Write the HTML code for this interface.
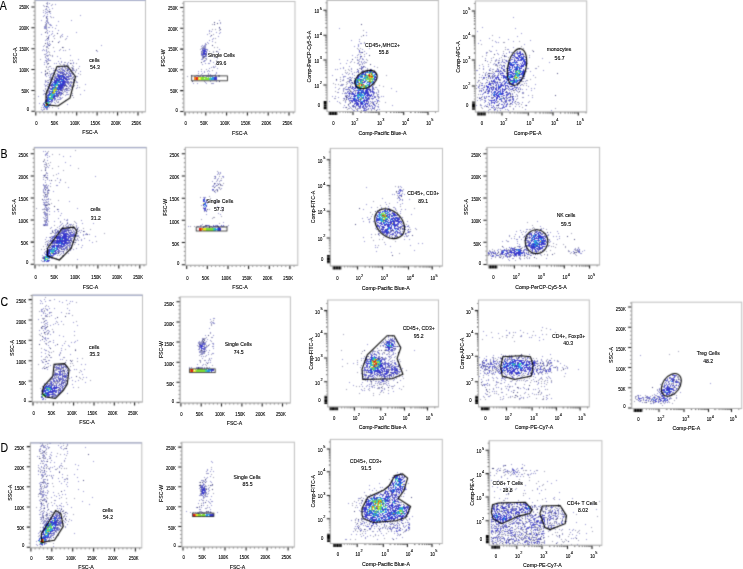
<!DOCTYPE html><html><head><meta charset="utf-8"><style>html,body{margin:0;padding:0;background:#fff;width:743px;height:569px;overflow:hidden}svg{display:block}text{font-family:"Liberation Sans",sans-serif;fill:#000;stroke:#000;stroke-width:0.12px}</style></head><body>
<svg width="743" height="569" viewBox="0 0 743 569">
<rect width="743" height="569" fill="#fff"/><defs><filter id="soft" filterUnits="userSpaceOnUse" x="0" y="0" width="743" height="569" color-interpolation-filters="sRGB"><feConvolveMatrix order="3" kernelMatrix="1 4 1 4 16 4 1 4 1" divisor="36" edgeMode="duplicate"/></filter></defs><g filter="url(#soft)">
<defs><filter id="bl" x="0" y="0" width="1" height="1"><feGaussianBlur stdDeviation="0.35"/></filter></defs><g><path d="M47 2h1M49 3h1M47 4h1M55 4h1M51 5h1M44 6h1M47 6h1M48 7h1M52 8h1M45 9h2M49 9h1M47 10h1M45 11h1M43 12h1M46 12h2M49 12h1M45 13h1M50 13h1M47 14h1M44 15h1M80 15h1M43 16h1M46 16h2M50 16h1M53 17h1M513 17h1M47 18h1M47 19h1M41 20h1M46 20h1M71 20h1M219 20h1M46 21h2M58 21h1M48 22h1M48 23h1M220 23h1M49 24h2M45 25h1M50 25h2M56 25h1M44 26h2M44 27h3M48 27h2M52 27h1M482 27h1M44 28h3M55 28h1M219 28h1M339 28h1M515 28h1M47 30h1M58 30h1M209 30h1M49 31h1M52 31h1M209 31h1M211 31h1M477 31h1M47 32h1M76 32h1M216 32h1M220 32h1M366 32h1M47 33h1M52 33h1M219 33h1M521 33h1M41 34h1M51 34h1M62 34h1M207 34h1M49 35h1M61 35h1M366 35h1M48 36h1M53 36h1M62 36h1M67 36h1M210 36h1M218 36h1M517 36h1M499 37h1M48 38h1M66 38h1M213 38h1M489 38h1M46 39h1M48 39h1M212 39h1M359 39h1M508 39h1M45 40h1M47 40h1M209 40h1M351 40h1M480 40h1M530 40h1M59 41h1M212 41h1M359 41h1M495 41h1M513 41h1M47 42h1M207 42h1M496 42h1M498 42h1M47 43h1M49 43h1M205 43h1M208 43h1M360 43h2M364 43h1M478 43h1M48 44h1M50 44h1M205 44h1M358 44h1M524 44h1M48 45h1M101 45h1M202 45h1M204 45h2M358 45h1M43 46h1M46 46h2M201 46h1M203 46h3M354 46h1M358 46h1M492 46h1M205 47h1M513 47h1M201 48h1M369 48h1M519 48h1M43 49h1M69 49h1M207 49h1M219 49h1M362 49h1M507 49h2M519 49h1M42 50h1M44 50h1M46 50h1M59 50h1M63 50h1M496 50h1M46 51h1M54 51h1M97 51h1M364 51h1M490 51h2M47 52h1M218 52h1M486 52h1M511 52h1M46 53h1M366 53h1M486 53h1M497 53h1M503 53h1M506 53h1M44 54h1M358 54h1M498 54h1M46 55h3M70 55h1M212 55h1M352 55h1M357 55h1M502 55h1M52 56h1M57 56h1M202 56h1M206 56h1M364 56h1M505 56h2M510 56h1M45 57h1M202 57h1M214 57h1M355 57h1M360 57h1M529 57h1M46 58h1M48 58h1M60 58h1M202 58h1M206 58h1M217 58h1M360 58h1M362 58h1M485 58h1M491 58h1M499 58h1M542 58h1M47 59h2M78 59h1M201 59h2M339 59h1M357 59h1M359 59h1M362 59h2M496 59h1M502 59h1M504 59h1M45 60h2M48 60h3M72 60h1M204 60h2M347 60h1M358 60h1M495 60h2M498 60h1M505 60h1M508 60h1M46 61h1M58 61h1M61 61h1M203 61h2M210 61h1M351 61h1M359 61h1M361 61h1M364 61h1M487 61h1M507 61h1M44 62h1M46 62h1M61 62h1M64 62h1M68 62h1M73 62h1M213 62h1M217 62h1M361 62h1M363 62h1M365 62h1M499 62h1M501 62h1M503 62h1M549 62h1M54 63h1M56 63h1M59 63h1M67 63h1M71 63h1M73 63h1M205 63h1M208 63h2M340 63h1M346 63h1M357 63h2M362 63h1M494 63h1M44 64h1M47 64h1M63 64h1M67 64h1M202 64h1M359 64h1M362 64h1M493 64h1M64 65h1M68 65h1M479 65h1M499 65h1M61 66h2M64 66h1M67 66h1M73 66h1M79 66h1M213 66h1M215 66h1M349 66h1M364 66h1M374 66h1M483 66h1M488 66h1M48 67h1M56 67h1M58 67h2M62 67h1M64 67h2M68 67h1M211 67h1M214 67h1M343 67h1M363 67h1M365 67h1M51 68h1M53 68h1M61 68h2M68 68h1M73 68h1M209 68h1M217 68h1M340 68h1M343 68h1M351 68h1M359 68h1M362 68h1M483 68h1M490 68h1M497 68h1M527 68h2M536 68h1M55 69h1M58 69h1M61 69h3M69 69h2M76 69h1M335 69h1M337 69h1M351 69h1M367 69h1M483 69h1M493 69h1M53 70h4M62 70h1M70 70h1M72 70h3M208 70h1M363 70h1M476 70h2M490 70h1M543 70h1M49 71h1M61 71h1M80 71h1M198 71h1M201 71h1M204 71h1M207 71h1M209 71h1M351 71h1M358 71h1M526 71h1M530 71h1M41 72h1M53 72h2M68 72h1M71 72h1M204 72h1M216 72h1M354 72h1M356 72h1M486 72h1M45 73h1M52 73h3M57 73h1M72 73h2M78 73h1M198 73h1M202 73h1M208 73h1M216 73h1M346 73h1M352 73h1M485 73h1M490 73h1M492 73h1M50 74h2M55 74h1M72 74h2M201 74h1M210 74h1M215 74h1M342 74h1M348 74h1M352 74h1M475 74h1M479 74h1M485 74h1M487 74h1M45 75h1M48 75h1M50 75h1M52 75h1M71 75h1M197 75h2M200 75h1M203 75h3M207 75h1M210 75h5M219 75h1M332 75h1M354 75h1M482 75h1M533 75h1M46 76h1M50 76h1M55 76h1M71 76h1M77 76h1M195 76h1M198 76h3M203 76h1M206 76h2M210 76h1M212 76h1M215 76h2M218 76h1M343 76h3M49 77h4M54 77h1M72 77h2M343 77h1M352 77h1M481 77h1M51 78h1M69 78h1M71 78h1M347 78h2M524 78h1M52 79h1M343 79h1M45 80h1M50 80h1M73 80h1M336 80h1M342 80h1M479 80h1M526 80h1M45 81h2M50 81h1M70 81h1M76 81h1M210 81h1M216 81h1M523 81h1M525 81h1M45 82h1M47 82h1M70 82h1M73 82h1M77 82h1M205 82h1M349 82h1M477 82h1M49 83h1M193 83h1M197 83h1M206 83h1M212 83h2M347 83h1M526 83h1M44 84h1M47 84h1M73 84h1M85 84h1M342 84h1M522 84h1M535 84h1M45 85h2M69 85h1M77 85h1M340 85h3M373 85h1M476 85h1M479 85h1M45 86h1M47 86h2M67 86h1M69 86h2M478 86h1M528 86h1M48 87h1M68 87h1M72 87h1M77 87h1M335 87h1M345 87h1M376 87h1M483 87h1M519 87h1M45 88h1M65 88h1M67 88h1M69 88h1M76 88h1M343 88h1M391 88h1M479 88h1M481 88h2M531 88h1M534 88h1M48 89h1M63 89h1M67 89h1M70 89h1M72 89h1M338 89h1M343 89h1M345 89h1M377 89h1M522 89h1M526 89h1M43 90h1M48 90h1M64 90h1M67 90h2M84 90h1M343 90h1M509 90h1M531 90h1M44 91h1M46 91h1M65 91h1M378 91h1M396 91h1M479 91h1M517 91h1M63 92h1M66 92h2M338 92h1M345 92h1M376 92h1M378 92h1M522 92h2M44 93h2M60 93h1M342 93h1M344 93h2M376 93h1M522 93h1M43 94h1M45 94h1M60 94h1M66 94h3M80 94h1M378 94h1M480 94h1M491 94h1M516 94h1M65 95h1M70 95h1M377 95h1M528 95h1M38 96h1M332 96h1M335 96h1M381 96h1M383 96h1M482 96h1M484 96h1M517 96h1M57 97h1M59 97h2M62 97h1M338 97h1M379 97h1M479 97h1M523 97h1M532 97h1M60 98h2M334 98h1M343 98h1M484 98h1M55 99h1M57 99h4M481 99h1M488 99h1M516 99h1M54 100h1M65 100h1M477 100h1M480 100h1M484 100h2M329 101h1M337 101h1M345 101h1M372 101h1M374 101h2M54 102h1M57 102h1M339 102h1M345 102h1M372 102h1M484 102h1M488 102h1M514 102h1M517 102h2M522 102h1M528 102h1M39 103h1M55 103h1M349 103h1M515 103h1M67 104h1M369 104h1M378 104h1M487 104h1M510 104h1M512 104h1M518 104h1M42 105h1M344 105h1M348 105h1M352 105h1M375 105h1M392 105h1M476 105h1M480 105h2M485 105h1M525 105h1M349 106h1M370 106h1M375 106h1M377 106h2M484 106h1M515 106h1M519 106h1M343 107h1M345 107h1M350 107h1M372 107h1M378 107h1M58 108h1M349 108h1M358 108h2M370 108h1M513 108h1M43 109h1M46 109h2M352 109h1M367 109h1M371 109h1M377 109h1M379 109h1M490 109h1M505 109h1M507 109h1M525 109h1M42 110h1M353 110h2M366 110h1M488 110h1M494 110h1M497 110h1M500 110h1M508 110h1M551 110h1M478 111h1M484 111h1M497 111h1M512 111h1M43 151h1M45 151h1M46 153h2M45 154h2M45 155h1M47 155h1M49 156h1M63 156h1M70 156h1M47 157h1M47 160h1M45 162h1M65 162h1M44 164h1M46 165h1M49 165h1M70 165h1M46 167h1M48 167h1M45 169h1M46 172h1M218 172h1M220 172h1M47 173h1M58 173h1M218 173h1M220 173h1M217 174h1M43 175h1M45 175h1M47 175h1M44 176h1M95 176h1M222 176h2M47 177h1M223 177h1M47 178h1M57 178h1M214 178h2M218 178h1M43 179h1M217 179h1M45 180h1M49 180h1M60 180h1M221 180h1M212 181h1M216 181h1M219 181h1M45 182h1M59 182h1M50 183h1M215 183h1M217 183h1M219 183h1M43 184h1M214 184h1M43 185h4M48 185h1M56 185h2M213 185h1M222 185h1M45 186h1M47 186h1M212 186h2M215 186h1M400 186h1M44 187h1M46 187h2M68 187h1M366 187h1M398 187h1M401 187h1M47 188h1M219 188h1M221 188h1M43 189h1M48 189h1M217 189h1M43 190h1M45 190h1M47 190h1M49 190h1M212 190h2M215 190h1M402 190h1M43 191h1M47 191h1M53 191h1M402 191h1M44 192h2M47 192h2M215 192h1M44 193h1M397 193h1M402 193h1M392 194h1M394 194h1M404 194h1M45 195h1M47 195h1M44 196h1M46 196h2M44 197h1M203 197h3M48 198h1M382 198h1M44 199h1M46 199h3M402 199h1M409 199h1M43 200h1M45 200h1M399 200h1M402 200h1M48 201h1M69 201h1M43 202h5M216 202h1M385 202h1M397 202h1M44 203h1M48 203h1M402 203h1M43 204h2M47 204h1M366 204h1M386 204h1M400 204h1M45 206h1M217 206h1M388 206h1M45 207h2M48 207h1M221 207h1M371 207h1M381 207h1M394 207h1M44 208h1M46 208h2M49 208h1M77 208h1M395 208h1M42 209h1M47 209h2M58 209h1M222 209h1M363 209h1M379 209h1M395 209h1M401 209h1M405 209h1M377 210h1M392 210h1M47 211h1M49 211h1M54 211h1M58 211h1M400 211h1M44 212h2M397 212h1M44 213h2M47 213h1M61 213h1M218 213h1M400 213h1M44 214h4M49 214h1M206 214h1M220 214h1M411 214h1M45 215h2M60 215h1M45 216h1M371 216h1M43 217h1M46 217h2M367 217h1M402 217h1M44 218h1M47 218h1M58 218h1M362 218h1M370 218h1M47 219h1M64 219h1M67 219h1M368 219h2M46 220h1M66 220h2M81 220h1M44 221h1M46 221h1M48 221h1M54 221h1M60 221h1M363 221h1M369 221h1M373 221h1M407 221h1M537 221h1M45 222h1M67 222h1M223 222h1M369 222h1M375 222h1M45 223h1M47 223h1M62 223h1M76 223h1M82 223h1M93 223h1M375 223h1M43 224h2M46 224h2M61 224h1M66 224h1M69 224h3M202 224h1M43 225h1M45 225h3M60 225h1M65 225h1M76 225h1M200 225h1M215 225h2M408 225h1M59 226h1M66 226h3M73 226h1M188 226h1M197 226h2M200 226h1M227 226h1M408 226h1M540 226h1M51 227h1M63 227h1M69 227h1M73 227h1M76 227h1M78 227h1M409 227h1M59 228h1M61 228h1M67 228h1M73 228h1M375 228h1M415 228h1M543 228h1M55 229h2M76 229h1M376 229h1M526 229h2M530 229h1M537 229h1M541 229h1M52 230h1M54 230h2M57 230h2M70 230h2M73 230h1M75 230h1M79 230h1M81 230h1M407 230h1M520 230h1M541 230h1M55 231h1M60 231h1M71 231h1M73 231h2M76 231h1M78 231h1M84 231h1M378 231h1M402 231h1M404 231h1M410 231h1M516 231h1M526 231h1M557 231h1M52 232h1M55 232h1M57 232h1M74 232h1M76 232h1M80 232h1M407 232h1M409 232h1M521 232h1M525 232h1M530 232h1M532 232h1M550 232h1M50 233h1M55 233h1M74 233h1M76 233h2M86 233h1M378 233h2M403 233h1M542 233h1M558 233h1M55 234h1M83 234h1M85 234h2M89 234h1M371 234h1M403 234h1M515 234h1M526 234h1M548 234h1M75 235h4M83 235h1M379 235h1M392 235h1M408 235h1M509 235h1M525 235h2M547 235h2M51 236h1M74 236h2M77 236h1M95 236h1M404 236h1M406 236h2M519 236h1M553 236h1M556 236h1M559 236h1M46 237h1M49 237h1M79 237h1M363 237h1M383 237h1M519 237h1M523 237h1M72 238h1M84 238h1M389 238h1M511 238h1M514 238h1M559 238h1M45 239h1M50 239h1M71 239h1M74 239h2M77 239h1M81 239h1M404 239h1M409 239h1M516 239h2M521 239h1M557 239h1M48 240h1M73 240h1M78 240h1M81 240h1M89 240h1M506 240h1M524 240h1M549 240h1M49 241h1M364 241h1M502 241h1M508 241h1M517 241h1M548 241h1M550 241h1M45 242h1M72 242h1M92 242h1M47 243h1M49 243h1M69 243h2M418 243h1M422 243h1M517 243h1M69 244h2M72 244h1M78 244h1M385 244h1M519 244h1M525 244h1M67 245h1M69 245h3M82 245h1M375 245h1M410 245h1M71 246h1M390 246h1M518 246h1M520 246h1M546 246h1M548 246h1M69 247h2M81 247h1M375 247h1M377 247h1M503 247h1M511 247h1M46 248h1M66 248h1M71 248h1M76 248h1M575 248h1M578 248h1M70 249h1M73 249h1M498 249h1M544 249h1M574 249h1M46 250h1M66 250h1M70 250h1M414 250h1M497 250h1M577 250h1M584 250h1M45 251h1M59 251h4M67 251h1M376 251h1M494 251h1M498 251h1M542 251h1M569 251h1M582 251h1M44 252h1M59 252h1M63 252h1M66 252h1M391 252h1M490 252h2M571 252h1M44 253h1M57 253h1M61 253h1M63 253h1M68 253h1M536 253h1M574 253h1M580 253h2M60 254h1M491 254h1M533 254h1M540 254h1M42 255h1M57 255h1M490 255h1M510 255h1M63 256h1M491 256h1M493 256h1M495 256h1M506 256h1M527 256h1M499 257h1M503 257h1M519 257h1M51 258h2M54 258h1M56 258h1M491 258h1M502 258h1M512 258h2M527 258h1M529 258h1M546 258h1M77 259h1M520 259h1M41 260h1M509 260h1M42 261h1M44 299h1M54 299h1M40 300h1M49 300h1M66 300h1M41 301h1M45 301h1M59 301h1M70 301h1M72 301h1M62 302h1M40 303h1M42 303h1M69 303h1M45 306h1M48 306h1M43 308h1M49 308h1M54 308h1M67 308h1M41 309h2M46 309h2M41 310h1M47 310h1M69 310h1M41 311h2M43 312h1M49 312h2M61 312h1M43 313h1M45 313h1M49 313h1M69 313h1M47 314h1M41 315h1M45 315h1M51 315h1M46 316h1M43 318h1M55 318h1M213 318h2M38 319h1M210 319h1M45 320h2M56 321h1M61 321h1M41 322h1M43 322h1M47 322h1M73 322h1M210 322h1M212 322h2M45 323h2M55 323h1M211 323h1M213 323h2M47 324h1M53 324h1M58 324h1M45 325h1M50 325h1M77 325h1M43 326h2M45 327h1M542 327h1M41 328h1M44 328h2M209 328h1M45 329h1M550 329h1M39 330h1M43 330h1M48 330h1M506 330h1M520 330h1M46 331h1M49 331h1M74 331h1M483 331h1M45 332h1M48 332h1M53 332h1M210 332h1M509 332h1M515 332h1M41 333h1M498 333h1M509 333h1M527 333h1M47 334h1M50 334h1M542 334h1M59 335h1M205 335h1M213 335h1M388 335h1M392 335h1M486 335h1M506 335h1M521 335h1M535 335h1M63 336h1M388 336h1M521 336h1M43 337h1M45 337h1M212 337h1M388 337h1M492 337h1M529 337h1M531 337h1M539 337h1M44 338h2M47 338h2M202 338h1M205 338h1M390 338h1M394 338h1M45 339h1M202 339h1M207 339h1M388 339h1M543 339h1M40 340h1M46 340h1M53 340h1M77 340h1M210 340h1M385 340h1M539 340h1M44 341h1M50 341h1M75 341h1M199 341h1M202 341h1M206 341h1M383 341h1M396 341h1M48 342h1M53 342h1M71 342h1M74 342h1M198 342h4M205 342h1M382 342h1M64 343h1M198 343h1M201 343h1M205 343h1M212 343h2M381 343h1M46 344h1M205 344h1M209 344h1M213 344h1M367 344h1M48 345h1M55 345h1M62 345h1M68 345h1M197 345h1M199 345h1M380 345h1M382 345h1M69 346h1M207 346h1M212 346h2M383 346h1M399 346h2M49 347h1M206 347h1M61 348h1M213 348h1M377 348h1M44 349h1M198 349h2M205 349h1M395 349h1M45 350h2M61 350h1M204 350h1M206 350h1M209 350h1M373 350h1M378 350h1M393 350h2M414 350h1M199 351h2M202 351h1M205 351h1M373 351h2M377 351h1M391 351h2M41 352h1M49 352h1M60 352h1M199 352h2M202 352h1M208 352h1M372 352h1M377 352h1M389 352h1M393 352h1M45 353h1M201 353h4M212 353h2M370 353h1M372 353h1M378 353h1M382 353h1M393 353h1M395 353h1M711 353h1M59 354h1M70 354h1M200 354h1M202 354h1M208 354h1M370 354h1M376 354h1M379 354h1M382 354h1M386 354h2M389 354h1M392 354h2M501 354h1M529 354h1M550 354h1M59 355h1M206 355h1M391 355h1M493 355h1M503 355h1M505 355h1M509 355h1M511 355h1M520 355h1M640 355h1M41 356h1M46 356h1M201 356h1M203 356h1M366 356h2M388 356h3M486 356h1M519 356h1M542 356h1M50 357h1M64 357h1M365 357h1M385 357h1M389 357h1M391 357h1M394 357h1M479 357h1M492 357h1M498 357h1M502 357h1M516 357h1M527 357h2M77 358h1M202 358h1M209 358h1M211 358h1M361 358h1M363 358h1M385 358h2M484 358h1M493 358h1M529 358h1M531 358h1M45 359h1M60 359h1M62 359h1M342 359h1M385 359h1M389 359h1M399 359h1M490 359h1M541 359h1M41 360h1M49 360h1M205 360h1M208 360h1M210 360h1M388 360h1M392 360h1M394 360h1M490 360h1M537 360h1M541 360h1M554 360h1M42 361h1M45 361h1M200 361h1M364 361h1M385 361h1M390 361h2M397 361h2M542 361h1M546 361h1M557 361h2M707 361h1M43 362h1M206 362h1M208 362h1M210 362h1M357 362h1M388 362h1M392 362h1M394 362h2M497 362h1M47 363h2M353 363h1M363 363h2M389 363h1M560 363h1M45 364h1M54 364h1M58 364h2M63 364h3M81 364h1M85 364h1M197 364h1M203 364h1M396 364h1M50 365h1M55 365h1M58 365h1M63 365h1M65 365h2M202 365h1M393 365h1M399 365h1M479 365h1M552 365h1M564 365h1M54 366h1M63 366h1M540 366h1M546 366h1M47 367h1M56 367h1M59 367h1M66 367h1M191 367h1M196 367h2M199 367h2M202 367h1M204 367h1M209 367h1M360 367h1M399 367h1M480 367h1M553 367h2M562 367h1M567 367h1M42 368h1M45 368h1M66 368h1M189 368h1M196 368h2M199 368h2M204 368h1M208 368h1M362 368h1M402 368h1M557 368h1M565 368h1M567 368h1M47 369h1M58 369h1M61 369h1M65 369h1M67 369h1M74 369h1M76 369h1M84 369h1M203 369h1M399 369h2M547 369h1M578 369h1M55 370h2M70 370h1M363 370h1M480 370h1M485 370h1M557 370h1M54 371h1M62 371h1M66 371h1M81 371h1M362 371h1M399 371h2M483 371h1M491 371h1M550 371h1M55 372h1M64 372h1M364 372h1M484 372h1M487 372h1M493 372h1M540 372h1M361 373h2M402 373h1M480 373h1M484 373h2M488 373h1M491 373h3M547 373h1M565 373h1M68 374h1M82 374h1M363 374h1M397 374h1M494 374h1M507 374h1M538 374h1M542 374h1M672 374h2M483 375h1M488 375h1M506 375h1M510 375h1M514 375h1M362 376h1M374 376h1M387 376h1M393 376h1M395 376h2M399 376h1M402 376h1M479 376h1M529 376h2M533 376h1M548 376h1M55 377h1M60 377h1M67 377h1M71 377h1M83 377h1M86 377h1M362 377h1M375 377h1M387 377h1M492 377h1M496 377h1M506 377h1M513 377h1M520 377h1M535 377h1M541 377h1M546 377h1M549 377h1M51 378h1M54 378h1M66 378h1M69 378h1M363 378h1M368 378h1M371 378h1M376 378h1M391 378h1M396 378h1M493 378h1M497 378h1M501 378h3M514 378h1M516 378h1M540 378h1M550 378h1M667 378h1M50 379h1M374 379h1M378 379h1M386 379h2M394 379h1M481 379h1M488 379h1M504 379h1M524 379h1M533 379h1M539 379h1M665 379h1M50 380h1M72 380h1M78 380h1M367 380h1M373 380h1M387 380h1M393 380h1M400 380h1M486 380h1M488 380h1M501 380h1M505 380h1M517 380h1M519 380h1M527 380h1M547 380h1M680 380h1M49 381h2M61 381h1M65 381h1M75 381h1M367 381h1M370 381h1M375 381h2M378 381h2M385 381h1M388 381h1M482 381h1M496 381h1M511 381h1M525 381h1M534 381h1M50 382h1M58 382h1M62 382h1M67 382h1M85 382h1M349 382h1M362 382h1M378 382h1M381 382h1M386 382h1M496 382h2M504 382h1M538 382h1M551 382h1M44 383h1M47 383h1M57 383h1M66 383h1M375 383h1M377 383h1M384 383h2M388 383h1M501 383h1M515 383h1M538 383h1M544 383h1M664 383h1M710 383h1M44 384h1M63 384h1M65 384h2M72 384h1M361 384h1M369 384h1M371 384h1M379 384h1M386 384h1M483 384h3M489 384h1M496 384h1M508 384h1M537 384h1M660 384h1M664 384h1M62 385h1M65 385h2M353 385h1M367 385h1M374 385h1M387 385h1M389 385h1M394 385h1M487 385h1M42 386h1M362 386h1M366 386h1M369 386h1M371 386h2M391 386h1M507 386h1M509 386h1M512 386h1M544 386h1M64 387h1M73 387h1M372 387h1M374 387h1M378 387h1M496 387h1M498 387h1M509 387h1M523 387h1M369 388h1M379 388h1M384 388h1M392 388h1M399 388h1M501 388h1M506 388h1M518 388h1M520 388h1M524 388h1M528 388h1M538 388h1M659 388h1M62 389h1M361 389h1M368 389h1M384 389h1M493 389h1M508 389h1M526 389h1M533 389h1M535 389h1M545 389h1M41 390h1M61 390h2M362 390h1M364 390h1M381 390h2M486 390h1M508 390h1M514 390h1M657 390h1M41 391h1M62 391h1M381 391h1M393 391h1M492 391h1M494 391h1M511 391h1M658 391h1M60 392h1M502 392h1M525 392h1M541 392h1M680 392h1M59 393h1M67 393h1M388 393h1M485 393h1M496 393h1M532 393h1M657 393h1M57 394h1M486 394h1M536 394h1M654 394h1M674 394h1M547 395h1M640 395h1M655 395h2M54 396h2M483 396h1M488 396h2M503 396h1M510 396h1M543 396h1M636 396h1M650 396h1M54 397h1M521 397h1M523 397h1M527 397h1M546 397h1M643 397h1M676 397h1M503 398h1M519 398h2M547 398h1M551 398h1M670 398h1M43 399h1M45 399h1M500 399h1M546 399h1M640 401h1M642 402h1M663 402h1M651 403h1M653 403h1M664 403h1M40 443h1M42 443h1M49 443h2M60 443h1M63 443h1M67 444h1M41 445h2M45 445h1M58 445h1M41 446h1M44 446h1M47 446h1M61 446h1M43 447h3M48 447h1M60 447h1M85 447h1M40 448h1M46 448h1M48 448h1M61 448h1M65 448h1M39 449h2M63 449h1M39 450h1M42 450h1M45 450h1M40 451h1M67 451h1M42 452h2M51 452h1M45 453h1M67 453h1M43 454h1M50 454h1M64 454h1M42 455h2M51 455h1M37 456h1M44 456h1M49 456h1M56 456h1M42 457h1M45 457h1M50 457h1M45 458h1M49 458h1M65 458h1M47 459h1M41 460h1M43 460h1M51 460h1M64 460h1M42 461h1M44 461h1M46 461h1M93 461h1M211 461h1M50 462h1M54 462h1M212 462h1M40 463h1M43 463h1M61 463h1M45 464h2M75 464h1M511 464h1M522 464h1M38 465h1M44 465h1M46 465h1M60 465h1M78 465h1M503 465h2M524 465h1M41 466h1M44 466h1M54 466h1M59 466h1M62 466h1M41 467h1M50 467h1M52 467h1M59 467h1M39 468h1M43 468h2M49 468h1M498 468h1M512 468h1M517 468h1M522 468h1M40 469h1M49 469h1M55 469h1M77 469h1M207 469h1M211 469h1M497 469h1M505 469h1M516 469h1M42 470h1M207 470h1M496 470h1M518 470h1M530 470h1M537 470h1M38 471h1M40 471h1M44 471h1M46 471h1M50 471h1M59 471h1M206 471h1M210 471h1M213 471h1M508 471h2M511 471h1M534 471h1M42 472h3M397 472h1M504 472h1M514 472h1M517 472h1M519 472h1M207 473h2M496 473h1M508 473h1M512 473h1M531 473h1M533 473h1M535 473h1M38 474h1M41 474h2M44 474h2M62 474h1M74 474h1M513 474h1M518 474h1M521 474h2M527 474h1M530 474h1M41 475h3M47 475h1M49 475h1M51 475h1M53 475h1M490 475h1M510 475h1M528 475h1M210 476h1M501 476h1M516 476h2M520 476h1M42 477h1M52 477h1M62 477h1M77 477h1M204 477h1M207 477h1M501 477h1M41 478h1M52 478h1M58 478h1M67 478h1M206 478h1M507 478h1M44 479h2M47 479h1M64 479h2M43 480h1M201 480h2M205 480h1M491 480h1M498 480h1M556 480h1M43 481h1M59 481h1M64 481h1M78 481h1M203 481h2M206 481h1M210 481h1M547 481h1M40 482h2M44 482h2M67 482h1M211 482h1M39 483h1M43 483h1M45 483h1M48 483h1M61 483h1M203 483h1M379 483h1M408 483h1M516 483h1M551 483h1M40 484h2M46 484h1M66 484h1M204 484h1M504 484h1M40 485h1M47 485h1M201 485h1M203 485h1M211 485h1M369 485h1M525 485h1M42 486h1M46 486h2M67 486h1M200 486h1M206 486h1M492 486h1M539 486h1M45 487h2M380 487h1M382 487h1M387 487h1M497 487h1M506 487h1M40 488h2M43 488h1M199 488h1M206 488h1M208 488h1M374 488h1M537 488h1M39 489h1M78 489h1M208 489h1M369 489h1M384 489h1M406 489h1M500 489h1M515 489h1M537 489h1M40 490h1M43 490h1M47 490h1M64 490h1M209 490h1M372 490h1M376 490h1M524 490h1M541 490h1M40 491h1M42 491h2M83 491h1M208 491h1M380 491h1M494 491h1M510 491h1M40 492h1M42 492h2M45 492h1M47 492h1M53 492h1M206 492h1M364 492h1M379 492h1M559 492h1M40 493h1M47 493h1M208 493h1M380 493h1M404 493h1M539 493h1M40 494h5M62 494h1M65 494h1M200 494h1M207 494h1M370 494h1M398 494h1M506 494h1M42 495h2M45 495h2M54 495h1M59 495h1M199 495h2M42 496h2M56 496h1M205 496h3M211 496h1M403 496h1M42 497h1M51 497h1M92 497h1M203 497h1M554 497h1M59 498h1M203 498h1M358 498h2M363 498h1M499 498h1M505 498h1M507 498h1M529 498h1M545 498h1M553 498h1M572 498h1M40 499h1M43 499h3M201 499h1M210 499h1M559 499h1M39 500h1M44 500h1M46 500h1M55 500h1M199 500h1M202 500h1M206 500h1M518 500h1M45 501h1M82 501h1M208 501h1M211 501h2M362 501h1M546 501h1M41 502h1M203 502h1M209 502h1M356 502h1M361 502h1M399 502h2M523 502h1M525 502h1M532 502h1M40 503h1M54 503h1M61 503h1M198 503h1M203 503h1M210 503h1M348 503h1M359 503h1M514 503h1M41 504h2M47 504h1M67 504h1M89 504h1M401 504h1M514 504h1M592 504h1M41 505h1M44 505h1M47 505h1M52 505h1M59 505h2M203 505h1M211 505h1M360 505h1M407 505h1M493 505h1M535 505h1M540 505h1M556 505h1M57 506h1M61 506h1M63 506h1M513 506h1M534 506h1M538 506h2M541 506h1M551 506h1M553 506h1M40 507h1M44 507h1M47 507h1M71 507h1M196 507h1M199 507h1M201 507h1M207 507h1M209 507h1M357 507h1M536 507h1M540 507h1M543 507h1M546 507h1M550 507h1M41 508h1M43 508h1M57 508h1M59 508h1M61 508h1M205 508h1M537 508h1M542 508h1M545 508h1M557 508h1M40 509h1M199 509h2M210 509h1M532 509h1M540 509h1M542 509h1M554 509h1M558 509h1M596 509h1M39 510h1M47 510h1M55 510h1M60 510h1M63 510h1M359 510h1M555 510h1M558 510h1M561 510h2M42 511h1M44 511h1M50 511h2M55 511h1M58 511h1M60 511h1M186 511h1M200 511h1M210 511h1M360 511h1M533 511h1M555 511h1M558 511h1M40 512h1M43 512h1M46 512h1M56 512h1M59 512h2M66 512h1M190 512h1M193 512h1M197 512h1M199 512h1M208 512h2M217 512h1M537 512h1M558 512h1M562 512h1M573 512h1M42 513h2M55 513h2M58 513h2M63 513h1M67 513h1M196 513h2M201 513h1M203 513h1M206 513h1M530 513h1M547 513h2M553 513h1M558 513h1M560 513h1M562 513h1M39 514h1M42 514h1M47 514h1M52 514h1M531 514h1M549 514h1M558 514h1M561 514h1M42 515h1M46 515h2M49 515h2M52 515h1M64 515h1M362 515h1M524 515h1M554 515h1M557 515h1M42 516h2M64 516h1M66 516h1M412 516h1M551 516h1M40 517h2M47 517h1M537 517h1M553 517h1M557 517h1M41 518h1M43 518h1M46 518h1M48 518h1M61 518h2M409 518h1M516 518h1M525 518h1M533 518h1M548 518h1M556 518h1M560 518h1M562 518h1M41 519h1M43 519h1M46 519h1M69 519h1M355 519h1M409 519h1M553 519h1M42 520h1M44 520h1M66 520h1M71 520h1M351 520h1M358 520h1M366 520h1M407 520h1M491 520h1M521 520h1M41 521h1M43 521h2M46 521h1M62 521h1M64 521h1M358 521h1M363 521h1M369 521h1M395 521h1M522 521h1M540 521h1M547 521h1M554 521h1M561 521h2M564 521h3M43 522h2M62 522h1M65 522h1M366 522h1M397 522h1M405 522h1M407 522h2M491 522h1M513 522h2M576 522h1M42 523h2M63 523h1M361 523h1M369 523h1M389 523h1M397 523h1M403 523h1M409 523h1M506 523h1M508 523h1M514 523h1M522 523h1M552 523h1M558 523h1M561 523h1M44 524h1M62 524h1M67 524h1M356 524h1M360 524h2M367 524h1M391 524h1M396 524h1M399 524h1M509 524h1M512 524h1M524 524h1M547 524h1M557 524h1M562 524h1M585 524h1M62 525h1M365 525h1M377 525h1M384 525h1M399 525h1M403 525h1M406 525h1M494 525h1M498 525h1M515 525h1M554 525h1M43 526h1M60 526h1M65 526h1M355 526h1M359 526h1M366 526h1M374 526h1M376 526h1M379 526h1M403 526h1M405 526h1M408 526h1M494 526h1M500 526h1M520 526h1M543 526h1M58 527h1M65 527h1M383 527h1M388 527h1M390 527h1M404 527h1M493 527h1M512 527h1M58 528h1M354 528h1M356 528h1M374 528h1M382 528h1M385 528h1M387 528h1M395 528h1M409 528h1M491 528h2M512 528h1M520 528h1M549 528h1M58 529h1M361 529h1M369 529h1M402 529h1M507 529h1M514 529h1M522 529h2M559 529h1M562 529h1M569 529h1M573 529h1M57 530h2M361 530h1M379 530h1M398 530h1M491 530h1M549 530h1M572 530h1M56 531h1M353 531h1M365 531h1M372 531h1M377 531h1M380 531h1M391 531h1M394 531h1M404 531h1M506 531h1M514 531h1M516 531h1M519 531h1M523 531h1M39 532h1M41 532h1M56 532h1M493 532h1M502 532h1M515 532h1M519 532h1M535 532h1M570 532h1M38 533h1M74 533h1M365 533h1M381 533h1M394 533h1M397 533h1M495 533h1M507 533h1M509 533h1M544 533h1M579 533h1M586 533h1M53 534h2M58 534h1M351 534h1M356 534h1M375 534h1M398 534h1M492 534h1M499 534h1M503 534h1M505 534h1M517 534h1M541 534h1M562 534h1M572 534h1M39 535h1M51 535h1M53 535h1M363 535h1M370 535h1M383 535h1M397 535h1M399 535h1M510 535h1M518 535h1M532 535h1M576 535h1M40 536h1M51 536h1M361 536h1M367 536h1M557 536h1M365 537h1M402 537h1M493 537h1M559 537h1M575 537h1M51 538h1M365 538h1M392 538h1M396 538h1M507 538h1M513 538h1M539 538h1M571 538h1M573 538h1M345 539h2M377 539h1M491 539h1M522 539h1M535 539h1M541 539h1M586 539h1M46 540h1M49 540h1M495 540h1M519 540h1M36 541h1M46 541h1M491 541h1M498 541h1M512 541h1M544 541h1M494 542h1M500 542h1M544 542h1M557 542h1M45 543h2M499 543h1M513 543h1M517 543h1M522 543h1M539 543h1M544 543h1M36 544h1M493 544h1M517 544h1M523 544h1M532 544h1M577 544h1M37 545h1M42 545h1M53 546h1" stroke="rgb(145, 145, 205)" stroke-width="1" transform="translate(0,0.5)"/><path d="M46 23h1M203 48h2M202 49h1M204 49h3M202 50h1M205 50h1M359 50h1M201 51h1M203 51h1M206 51h1M359 51h1M517 51h1M520 51h1M206 52h1M361 52h1M509 52h1M516 52h1M519 52h1M201 53h1M206 53h1M514 53h1M201 54h2M205 54h1M514 54h1M517 54h1M202 55h1M205 55h1M512 55h1M514 55h1M203 56h1M205 56h1M360 56h1M524 56h1M512 57h2M523 57h1M525 57h1M511 59h2M514 59h1M524 59h2M506 60h1M510 60h1M515 60h1M518 60h3M502 61h1M506 61h1M525 61h1M504 62h1M508 62h1M517 62h1M498 63h1M520 63h1M525 63h1M496 64h1M518 64h1M521 64h1M525 64h1M501 65h1M504 65h1M519 65h1M361 66h1M502 66h1M504 66h1M508 66h1M362 67h1M501 67h1M515 67h1M521 67h1M361 68h1M501 68h2M506 68h1M512 68h1M525 68h1M67 69h2M371 69h1M497 69h1M504 69h1M525 69h1M57 70h1M63 70h2M358 70h1M489 70h1M498 70h1M500 70h1M58 71h1M64 71h1M69 71h1M357 71h1M362 71h1M496 71h2M500 71h2M507 71h1M58 72h5M66 72h1M502 72h1M524 72h1M64 73h1M66 73h2M69 73h2M360 73h1M375 73h1M494 73h1M498 73h1M501 73h1M503 73h1M506 73h1M57 74h2M64 74h1M68 74h1M70 74h1M358 74h1M493 74h1M500 74h1M509 74h1M524 74h1M57 75h1M59 75h1M63 75h1M65 75h1M70 75h1M357 75h2M488 75h1M492 75h1M494 75h1M498 75h1M501 75h2M504 75h1M523 75h1M57 76h1M67 76h4M488 76h1M494 76h1M504 76h3M522 76h1M524 76h1M55 77h1M65 77h1M67 77h2M350 77h1M356 77h1M376 77h1M483 77h2M486 77h1M490 77h1M492 77h1M495 77h2M501 77h1M521 77h1M55 78h1M60 78h1M354 78h1M376 78h1M483 78h1M490 78h1M492 78h1M495 78h1M503 78h1M505 78h1M523 78h1M54 79h1M68 79h2M350 79h1M494 79h1M496 79h1M64 80h1M66 80h1M350 80h1M354 80h1M374 80h1M487 80h1M491 80h1M494 80h1M499 80h1M52 81h1M67 81h2M349 81h1M492 81h1M494 81h2M503 81h2M48 82h1M50 82h2M65 82h4M71 82h1M351 82h1M354 82h1M486 82h1M489 82h1M496 82h1M499 82h2M502 82h1M508 82h1M518 82h1M50 83h1M67 83h1M352 83h1M354 83h1M482 83h1M490 83h4M495 83h1M497 83h1M504 83h1M508 83h2M519 83h1M52 84h1M64 84h1M68 84h1M70 84h1M493 84h1M498 84h1M500 84h2M52 85h1M66 85h1M70 85h1M481 85h2M486 85h1M490 85h1M495 85h2M500 85h1M506 85h1M520 85h1M51 86h1M64 86h1M369 86h1M493 86h1M501 86h1M512 86h1M514 86h1M49 87h1M63 87h1M348 87h3M352 87h1M369 87h1M372 87h1M478 87h1M484 87h1M490 87h1M505 87h1M508 87h1M514 87h4M49 88h3M62 88h1M351 88h1M367 88h2M372 88h2M487 88h1M496 88h1M499 88h1M505 88h2M509 88h1M513 88h1M516 88h1M50 89h1M61 89h1M65 89h1M346 89h2M349 89h1M372 89h1M483 89h1M486 89h2M489 89h1M491 89h3M500 89h1M503 89h1M508 89h1M510 89h3M518 89h1M520 89h1M62 90h1M66 90h1M356 90h1M363 90h1M369 90h1M372 90h1M481 90h1M489 90h1M492 90h1M496 90h2M500 90h1M516 90h1M49 91h1M59 91h1M348 91h1M353 91h1M371 91h1M373 91h1M481 91h1M485 91h1M487 91h2M491 91h1M500 91h1M49 92h1M58 92h1M60 92h2M347 92h1M349 92h1M368 92h1M370 92h1M372 92h3M484 92h1M488 92h1M491 92h1M493 92h1M498 92h1M505 92h1M507 92h1M509 92h1M57 93h1M59 93h1M61 93h1M346 93h1M348 93h1M350 93h1M373 93h1M483 93h1M487 93h2M492 93h1M508 93h3M46 94h1M57 94h1M61 94h1M349 94h1M351 94h2M369 94h1M373 94h1M482 94h1M507 94h1M512 94h1M55 95h3M60 95h1M347 95h1M349 95h1M504 95h1M506 95h2M46 96h1M55 96h3M345 96h1M348 96h1M351 96h1M374 96h1M378 96h1M486 96h1M488 96h2M495 96h1M501 96h1M506 96h1M513 96h1M47 97h1M347 97h1M350 97h1M374 97h2M484 97h1M491 97h1M506 97h1M508 97h3M53 98h3M344 98h1M348 98h2M352 98h1M369 98h1M371 98h3M480 98h1M485 98h1M492 98h1M503 98h1M507 98h1M513 98h1M46 99h1M54 99h1M348 99h1M367 99h2M376 99h1M504 99h1M510 99h1M512 99h2M45 100h1M52 100h1M349 100h2M352 100h1M355 100h1M377 100h2M489 100h2M492 100h1M505 100h2M508 100h3M513 100h1M45 101h1M52 101h1M351 101h1M354 101h1M356 101h1M368 101h1M370 101h1M377 101h1M485 101h1M491 101h1M501 101h1M505 101h2M512 101h1M44 102h1M51 102h1M352 102h1M368 102h1M373 102h1M491 102h3M496 102h1M503 102h1M505 102h1M512 102h1M354 103h1M356 103h1M373 103h1M489 103h1M491 103h1M499 103h1M504 103h1M507 103h1M511 103h1M43 104h1M50 104h1M354 104h1M374 104h1M489 104h1M498 104h1M501 104h2M506 104h2M49 105h1M358 105h1M368 105h2M371 105h1M374 105h1M491 105h1M496 105h1M503 105h1M506 105h1M352 106h3M358 106h2M362 106h1M367 106h1M369 106h1M372 106h1M487 106h1M493 106h1M503 106h1M505 106h2M43 107h1M46 107h1M355 107h1M359 107h2M374 107h1M491 107h2M494 107h1M498 107h1M502 107h3M46 108h1M363 108h3M368 108h1M372 108h2M500 108h1M502 108h1M364 109h1M366 109h1M494 109h2M357 110h1M363 110h3M215 176h1M216 185h1M44 188h1M212 189h2M400 189h1M399 190h3M398 191h1M400 191h1M399 192h1M398 193h2M399 195h3M398 197h1M204 198h1M399 198h1M400 199h1M206 200h1M207 203h1M45 205h1M205 207h1M203 208h1M388 208h1M204 209h2M385 209h1M388 209h2M46 210h1M204 210h2M390 210h1M206 211h1M384 211h1M390 211h1M392 212h1M376 213h1M389 213h1M376 214h1M389 214h1M375 215h1M397 217h1M399 217h1M376 218h1M399 218h1M46 219h1M398 220h1M401 221h1M46 222h1M378 222h1M403 222h1M398 223h1M400 223h1M45 224h1M377 224h1M395 224h1M397 224h2M401 224h1M207 225h2M213 225h1M217 225h1M221 225h1M223 225h1M389 225h1M397 225h1M402 225h3M204 226h1M211 226h1M213 226h3M222 226h1M377 226h2M381 226h1M389 226h1M395 226h1M400 226h2M405 226h1M407 226h1M203 227h1M218 227h2M391 227h1M398 227h1M400 227h1M404 227h1M66 228h1M68 228h2M379 228h1M381 228h1M383 228h1M397 228h2M404 228h1M60 229h1M62 229h4M67 229h1M390 229h1M402 229h1M405 229h1M536 229h1M61 230h2M64 230h4M69 230h1M382 230h1M384 230h1M399 230h1M58 231h1M62 231h2M66 231h1M68 231h1M382 231h3M390 231h2M395 231h3M400 231h1M408 231h1M536 231h2M56 232h1M58 232h1M61 232h4M69 232h3M380 232h1M383 232h1M385 232h1M390 232h1M394 232h2M398 232h2M408 232h1M538 232h1M59 233h3M64 233h1M67 233h1M69 233h2M73 233h1M383 233h1M389 233h1M392 233h2M395 233h1M397 233h1M399 233h1M401 233h1M529 233h3M545 233h1M58 234h3M66 234h1M71 234h4M385 234h1M387 234h1M390 234h4M396 234h1M400 234h2M405 234h1M528 234h3M541 234h2M54 235h1M56 235h1M58 235h1M71 235h3M386 235h1M389 235h1M395 235h2M53 236h2M68 236h2M71 236h3M389 236h1M527 236h1M531 236h1M542 236h4M52 237h2M55 237h1M61 237h1M66 237h1M394 237h1M530 237h1M543 237h1M545 237h1M51 238h2M70 238h2M527 238h1M529 238h1M543 238h1M54 239h1M68 239h1M70 239h1M545 239h1M50 240h3M54 240h1M526 240h2M50 241h1M52 241h1M66 241h1M69 241h1M71 241h1M528 241h2M545 241h1M51 242h1M53 242h2M67 242h3M527 242h2M546 242h1M51 243h4M66 243h1M68 243h1M539 243h1M544 243h2M54 244h1M66 244h1M528 244h1M531 244h1M542 244h1M545 244h1M47 245h1M52 245h1M55 245h1M63 245h3M68 245h1M525 245h3M530 245h1M60 246h1M66 246h1M69 246h1M519 246h1M525 246h1M49 247h1M57 247h4M62 247h1M65 247h2M509 247h1M526 247h1M540 247h2M51 248h1M59 248h1M61 248h1M63 248h1M65 248h1M511 248h1M513 248h2M526 248h2M531 248h1M533 248h1M542 248h1M48 249h1M58 249h1M62 249h3M504 249h1M510 249h1M512 249h1M514 249h1M520 249h1M524 249h2M530 249h1M534 249h1M538 249h1M540 249h1M577 249h1M579 249h1M56 250h1M58 250h2M502 250h2M505 250h3M509 250h2M512 250h1M523 250h1M526 250h2M542 250h1M46 251h1M57 251h2M490 251h1M501 251h2M523 251h1M530 251h1M532 251h1M535 251h1M573 251h1M578 251h2M55 252h2M488 252h1M492 252h2M495 252h1M501 252h1M521 252h4M531 252h1M536 252h1M579 252h1M46 253h1M56 253h1M488 253h2M491 253h1M494 253h2M506 253h1M508 253h1M511 253h1M524 253h1M532 253h1M45 254h1M53 254h2M500 254h1M502 254h1M504 254h1M510 254h1M520 254h1M524 254h1M527 254h2M52 255h2M492 255h2M496 255h3M505 255h2M511 255h1M513 255h1M516 255h1M518 255h3M522 255h1M530 255h1M50 256h1M52 256h1M492 256h1M507 256h1M509 256h2M514 256h1M43 257h1M507 257h1M49 260h1M44 261h1M47 261h2M392 338h1M390 339h2M394 339h1M389 340h1M391 340h3M386 341h1M388 341h1M392 341h3M389 342h1M394 342h1M202 343h3M384 343h1M386 343h1M394 343h1M200 344h1M202 344h3M393 344h1M202 345h1M383 345h1M393 345h1M199 346h2M203 346h1M394 346h2M200 347h1M204 347h2M385 347h1M199 348h1M203 348h2M394 348h1M201 349h1M203 349h2M386 350h3M390 350h3M203 351h1M378 352h1M374 353h1M371 354h1M374 354h2M371 355h2M376 355h1M379 356h1M503 356h1M521 356h1M370 357h1M378 357h1M382 357h1M509 357h1M511 357h1M519 357h1M365 358h2M379 358h2M382 358h1M500 358h1M505 358h1M509 358h1M511 358h1M522 358h2M527 358h1M367 359h2M381 359h4M486 359h1M502 359h1M505 359h1M507 359h1M512 359h2M517 359h1M365 360h1M367 360h1M384 360h1M483 360h1M485 360h2M493 360h1M507 360h1M511 360h1M517 360h1M522 360h2M527 360h1M534 360h1M549 360h2M366 361h3M493 361h3M499 361h1M501 361h1M526 361h3M530 361h1M533 361h2M537 361h1M365 362h2M384 362h2M482 362h3M490 362h1M493 362h1M503 362h1M510 362h1M535 362h1M540 362h1M548 362h1M550 362h2M384 363h5M394 363h2M484 363h1M488 363h1M490 363h2M494 363h1M496 363h1M498 363h1M530 363h1M543 363h1M55 364h1M383 364h3M387 364h2M390 364h2M395 364h1M480 364h1M482 364h1M488 364h1M490 364h3M496 364h1M499 364h1M501 364h1M528 364h1M534 364h1M547 364h1M59 365h1M61 365h1M367 365h1M385 365h1M389 365h1M398 365h1M482 365h1M484 365h1M494 365h1M502 365h1M530 365h1M533 365h1M535 365h1M539 365h1M543 365h1M551 365h1M56 366h1M61 366h1M64 366h1M366 366h2M385 366h1M387 366h1M389 366h1M391 366h2M394 366h1M397 366h1M483 366h1M485 366h2M489 366h2M492 366h2M499 366h1M541 366h1M550 366h1M55 367h1M57 367h2M61 367h2M65 367h1M364 367h2M367 367h1M382 367h2M385 367h1M389 367h1M391 367h1M393 367h3M481 367h1M488 367h2M492 367h1M494 367h2M512 367h1M528 367h1M530 367h1M532 367h1M535 367h1M540 367h1M557 367h1M56 368h1M58 368h2M364 368h1M385 368h1M391 368h1M395 368h2M482 368h1M485 368h1M492 368h1M496 368h1M509 368h1M527 368h1M531 368h1M533 368h1M540 368h1M549 368h2M60 369h1M364 369h2M367 369h1M378 369h1M381 369h1M383 369h1M387 369h1M391 369h1M393 369h3M397 369h1M484 369h1M487 369h1M517 369h1M525 369h1M528 369h1M532 369h1M536 369h2M539 369h3M545 369h1M549 369h2M60 370h1M62 370h1M64 370h1M364 370h3M368 370h1M388 370h1M391 370h2M394 370h1M489 370h1M497 370h1M508 370h1M524 370h1M529 370h2M532 370h2M536 370h2M543 370h1M548 370h1M550 370h1M58 371h3M378 371h1M385 371h1M394 371h1M397 371h2M489 371h1M499 371h1M510 371h1M524 371h3M540 371h1M542 371h1M545 371h1M548 371h2M59 372h2M67 372h1M368 372h1M372 372h1M377 372h1M382 372h1M387 372h1M392 372h2M397 372h1M399 372h1M489 372h1M495 372h1M498 372h1M500 372h1M502 372h1M512 372h1M516 372h1M528 372h1M533 372h1M537 372h1M539 372h1M541 372h1M55 373h3M59 373h2M62 373h1M65 373h1M67 373h1M372 373h1M374 373h1M376 373h1M379 373h2M396 373h2M487 373h1M499 373h3M504 373h1M509 373h1M515 373h1M520 373h1M523 373h1M528 373h1M532 373h1M534 373h1M54 374h1M56 374h7M66 374h1M364 374h2M370 374h1M374 374h2M378 374h1M380 374h4M386 374h1M390 374h2M396 374h1M505 374h1M509 374h1M511 374h1M528 374h1M531 374h2M534 374h1M53 375h1M55 375h1M59 375h2M62 375h1M64 375h2M67 375h1M364 375h3M368 375h2M372 375h2M376 375h1M380 375h2M383 375h1M387 375h2M390 375h2M393 375h1M518 375h2M530 375h1M672 375h2M675 375h2M54 376h1M58 376h1M62 376h1M64 376h1M66 376h1M368 376h1M370 376h3M382 376h1M385 376h2M389 376h1M505 376h1M512 376h1M674 376h1M52 377h1M58 377h1M62 377h1M64 377h2M367 377h1M373 377h1M384 377h1M389 377h1M504 377h1M512 377h1M521 377h1M669 377h2M53 378h1M55 378h1M58 378h3M62 378h1M364 378h1M367 378h1M372 378h1M384 378h2M669 378h1M671 378h3M53 379h1M56 379h1M59 379h3M63 379h1M65 379h1M365 379h1M367 379h1M372 379h1M382 379h2M667 379h1M672 379h1M674 379h1M53 380h2M56 380h2M62 380h3M381 380h3M665 380h3M670 380h1M676 380h1M51 381h1M53 381h2M57 381h1M59 381h1M62 381h1M382 381h2M668 381h1M673 381h1M676 381h2M51 382h1M61 382h1M64 382h1M380 382h1M665 382h1M668 382h1M673 382h1M675 382h1M677 382h2M50 383h1M53 383h1M62 383h2M487 383h1M669 383h1M679 383h1M51 384h2M56 384h1M59 384h3M666 384h1M668 384h1M671 384h1M679 384h1M51 385h2M54 385h1M56 385h1M58 385h1M61 385h1M64 385h1M484 385h1M664 385h2M667 385h1M670 385h1M672 385h1M678 385h1M62 386h2M668 386h1M670 386h1M44 387h1M62 387h1M664 387h1M666 387h1M668 387h1M674 387h1M52 388h1M59 388h2M62 388h1M661 388h1M666 388h1M672 388h1M676 388h1M42 389h1M60 389h1M659 389h1M673 389h1M676 389h1M42 390h2M55 390h1M60 390h1M674 390h1M55 391h2M58 391h1M60 391h1M660 391h2M664 391h1M43 392h1M56 392h1M58 392h2M659 392h1M662 392h3M670 392h1M673 392h1M52 393h2M58 393h1M50 394h1M53 394h3M660 394h1M667 394h1M47 395h1M49 395h1M55 395h2M638 395h1M661 395h1M663 395h1M47 396h2M51 396h1M53 396h1M647 396h1M657 396h2M667 396h1M41 397h1M45 397h1M48 397h1M52 397h1M638 397h1M642 397h1M646 397h1M648 397h2M653 397h2M659 397h1M664 397h1M667 397h1M638 398h4M647 398h1M649 398h1M652 398h1M654 398h1M657 398h1M659 398h1M661 398h1M664 398h3M669 398h1M42 399h1M639 399h1M643 399h1M651 399h1M655 399h1M664 399h1M638 400h1M640 400h1M645 400h2M648 400h1M651 400h1M653 400h3M660 400h1M663 400h1M666 400h1M658 401h1M660 401h1M663 401h1M665 401h1M653 402h1M658 402h1M667 402h1M521 468h1M512 469h2M499 470h1M507 470h1M513 470h2M505 471h1M515 471h1M513 472h1M516 472h1M400 473h1M514 473h1M400 474h1M396 475h1M398 475h1M401 475h1M394 476h2M402 476h1M392 477h1M399 477h1M401 477h2M404 477h1M403 478h1M392 479h1M392 480h1M404 480h1M392 481h1M404 481h1M391 482h2M203 484h1M390 484h1M392 484h1M404 484h1M202 485h1M389 485h2M405 485h1M201 486h2M204 486h1M388 486h1M401 486h1M201 487h1M204 487h1M388 487h1M399 487h1M405 487h1M201 488h1M388 488h1M397 488h1M401 488h2M405 488h1M201 489h1M388 489h1M390 489h1M392 489h1M405 489h1M205 490h1M385 490h1M389 490h2M400 490h1M204 491h2M387 491h1M396 491h1M399 491h1M204 492h2M384 492h1M391 492h1M396 492h1M401 492h2M201 493h1M378 493h1M391 493h1M399 493h1M201 494h1M203 494h1M205 494h1M377 494h1M380 494h1M383 494h1M393 494h1M395 494h1M202 495h1M371 495h2M374 495h2M379 495h1M382 495h2M386 495h1M391 495h1M395 495h1M203 496h1M368 496h2M374 496h1M382 496h1M385 496h1M392 496h1M397 496h2M367 497h1M369 497h1M385 497h1M396 497h1M393 498h2M397 498h1M366 499h1M368 499h1M392 499h1M398 499h1M389 500h1M396 501h1M398 501h1M398 502h1M501 502h1M366 503h1M394 503h1M497 503h1M501 503h1M507 503h1M510 503h1M516 503h2M520 503h1M523 503h1M526 503h1M364 504h1M397 504h1M496 504h2M508 504h2M511 504h1M517 504h1M519 504h2M523 504h4M367 505h1M395 505h2M404 505h1M494 505h1M497 505h1M508 505h1M520 505h2M527 505h1M396 506h1M406 506h3M492 506h1M494 506h1M505 506h2M508 506h2M516 506h1M523 506h1M529 506h1M532 506h1M546 506h1M363 507h1M394 507h1M408 507h2M493 507h1M496 507h1M512 507h1M519 507h1M524 507h1M532 507h1M551 507h2M363 508h1M390 508h2M492 508h1M494 508h1M501 508h1M505 508h2M512 508h1M515 508h2M519 508h1M522 508h1M362 509h2M392 509h1M409 509h1M493 509h1M507 509h1M510 509h4M519 509h1M531 509h1M546 509h1M388 510h1M494 510h1M499 510h1M503 510h1M505 510h1M511 510h1M514 510h1M519 510h1M528 510h1M552 510h1M361 511h1M364 511h1M492 511h1M494 511h2M504 511h1M508 511h1M511 511h1M518 511h1M522 511h1M529 511h1M552 511h1M362 512h1M365 512h1M388 512h1M407 512h1M495 512h1M503 512h1M508 512h4M515 512h2M524 512h1M527 512h1M545 512h1M548 512h3M554 512h2M364 513h1M371 513h1M390 513h1M408 513h1M493 513h1M502 513h1M505 513h1M513 513h1M527 513h1M545 513h1M556 513h1M57 514h1M364 514h1M366 514h1M389 514h1M406 514h2M500 514h1M506 514h2M509 514h1M515 514h1M518 514h1M529 514h1M563 514h1M55 515h2M58 515h2M381 515h1M389 515h1M405 515h1M510 515h1M527 515h1M530 515h1M532 515h1M534 515h2M549 515h1M553 515h1M52 516h3M57 516h1M363 516h1M398 516h1M403 516h2M406 516h1M492 516h1M502 516h1M510 516h2M514 516h1M516 516h1M519 516h2M525 516h1M527 516h1M533 516h1M538 516h2M548 516h1M550 516h1M555 516h2M563 516h1M50 517h2M56 517h1M59 517h2M365 517h1M367 517h1M370 517h1M380 517h1M491 517h1M509 517h1M514 517h1M516 517h2M519 517h1M531 517h2M543 517h2M549 517h2M563 517h1M51 518h1M59 518h2M364 518h2M367 518h2M370 518h1M400 518h1M493 518h1M499 518h1M507 518h1M509 518h2M517 518h2M527 518h1M534 518h2M542 518h2M551 518h2M48 519h2M362 519h1M367 519h1M369 519h1M386 519h1M399 519h1M491 519h2M500 519h1M509 519h1M511 519h1M514 519h1M519 519h1M528 519h2M533 519h2M544 519h1M549 519h2M49 520h1M60 520h1M386 520h1M506 520h1M513 520h1M516 520h1M519 520h2M530 520h1M534 520h1M537 520h2M542 520h1M547 520h1M549 520h1M47 521h1M371 521h1M382 521h1M387 521h2M392 521h1M491 521h2M500 521h1M502 521h2M505 521h1M515 521h1M538 521h1M541 521h1M46 522h1M57 522h1M60 522h2M364 522h1M370 522h1M374 522h1M379 522h2M385 522h1M387 522h1M401 522h1M500 522h1M502 522h1M516 522h1M518 522h1M526 522h1M530 522h3M534 522h1M537 522h1M539 522h4M547 522h1M556 522h1M561 522h1M46 523h1M56 523h1M58 523h3M362 523h1M372 523h1M375 523h2M496 523h1M498 523h1M512 523h2M517 523h1M520 523h1M525 523h1M533 523h1M540 523h1M542 523h1M544 523h1M549 523h1M562 523h1M45 524h1M58 524h2M373 524h1M384 524h1M390 524h1M393 524h1M408 524h2M491 524h1M496 524h2M503 524h1M505 524h1M510 524h1M518 524h1M523 524h1M530 524h1M532 524h2M537 524h1M545 524h1M44 525h2M56 525h2M371 525h1M395 525h1M397 525h1M502 525h1M504 525h1M506 525h1M531 525h3M538 525h3M544 525h1M550 525h1M553 525h1M357 526h1M367 526h2M371 526h1M491 526h1M495 526h1M498 526h1M504 526h3M518 526h1M524 526h2M531 526h1M539 526h1M548 526h1M551 526h1M43 527h1M55 527h1M393 527h2M397 527h1M399 527h1M408 527h2M506 527h2M511 527h1M521 527h1M527 527h3M531 527h3M535 527h1M540 527h1M544 527h1M551 527h1M553 527h2M43 528h2M53 528h1M55 528h3M358 528h1M369 528h2M380 528h1M389 528h2M392 528h1M396 528h2M408 528h1M494 528h2M497 528h2M500 528h2M503 528h1M510 528h1M518 528h1M521 528h1M526 528h3M531 528h1M537 528h1M543 528h1M547 528h1M43 529h1M56 529h2M59 529h1M391 529h1M399 529h1M406 529h1M500 529h1M505 529h1M509 529h1M526 529h1M534 529h2M537 529h1M42 530h2M54 530h2M360 530h1M396 530h1M399 530h2M406 530h1M492 530h1M495 530h1M497 530h1M500 530h1M508 530h1M510 530h3M533 530h1M535 530h1M537 530h1M42 531h1M52 531h1M396 531h2M491 531h2M496 531h1M499 531h1M504 531h2M510 531h1M526 531h1M542 531h2M54 532h1M491 532h1M500 532h1M508 532h1M511 532h2M525 532h1M533 532h1M51 533h3M499 533h1M510 533h2M521 533h1M529 533h2M534 533h1M541 533h3M41 534h1M512 534h1M514 534h2M519 534h1M521 534h1M530 534h1M537 534h1M539 534h1M41 535h1M52 535h1M497 535h1M511 535h1M520 535h1M535 535h2M543 535h1M41 536h1M47 536h1M50 536h1M498 536h1M524 536h1M526 536h1M40 537h1M48 537h3M494 537h3M500 537h1M503 537h1M508 537h1M515 537h1M525 537h1M528 537h1M533 537h2M540 537h1M543 537h1M39 538h1M45 538h1M492 538h1M497 538h1M499 538h1M502 538h1M504 538h1M511 538h1M516 538h1M523 538h1M528 538h2M538 538h1M46 539h1M497 539h1M504 539h1M507 539h1M512 539h2M518 539h1M521 539h1M529 539h2M533 539h1M537 539h3M45 540h1M492 540h1M500 540h1M506 540h1M509 540h1M514 540h1M516 540h1M518 540h1M526 540h1M45 541h1M502 541h1M506 541h1M508 541h1M514 541h1M525 541h2M528 541h1M536 541h2M495 542h1M506 542h1M508 542h1M524 542h2M531 542h1M533 542h2M537 542h1M539 542h1M44 543h1M506 543h1M509 543h1M534 543h1M537 543h1M44 544h1M527 544h3" stroke="rgb(95, 95, 205)" stroke-width="1" transform="translate(0,0.5)"/><path d="M203 50h2M204 51h2M203 52h2M520 52h1M203 53h2M517 53h4M522 53h1M203 54h2M520 54h3M513 55h1M518 55h3M514 56h1M518 56h2M521 56h1M523 56h1M515 57h3M519 57h2M522 57h1M516 58h3M521 58h3M518 59h1M520 59h3M514 60h1M517 60h1M521 60h1M523 60h2M514 61h1M516 61h1M523 61h2M509 62h2M512 62h2M515 62h2M522 62h1M524 62h2M509 63h1M511 63h1M522 63h1M524 63h1M509 64h3M513 64h2M516 64h2M523 64h2M508 65h1M510 65h4M517 65h1M521 65h3M525 65h1M509 66h1M512 66h1M514 66h1M517 66h1M520 66h4M509 67h2M512 67h1M514 67h1M516 67h1M519 67h1M508 68h2M516 68h2M519 68h3M503 69h1M509 69h1M511 69h1M514 69h4M519 69h1M523 69h1M370 70h1M508 70h2M513 70h1M516 70h1M520 70h1M523 70h1M367 71h1M369 71h2M498 71h1M504 71h1M510 71h2M513 71h1M515 71h1M522 71h3M63 72h1M363 72h1M365 72h1M367 72h1M370 72h1M372 72h3M509 72h4M520 72h1M522 72h2M60 73h1M62 73h1M362 73h2M365 73h1M500 73h1M502 73h1M508 73h1M512 73h3M521 73h3M361 74h2M364 74h2M375 74h2M508 74h1M510 74h2M513 74h1M515 74h1M519 74h3M523 74h1M58 75h1M60 75h3M365 75h1M503 75h1M507 75h2M512 75h1M514 75h1M519 75h1M522 75h1M58 76h3M62 76h3M66 76h1M358 76h1M361 76h2M375 76h1M497 76h1M503 76h1M511 76h3M58 77h2M61 77h1M63 77h2M214 77h3M357 77h2M367 77h1M374 77h2M497 77h2M503 77h4M510 77h3M519 77h1M56 78h2M59 78h1M61 78h1M63 78h2M66 78h1M214 78h3M357 78h1M374 78h1M496 78h1M498 78h1M508 78h2M513 78h1M56 79h2M59 79h5M65 79h3M214 79h3M360 79h2M374 79h2M499 79h1M506 79h2M509 79h2M514 79h1M519 79h3M55 80h5M63 80h1M357 80h1M363 80h1M493 80h1M504 80h1M507 80h2M510 80h5M517 80h2M520 80h2M54 81h3M58 81h1M60 81h6M354 81h2M357 81h1M360 81h1M364 81h2M373 81h1M493 81h1M506 81h1M514 81h1M517 81h1M53 82h4M59 82h2M62 82h3M355 82h1M357 82h2M362 82h3M367 82h1M373 82h1M494 82h1M497 82h1M505 82h1M513 82h2M516 82h1M52 83h1M55 83h1M60 83h1M62 83h3M369 83h1M372 83h1M489 83h1M501 83h1M505 83h1M507 83h1M511 83h3M517 83h1M51 84h1M55 84h1M58 84h1M60 84h4M65 84h1M356 84h1M369 84h1M488 84h3M496 84h1M504 84h1M509 84h1M512 84h2M51 85h1M53 85h1M58 85h6M356 85h1M369 85h1M371 85h1M498 85h1M501 85h3M505 85h1M507 85h1M517 85h1M58 86h5M355 86h1M365 86h1M368 86h1M372 86h1M486 86h3M498 86h1M500 86h1M505 86h1M508 86h1M510 86h2M52 87h2M58 87h2M61 87h2M353 87h1M355 87h3M487 87h2M491 87h1M493 87h1M496 87h1M498 87h3M52 88h1M57 88h1M59 88h3M352 88h1M354 88h2M357 88h1M362 88h1M366 88h1M489 88h1M491 88h1M493 88h1M495 88h1M498 88h1M502 88h1M512 88h1M51 89h1M57 89h4M353 89h1M360 89h1M363 89h1M366 89h5M495 89h2M498 89h1M502 89h1M504 89h1M58 90h1M60 90h1M354 90h1M357 90h1M359 90h2M362 90h1M365 90h3M488 90h1M502 90h1M504 90h1M50 91h1M52 91h1M55 91h1M57 91h1M358 91h1M361 91h1M363 91h1M365 91h3M370 91h1M372 91h1M494 91h2M498 91h2M502 91h2M56 92h1M352 92h1M357 92h3M361 92h3M365 92h3M495 92h1M497 92h1M500 92h1M502 92h1M506 92h1M49 93h2M56 93h1M58 93h1M349 93h1M352 93h2M355 93h1M357 93h2M361 93h1M364 93h5M494 93h1M496 93h2M501 93h3M48 94h2M56 94h1M353 94h2M359 94h1M364 94h2M367 94h2M371 94h1M495 94h2M498 94h1M500 94h3M506 94h1M508 94h1M47 95h2M54 95h1M354 95h3M360 95h1M366 95h6M493 95h2M496 95h3M503 95h1M53 96h1M353 96h3M365 96h1M367 96h1M370 96h1M372 96h1M494 96h1M497 96h3M48 97h1M53 97h2M357 97h1M359 97h1M363 97h1M365 97h2M368 97h1M496 97h2M499 97h1M512 97h1M47 98h1M350 98h1M353 98h2M357 98h1M363 98h1M367 98h2M496 98h2M504 98h1M47 99h1M49 99h1M52 99h1M353 99h2M356 99h1M358 99h1M360 99h1M364 99h1M366 99h1M494 99h1M496 99h1M499 99h2M46 100h3M51 100h1M351 100h1M353 100h2M356 100h3M360 100h1M363 100h5M491 100h1M493 100h2M496 100h1M501 100h1M46 101h2M49 101h2M352 101h1M355 101h1M358 101h2M363 101h2M366 101h1M495 101h1M356 102h2M360 102h3M364 102h1M494 102h1M355 103h1M357 103h2M360 103h3M365 103h3M494 103h1M44 104h1M49 104h1M356 104h3M361 104h2M364 104h2M367 104h1M44 105h1M48 105h1M356 105h1M360 105h1M363 105h1M365 105h1M44 106h1M48 106h1M360 106h1M363 106h1M365 106h1M45 107h1M47 107h1M362 107h1M366 107h1M203 199h2M203 200h1M203 201h2M206 201h1M205 202h1M205 203h1M203 204h2M203 205h1M206 205h1M206 206h1M204 208h2M384 210h2M387 210h1M382 211h1M385 211h2M389 211h1M378 212h3M388 212h1M379 213h1M386 213h1M392 213h3M388 214h1M390 214h1M393 214h3M377 215h1M386 215h2M389 215h1M391 215h1M393 215h4M377 216h1M389 216h1M391 216h2M376 217h1M388 217h1M393 217h1M395 217h2M377 218h1M379 218h1M389 218h1M391 218h4M396 218h3M376 219h4M386 219h2M391 219h2M394 219h2M397 219h3M376 220h3M383 220h3M388 220h1M390 220h1M393 220h1M395 220h3M376 221h1M385 221h3M390 221h5M396 221h5M377 222h1M381 222h1M383 222h1M388 222h4M393 222h2M398 222h2M401 222h1M379 223h3M383 223h1M386 223h1M390 223h2M393 223h2M397 223h1M381 224h2M384 224h7M392 224h3M396 224h1M377 225h2M380 225h1M384 225h2M387 225h2M391 225h1M394 225h3M379 226h1M382 226h2M387 226h2M391 226h1M394 226h1M397 226h1M379 227h1M382 227h3M388 227h1M390 227h1M394 227h1M399 227h1M218 228h3M387 228h1M390 228h2M394 228h3M218 229h3M381 229h3M385 229h3M392 229h1M397 229h2M218 230h3M385 230h3M393 230h1M64 231h2M381 231h1M385 231h2M388 231h1M382 232h1M384 232h1M386 232h3M397 232h1M536 232h1M539 232h2M62 233h2M65 233h2M386 233h2M534 233h1M537 233h2M63 234h3M67 234h2M70 234h1M531 234h1M535 234h2M538 234h1M61 235h1M63 235h4M69 235h1M531 235h1M535 235h1M538 235h3M56 236h5M62 236h6M70 236h1M533 236h1M535 236h1M537 236h5M56 237h3M60 237h1M62 237h4M68 237h2M532 237h1M534 237h1M536 237h1M538 237h5M56 238h5M62 238h5M68 238h1M531 238h1M534 238h5M541 238h1M544 238h1M53 239h1M57 239h1M59 239h2M62 239h1M64 239h4M533 239h2M538 239h1M543 239h1M56 240h14M531 240h2M537 240h3M541 240h5M53 241h2M56 241h10M531 241h1M533 241h1M542 241h1M544 241h1M52 242h1M55 242h5M61 242h2M64 242h3M530 242h1M536 242h1M539 242h1M541 242h3M56 243h2M59 243h1M61 243h5M67 243h1M529 243h2M533 243h1M537 243h1M541 243h3M58 244h1M61 244h1M63 244h2M529 244h1M532 244h4M538 244h4M543 244h2M53 245h2M56 245h6M528 245h2M531 245h1M533 245h1M536 245h2M539 245h1M541 245h1M51 246h4M56 246h3M61 246h3M529 246h1M531 246h4M536 246h2M539 246h1M542 246h3M52 247h1M54 247h1M530 247h6M538 247h2M542 247h1M57 248h1M512 248h1M532 248h1M534 248h1M536 248h2M539 248h3M49 249h3M53 249h1M57 249h1M516 249h1M518 249h2M532 249h1M535 249h1M537 249h1M539 249h1M49 250h1M55 250h1M504 250h1M513 250h2M520 250h1M532 250h1M535 250h1M538 250h1M49 251h1M54 251h2M506 251h1M510 251h2M514 251h2M518 251h3M536 251h1M48 252h2M502 252h2M507 252h1M509 252h6M516 252h5M48 253h2M52 253h4M501 253h2M505 253h1M507 253h1M514 253h6M521 253h2M526 253h1M46 254h3M50 254h1M506 254h1M514 254h3M518 254h2M46 255h4M51 255h1M515 255h1M48 256h2M44 257h1M49 257h1M44 258h1M44 260h1M47 260h2M46 261h1M387 341h1M389 341h1M387 342h2M390 342h1M387 343h1M389 343h1M391 343h1M385 344h1M388 344h2M391 344h2M200 345h2M386 345h1M392 345h1M201 346h2M387 346h2M393 346h1M201 347h1M386 347h7M201 348h2M388 348h2M388 349h2M391 349h2M371 356h1M374 356h1M371 357h2M375 357h2M371 358h1M377 358h1M370 359h2M378 359h2M514 359h1M370 360h1M380 360h2M504 360h1M514 360h3M518 360h4M370 361h1M380 361h2M505 361h1M510 361h1M512 361h4M519 361h3M524 361h1M380 362h1M506 362h1M509 362h1M511 362h3M515 362h1M517 362h2M521 362h4M526 362h1M528 362h2M533 362h2M366 363h4M381 363h2M503 363h1M505 363h4M510 363h1M514 363h1M517 363h2M522 363h2M526 363h1M529 363h1M532 363h3M536 363h1M367 364h1M378 364h1M380 364h2M486 364h1M503 364h2M507 364h1M509 364h2M517 364h1M522 364h1M526 364h2M529 364h1M531 364h2M366 365h1M379 365h4M388 365h1M506 365h3M511 365h2M515 365h2M521 365h1M524 365h4M534 365h1M369 366h1M374 366h1M378 366h1M380 366h3M505 366h3M514 366h5M523 366h1M526 366h1M529 366h1M532 366h2M369 367h1M375 367h1M377 367h1M380 367h1M500 367h1M503 367h4M509 367h3M516 367h1M522 367h1M524 367h4M529 367h1M377 368h1M381 368h3M392 368h1M394 368h1M500 368h3M504 368h1M506 368h2M510 368h1M512 368h2M515 368h4M520 368h1M522 368h1M524 368h1M528 368h1M530 368h1M532 368h1M211 369h3M370 369h2M377 369h1M380 369h1M384 369h1M386 369h1M388 369h1M392 369h1M396 369h1M498 369h1M500 369h2M503 369h1M506 369h2M511 369h1M513 369h3M520 369h2M523 369h1M527 369h1M529 369h2M211 370h3M367 370h1M369 370h3M373 370h1M375 370h5M381 370h2M384 370h1M386 370h1M395 370h3M501 370h2M505 370h1M507 370h1M509 370h2M512 370h3M517 370h1M520 370h3M525 370h1M546 370h1M211 371h1M368 371h1M371 371h1M374 371h4M379 371h2M382 371h1M384 371h1M386 371h2M501 371h2M507 371h2M511 371h4M518 371h1M529 371h1M533 371h1M546 371h1M369 372h3M374 372h1M378 372h3M386 372h1M388 372h1M391 372h1M394 372h2M507 372h1M509 372h3M515 372h1M517 372h2M371 373h1M384 373h4M392 373h2M395 373h1M511 373h2M516 373h4M531 373h1M377 374h1M385 374h1M516 374h1M384 375h1M674 375h1M65 376h1M384 376h1M674 377h1M671 379h1M673 379h1M672 380h1M672 381h1M676 382h1M51 383h1M47 384h1M46 385h1M48 385h2M673 385h1M676 385h1M45 386h4M51 386h1M54 386h1M56 386h1M60 386h1M664 386h1M667 386h1M674 386h1M45 387h1M49 387h3M53 387h6M667 387h1M44 388h2M51 388h1M53 388h4M665 388h1M667 388h5M44 389h1M46 389h1M51 389h2M54 389h1M663 389h2M666 389h4M671 389h2M44 390h2M47 390h1M50 390h1M52 390h3M56 390h1M59 390h1M662 390h3M666 390h4M673 390h1M43 391h3M49 391h6M669 391h3M45 392h1M47 392h6M55 392h1M665 392h1M667 392h3M42 393h1M45 393h4M661 393h2M666 393h2M669 393h1M41 394h1M47 394h3M51 394h2M666 394h1M668 394h1M46 395h1M48 395h1M662 395h1M664 395h1M41 396h1M45 396h1M662 396h1M42 397h1M663 397h1M43 398h1M662 398h2M656 399h1M659 399h2M667 399h1M661 400h1M664 400h1M667 400h1M655 401h2M397 475h1M396 476h2M399 476h1M395 477h2M395 478h1M398 478h3M398 479h5M401 480h1M395 481h1M398 481h3M403 481h1M394 482h1M399 482h2M402 482h1M390 483h1M392 483h2M396 483h1M400 483h1M393 484h1M397 484h2M403 484h1M391 485h1M393 485h1M398 485h1M400 485h1M393 486h1M399 486h2M403 486h1M202 487h1M390 487h1M393 487h1M396 487h1M400 487h1M402 487h1M203 488h2M391 488h1M395 488h1M398 488h1M400 488h1M404 488h1M202 489h3M393 489h1M396 489h5M402 489h1M404 489h1M202 490h3M391 490h1M393 490h2M396 490h1M398 490h1M401 490h1M201 491h2M385 491h2M390 491h1M393 491h1M397 491h1M401 491h1M202 492h2M385 492h1M387 492h1M392 492h2M398 492h2M202 493h2M385 493h1M387 493h2M392 493h1M381 494h1M386 494h1M388 494h1M396 494h1M388 495h1M392 495h1M394 495h1M396 495h1M386 496h5M395 496h1M373 497h2M377 497h1M380 497h1M386 497h2M389 497h1M392 497h1M394 497h1M398 497h1M370 498h2M374 498h3M383 498h3M388 498h1M398 498h1M367 499h1M374 499h1M376 499h1M384 499h2M387 499h1M389 499h1M394 499h1M396 499h1M368 500h1M382 500h1M385 500h4M392 500h1M394 500h2M366 501h3M385 501h1M387 501h2M394 501h2M397 501h1M366 502h1M368 502h1M370 502h3M389 502h1M392 502h1M367 503h5M383 503h1M386 503h3M392 503h1M395 503h1M503 503h1M366 504h6M382 504h1M385 504h1M388 504h1M391 504h2M399 504h1M506 504h1M365 505h2M368 505h3M385 505h1M387 505h1M389 505h4M398 505h3M525 505h2M369 506h1M388 506h2M391 506h2M394 506h2M397 506h2M403 506h1M497 506h1M501 506h2M364 507h3M368 507h1M382 507h1M387 507h1M389 507h2M392 507h2M396 507h1M398 507h2M403 507h3M407 507h1M502 507h3M525 507h2M364 508h3M376 508h1M382 508h1M392 508h1M395 508h4M404 508h2M407 508h1M493 508h1M497 508h1M503 508h2M521 508h1M525 508h3M529 508h2M364 509h3M382 509h4M387 509h2M390 509h1M395 509h1M397 509h1M404 509h1M406 509h1M408 509h1M494 509h1M496 509h3M516 509h1M521 509h1M523 509h1M527 509h1M529 509h1M364 510h2M369 510h2M373 510h1M383 510h1M387 510h1M390 510h1M392 510h5M405 510h2M496 510h1M504 510h1M506 510h1M512 510h1M515 510h1M520 510h1M523 510h1M363 511h1M365 511h1M367 511h1M369 511h1M371 511h1M373 511h1M375 511h1M377 511h1M388 511h1M391 511h1M393 511h3M398 511h1M403 511h2M406 511h1M408 511h1M502 511h1M507 511h1M510 511h1M516 511h1M525 511h1M527 511h1M366 512h2M371 512h1M378 512h1M386 512h1M389 512h3M394 512h1M396 512h1M406 512h1M408 512h1M507 512h1M517 512h3M521 512h1M525 512h1M366 513h1M369 513h2M372 513h1M375 513h1M379 513h1M382 513h1M387 513h3M395 513h1M402 513h1M404 513h2M495 513h2M498 513h2M508 513h1M511 513h1M515 513h2M519 513h1M210 514h4M365 514h1M367 514h1M369 514h1M373 514h1M378 514h1M380 514h1M382 514h1M385 514h3M390 514h6M397 514h1M492 514h1M494 514h1M498 514h2M210 515h4M365 515h7M375 515h2M383 515h2M387 515h2M390 515h1M396 515h1M398 515h3M402 515h2M406 515h1M493 515h1M495 515h2M501 515h1M503 515h2M506 515h1M508 515h1M542 515h2M56 516h1M210 516h4M364 516h3M373 516h1M377 516h3M383 516h1M385 516h1M387 516h3M391 516h2M394 516h2M397 516h1M399 516h4M493 516h2M497 516h4M504 516h3M540 516h2M54 517h2M366 517h1M371 517h5M381 517h2M384 517h1M386 517h1M390 517h3M395 517h3M401 517h2M494 517h2M497 517h2M500 517h2M503 517h1M506 517h1M508 517h1M510 517h2M53 518h2M56 518h1M58 518h1M371 518h2M376 518h1M379 518h1M381 518h2M385 518h1M389 518h7M397 518h1M401 518h2M495 518h1M497 518h1M500 518h1M502 518h2M505 518h2M51 519h1M55 519h1M57 519h1M370 519h1M372 519h5M383 519h2M387 519h3M391 519h1M393 519h1M401 519h1M493 519h1M495 519h3M499 519h1M501 519h2M505 519h2M543 519h1M52 520h1M54 520h1M57 520h1M369 520h1M371 520h5M378 520h1M380 520h1M382 520h1M384 520h2M390 520h1M401 520h1M495 520h3M500 520h1M502 520h2M505 520h1M507 520h1M544 520h1M48 521h1M50 521h2M54 521h3M59 521h1M370 521h1M373 521h2M377 521h1M379 521h1M495 521h1M498 521h1M529 521h1M536 521h2M544 521h1M50 522h7M377 522h1M498 522h1M503 522h1M47 523h2M51 523h1M53 523h3M373 523h1M499 523h1M46 524h2M50 524h1M52 524h2M55 524h2M534 524h2M47 525h3M52 525h1M55 525h1M45 526h1M48 526h1M55 526h1M45 527h1M47 527h1M53 527h2M503 527h1M45 528h2M54 528h1M44 529h2M54 529h1M497 529h1M44 530h1M52 530h2M496 530h1M43 531h1M50 531h2M42 532h2M50 532h1M43 533h1M48 533h1M50 533h1M42 534h3M48 534h1M536 534h1M44 535h1M48 535h1M513 535h1M43 536h1M45 536h1M48 536h1M41 537h1M43 537h5M42 538h3M39 539h1M45 539h1M38 540h1M44 541h1M538 541h1M529 542h1M40 543h1M41 544h2" stroke="rgb(55, 55, 205)" stroke-width="1" transform="translate(0,0.5)"/><path d="M521 57h1M523 59h1M514 62h1M510 63h1M515 63h1M512 64h1M516 66h1M517 67h2M515 68h1M510 69h1M510 70h1M519 70h1M371 71h1M520 71h2M366 72h1M517 72h1M369 73h1M372 73h1M515 73h3M363 74h1M374 74h1M518 74h1M522 74h1M360 75h1M366 75h1M373 75h2M510 75h2M517 75h2M61 76h1M359 76h2M374 76h1M508 76h3M514 76h1M517 76h1M212 77h2M360 77h3M364 77h2M509 77h1M211 78h3M358 78h2M363 78h2M506 78h1M58 79h1M211 79h3M358 79h1M365 79h1M372 79h1M516 79h1M61 80h2M356 80h1M360 80h1M362 80h1M366 80h1M516 80h1M519 80h1M372 81h1M510 81h1M513 81h1M515 81h2M57 82h2M356 82h1M368 82h2M371 82h1M506 82h1M512 82h1M515 82h1M54 83h1M56 83h2M61 83h1M356 83h1M366 83h1M370 83h1M53 84h2M57 84h1M59 84h1M357 84h2M362 84h1M367 84h2M511 84h1M54 85h1M54 86h2M357 86h1M362 86h1M499 86h1M54 87h1M57 87h1M360 87h1M54 88h1M56 88h1M58 88h1M358 88h1M360 88h1M365 88h1M52 89h1M358 89h2M52 90h1M358 90h1M361 90h1M51 91h1M56 91h1M362 91h1M51 92h1M360 92h1M364 92h1M494 92h1M51 93h1M54 93h2M360 93h1M499 93h2M50 94h1M53 94h2M357 94h2M360 94h3M493 94h2M499 94h1M49 95h1M52 95h2M357 95h1M359 95h1M361 95h4M48 96h1M51 96h1M358 96h1M360 96h1M51 97h2M354 97h1M358 97h1M361 97h2M48 98h2M355 98h1M358 98h1M362 98h1M365 98h1M501 98h1M48 99h1M50 99h2M355 99h1M48 101h1M361 101h2M45 102h1M48 103h1M363 103h1M47 104h1M47 105h1M45 106h2M204 200h1M204 203h1M205 204h1M205 205h1M204 206h1M383 211h1M387 211h1M382 212h1M385 212h1M387 212h1M385 213h1M378 214h3M387 214h1M379 215h1M378 216h2M381 216h1M387 216h2M379 217h2M382 217h2M389 217h1M378 218h1M381 218h1M395 218h1M380 219h3M385 219h1M390 219h1M379 220h3M392 220h1M381 221h1M384 222h2M387 222h1M384 223h1M388 223h1M393 225h1M389 227h1M215 228h1M217 228h1M388 228h2M215 229h3M388 229h1M395 229h1M215 230h1M217 230h1M396 230h1M387 231h1M539 234h1M533 235h2M536 235h1M534 236h1M533 237h1M61 238h1M532 238h1M539 238h2M542 238h1M532 239h1M540 239h2M534 240h3M535 241h2M538 241h1M541 241h1M543 241h1M60 242h1M534 242h2M537 242h1M540 242h1M58 243h1M60 243h1M532 243h1M534 243h3M538 243h1M62 244h1M532 245h1M534 245h2M535 246h1M538 246h1M53 247h1M56 247h1M52 248h1M54 248h1M56 248h1M54 249h1M56 249h1M517 249h1M50 250h1M52 250h1M516 250h1M518 250h2M50 251h4M503 251h1M50 253h1M520 253h1M50 255h1M46 256h1M46 257h3M48 258h1M44 259h1M45 260h1M388 343h1M392 343h1M386 344h1M387 345h1M389 345h1M391 345h1M389 346h1M391 346h1M374 357h1M372 358h2M375 358h1M372 359h1M373 360h1M376 360h3M512 360h1M369 361h1M371 361h1M370 362h1M505 362h1M370 363h2M378 363h1M509 363h1M511 363h3M515 363h1M521 363h1M370 364h1M505 364h1M512 364h1M515 364h1M518 364h1M523 364h1M525 364h1M371 365h2M376 365h1M504 365h1M509 365h1M513 365h2M517 365h3M377 366h1M379 366h1M503 366h2M508 366h1M510 366h1M512 366h1M519 366h2M376 367h1M379 367h1M514 367h1M518 367h4M370 368h1M372 368h1M374 368h3M378 368h1M521 368h1M208 369h3M375 369h1M509 369h1M207 370h4M374 370h1M503 370h1M207 371h3M370 371h1M372 371h1M519 372h1M671 381h1M50 386h1M46 387h3M47 388h1M50 388h1M47 389h2M670 389h1M46 390h1M48 390h1M48 391h1M665 391h1M668 391h1M46 392h1M666 392h1M43 394h2M46 394h1M44 395h1M653 399h1M665 399h1M396 478h2M395 480h1M398 480h3M396 482h1M401 482h1M395 483h1M398 483h2M401 483h1M395 484h1M399 484h2M397 485h1M395 486h1M402 486h1M395 487h1M394 489h2M392 490h1M392 491h1M394 491h1M378 497h2M373 498h1M377 498h1M381 498h2M387 498h1M371 499h2M378 499h1M381 499h1M386 499h1M369 500h2M373 500h1M376 500h1M369 501h1M372 501h1M382 501h1M384 501h1M386 501h1M393 501h1M375 502h1M385 502h1M394 502h1M373 503h1M382 503h1M373 504h1M372 505h3M377 505h1M383 505h1M393 505h1M370 506h1M384 506h1M528 506h1M369 507h1M376 507h1M400 507h1M528 507h1M369 508h1M371 508h1M375 508h1M381 508h1M385 508h2M400 508h4M528 508h1M367 509h2M386 509h1M398 509h2M402 509h1M526 509h1M367 510h1M374 510h1M380 510h1M382 510h1M385 510h1M402 510h1M370 511h1M380 511h2M385 511h2M369 512h2M372 512h1M384 512h2M392 512h2M395 512h1M398 512h1M367 513h2M373 513h2M376 513h1M383 513h1M391 513h2M396 513h1M398 513h2M206 514h4M372 514h1M374 514h1M376 514h2M401 514h1M404 514h1M496 514h1M206 515h2M209 515h1M377 515h2M393 515h2M494 515h1M497 515h1M206 516h4M372 516h1M384 516h1M377 517h1M388 517h2M496 517h1M504 517h1M55 518h1M378 518h1M388 518h1M504 518h1M54 519h1M378 519h2M381 519h1M385 519h1M503 519h2M55 520h1M376 520h2M379 520h1M52 521h1M376 521h1M49 523h1M52 523h1M48 524h1M54 524h1M51 525h1M54 525h1M50 528h1M52 528h1M46 529h1M50 529h3M45 530h1M51 530h1M45 531h1M45 532h4M45 533h1M47 534h1M45 535h3M44 536h1M46 536h1M42 537h1M40 538h1M44 539h1M39 540h1M44 540h1M41 543h1" stroke="rgb(40, 150, 235)" stroke-width="1" transform="translate(0,0.5)"/><path d="M515 70h1M517 70h2M518 71h2M368 72h2M515 72h1M519 72h1M372 74h1M516 74h2M361 75h2M364 75h1M367 75h1M516 75h1M365 76h2M368 76h1M373 76h1M518 76h1M210 77h1M366 77h1M209 78h2M365 78h2M368 78h1M371 78h1M373 78h1M514 78h2M518 78h1M209 79h2M356 79h2M362 79h1M368 79h2M373 79h1M513 79h1M361 80h1M365 80h1M515 80h1M57 81h1M59 81h1M356 81h1M358 81h1M361 81h1M367 81h1M511 81h2M360 82h2M372 82h1M355 83h1M360 83h3M56 84h1M55 85h2M363 85h1M365 85h2M368 85h1M358 86h1M361 86h1M366 86h1M358 87h1M361 87h1M365 87h2M53 88h1M53 89h1M55 89h1M56 90h1M53 91h1M52 93h1M363 93h1M51 94h2M51 95h1M358 95h1M52 96h1M357 96h1M361 96h1M363 96h1M50 97h1M50 98h1M360 98h1M361 99h1M47 102h3M45 103h1M48 104h1M47 106h1M381 213h1M387 213h1M382 214h1M384 214h1M380 215h2M392 215h1M385 217h1M387 217h1M380 218h1M385 218h3M382 220h1M386 220h1M382 221h1M213 228h2M213 229h2M213 230h2M61 239h1M534 241h1M536 244h2M55 248h1M52 249h1M51 250h1M53 250h2M51 252h3M45 256h1M47 256h1M45 257h1M45 259h3M388 345h1M390 345h1M373 357h1M374 358h1M373 359h1M371 360h1M379 360h1M377 361h1M379 361h1M371 362h1M379 362h1M377 363h1M379 363h2M519 363h2M371 364h1M377 364h1M513 364h1M519 364h2M370 365h1M373 365h1M375 365h1M378 365h1M528 365h1M374 367h1M371 368h1M205 369h2M373 369h1M205 370h2M205 371h2M49 388h1M49 389h2M44 393h1M45 394h1M42 395h1M45 395h1M397 477h1M395 479h2M397 480h1M397 481h1M396 484h1M394 485h1M399 485h1M388 497h1M372 498h1M380 498h1M375 499h1M379 499h1M374 500h1M377 500h1M383 500h2M376 501h2M373 502h1M376 502h2M380 502h1M382 502h1M393 502h1M376 503h1M379 503h2M384 503h1M380 504h1M375 505h1M386 505h1M371 506h1M374 506h1M381 506h1M383 506h1M371 507h1M374 507h1M377 507h1M380 507h2M385 507h1M401 507h2M379 508h1M384 508h1M399 508h1M371 509h1M375 509h1M377 509h1M380 509h1M400 509h2M371 510h2M378 510h1M374 511h1M376 511h1M378 511h1M382 511h1M397 511h1M399 511h1M401 511h1M374 512h1M376 512h2M380 512h2M397 512h1M399 512h1M402 512h2M394 513h1M397 513h1M400 513h1M403 513h1M375 514h1M400 514h1M205 515h1M373 515h2M374 516h1M496 516h1M371 519h1M51 524h1M46 526h2M50 526h1M53 526h1M46 527h1M49 527h2M48 528h1M48 529h2M46 530h5M46 531h1M49 531h1M47 533h1M41 538h1M39 541h1M40 542h1M43 542h1M42 543h1" stroke="rgb(60, 210, 160)" stroke-width="1" transform="translate(0,0.5)"/><path d="M516 71h1M371 72h1M516 72h1M371 73h1M518 73h2M370 75h1M372 75h1M515 75h1M367 76h1M515 76h1M201 77h6M208 77h1M369 77h1M372 77h1M514 77h1M517 77h1M201 78h3M205 78h4M367 78h1M370 78h1M516 78h1M201 79h8M359 79h1M363 79h1M367 79h1M371 79h1M358 80h2M369 80h2M372 80h1M368 81h1M370 81h2M358 83h1M359 84h1M57 85h1M364 85h1M367 85h1M360 86h1M363 86h1M56 87h1M359 87h1M364 87h1M55 88h1M359 88h1M364 88h1M53 92h1M359 93h1M50 95h1M49 97h1M51 98h2M359 99h1M45 105h1M384 212h1M383 213h1M381 214h1M383 214h1M384 215h2M382 216h2M385 216h1M384 217h1M382 218h1M383 219h1M383 221h1M206 228h7M206 229h7M206 230h7M45 258h1M374 359h2M377 359h1M378 361h1M372 362h2M375 362h1M377 362h1M372 364h2M379 364h1M514 364h1M370 366h1M371 367h1M373 367h1M378 367h1M373 368h1M197 369h6M204 369h1M372 369h1M374 369h1M196 370h9M196 371h9M46 388h1M42 394h1M43 395h1M42 396h1M44 396h1M380 499h1M372 500h1M375 500h1M378 500h1M381 500h1M371 501h1M373 501h2M381 501h1M374 502h1M379 502h1M383 502h1M375 504h1M377 504h1M383 504h1M380 505h1M378 506h3M375 507h1M374 508h1M380 508h1M378 509h1M381 509h1M376 510h1M400 510h1M368 511h1M383 511h1M400 511h1M402 511h1M198 514h3M202 514h3M198 515h7M198 516h3M202 516h3M53 520h1M50 523h1M49 524h1M50 525h1M49 526h1M51 526h1M48 527h1M51 527h1M51 528h1M47 529h1M46 533h1M43 540h1" stroke="rgb(130, 225, 50)" stroke-width="1" transform="translate(0,0.5)"/><path d="M370 73h1M366 74h1M368 74h1M371 75h1M198 77h3M368 77h1M370 77h1M515 77h1M198 78h1M200 78h1M372 78h1M198 79h3M366 79h1M362 81h1M360 84h1M357 85h1M363 87h1M53 90h3M54 91h1M54 92h1M47 103h1M203 203h1M382 213h1M384 218h1M384 219h1M392 223h1M203 228h3M203 229h3M203 230h3M51 253h1M47 258h1M390 346h1M374 360h1M372 361h1M376 361h1M378 362h1M377 365h1M376 366h1M193 369h1M195 369h1M193 370h1M195 370h1M193 371h3M48 388h1M402 484h1M377 499h1M380 500h1M379 501h1M377 503h1M381 504h1M378 505h1M381 505h1M385 506h1M373 507h1M378 507h2M372 508h1M378 508h1M369 509h1M374 509h1M379 509h1M399 510h1M401 510h1M375 512h1M196 514h2M196 515h2M196 516h2M47 528h1M47 531h1M45 534h1M41 542h1" stroke="rgb(235, 235, 40)" stroke-width="1" transform="translate(0,0.5)"/><path d="M364 76h1M370 76h1M194 77h2M371 77h1M194 78h2M369 78h1M194 79h2M370 79h1M358 85h2M362 85h1M359 86h1M364 86h1M54 89h1M56 89h1M53 93h1M361 98h1M385 214h1M201 228h2M201 229h2M201 230h1M540 241h1M376 362h1M373 363h1M375 364h1M375 366h1M372 367h1M190 369h1M190 370h1M190 371h1M379 500h1M375 501h1M378 502h1M378 503h1M374 504h1M378 504h1M372 506h2M377 506h1M372 507h1M372 509h1M393 513h1M195 514h1M195 515h1M195 516h1M48 531h1M43 539h1M43 541h1" stroke="rgb(245, 130, 20)" stroke-width="1" transform="translate(0,0.5)"/><path d="M369 74h1M371 74h1M368 75h2M369 76h1M371 76h2M196 77h2M516 77h1M196 78h2M196 79h2M369 81h1M370 82h1M359 83h1M361 84h1M363 84h1M361 85h1M55 87h1M52 92h1M46 103h1M46 104h1M46 105h1M382 215h2M384 216h1M386 216h1M199 228h2M199 229h2M199 230h2M376 359h1M372 360h1M375 360h1M373 361h3M374 362h1M375 363h2M374 364h1M376 364h1M374 365h1M373 366h1M191 369h2M191 370h2M191 371h2M378 501h1M380 501h1M381 502h1M375 503h1M376 506h1M377 508h1M401 513h1M193 514h2M193 515h2M193 516h2M41 539h2M41 540h2M40 541h3M42 542h1" stroke="rgb(225, 30, 20)" stroke-width="1" transform="translate(0,0.5)"/><path d="M46 3h2M52 4h1M43 5h1M46 8h1M43 10h1M48 11h1M50 11h1M51 17h1M46 18h1M47 20h1M45 22h1M47 22h1M220 22h1M45 24h2M212 24h1M46 25h1M46 26h1M46 29h1M212 29h1M215 29h1M219 30h1M363 30h1M46 31h1M209 33h1M213 34h1M54 35h1M492 35h1M46 36h1M60 36h1M361 36h1M60 37h1M54 38h1M215 38h1M65 39h1M492 40h1M49 41h1M519 41h1M215 42h1M364 42h1M503 42h2M47 44h1M206 44h1M481 44h1M44 45h1M521 46h1M46 47h2M53 47h1M63 47h1M202 47h3M214 47h1M217 47h1M505 47h1M48 48h1M202 48h1M205 48h1M357 48h1M360 48h1M523 48h1M46 49h1M60 49h1M200 49h1M203 49h1M358 49h1M505 49h1M65 50h1M207 50h1M489 50h1M532 50h1M48 51h1M202 51h1M209 51h1M213 51h1M217 51h1M503 51h1M509 51h1M519 51h1M49 52h1M201 52h2M213 52h1M359 52h2M487 52h1M512 52h1M517 52h1M202 53h1M211 53h1M515 53h2M45 54h1M49 54h1M360 54h1M364 54h1M50 55h1M52 55h1M201 55h1M203 55h1M206 55h1M486 55h1M523 55h1M529 55h1M45 56h1M47 56h1M482 56h1M515 56h1M204 57h1M357 57h1M493 57h1M501 57h1M508 57h1M510 57h1M203 58h1M205 58h1M514 58h1M40 59h1M206 59h1M366 59h1M70 60h1M216 60h1M357 60h1M367 60h1M491 60h1M499 60h1M502 60h1M47 61h1M495 61h1M65 62h1M350 62h1M354 62h1M358 62h1M366 62h1M490 62h1M47 63h1M76 63h1M364 63h1M505 63h1M527 63h1M60 64h1M64 64h1M215 64h1M360 64h1M482 64h1M488 64h1M495 64h1M500 64h1M66 65h1M72 65h1M359 65h1M495 65h3M46 66h1M49 66h2M497 66h1M518 66h1M538 66h1M46 67h1M67 67h1M71 67h2M213 67h1M361 67h1M377 67h1M499 67h1M504 67h1M60 68h1M65 68h3M78 68h1M360 68h1M367 68h1M479 68h1M535 68h1M47 69h2M56 69h1M65 69h1M72 69h2M201 69h1M206 69h1M348 69h1M489 69h1M492 69h1M498 69h1M45 70h1M60 70h1M66 70h1M68 70h1M71 70h1M76 70h1M212 70h1M345 70h1M349 70h1M362 70h1M374 70h1M496 70h1M504 70h1M524 70h1M57 71h1M59 71h2M62 71h1M65 71h1M67 71h1M70 71h1M75 71h1M361 71h1M366 71h1M492 71h1M499 71h1M505 71h1M47 72h1M69 72h1M75 72h1M345 72h1M347 72h1M364 72h1M483 72h1M493 72h1M499 72h1M46 73h1M49 73h1M51 73h1M56 73h1M61 73h1M63 73h1M71 73h1M349 73h1M491 73h1M507 73h1M54 74h1M59 74h1M62 74h1M66 74h1M80 74h1M208 74h1M498 74h1M55 75h1M68 75h2M196 75h1M202 75h1M206 75h1M208 75h2M215 75h1M218 75h1M359 75h1M386 75h1M495 75h1M497 75h1M54 76h1M56 76h1M73 76h2M76 76h1M187 76h1M194 76h1M202 76h1M208 76h2M211 76h1M219 76h1M491 76h3M56 77h1M60 77h1M62 77h1M66 77h1M340 77h1M349 77h1M479 77h1M488 77h1M493 77h1M507 77h1M535 77h1M50 78h1M54 78h1M58 78h1M68 78h1M70 78h1M72 78h1M351 78h1M484 78h1M488 78h1M521 78h1M49 79h2M53 79h1M71 79h1M340 79h1M349 79h1M482 79h1M486 79h1M500 79h1M530 79h1M47 80h2M67 80h1M75 80h1M343 80h1M349 80h1M478 80h1M500 80h1M527 80h1M66 81h1M71 81h1M73 81h1M204 81h1M340 81h1M347 81h2M478 81h1M489 81h1M497 81h1M519 81h1M521 81h2M69 82h1M72 82h1M74 82h1M76 82h1M346 82h1M480 82h1M487 82h1M492 82h1M495 82h1M509 82h1M65 83h1M68 83h2M71 83h1M211 83h1M333 83h1M350 83h1M353 83h1M481 83h1M485 83h1M516 83h1M524 83h1M48 84h1M335 84h1M338 84h1M341 84h1M343 84h1M346 84h1M351 84h1M371 84h1M374 84h1M479 84h1M502 84h1M517 84h2M521 84h1M71 85h1M74 85h1M350 85h1M379 85h1M484 85h1M491 85h1M523 85h1M526 85h1M49 86h1M52 86h1M63 86h1M71 86h1M346 86h1M383 86h1M479 86h1M484 86h1M492 86h1M496 86h1M503 86h1M507 86h1M71 87h1M79 87h1M373 87h1M375 87h1M492 87h1M494 87h1M48 88h1M63 88h1M68 88h1M339 88h1M344 88h1M348 88h1M369 88h1M476 88h1M507 88h1M518 88h1M520 88h1M45 89h1M62 89h1M64 89h1M66 89h1M348 89h1M373 89h2M46 90h1M49 90h1M69 90h1M349 90h2M355 90h1M378 90h1M479 90h2M483 90h1M486 90h1M514 90h1M35 91h1M48 91h1M58 91h1M62 91h1M64 91h1M335 91h1M343 91h1M347 91h1M351 91h1M355 91h1M368 91h1M511 91h1M47 92h2M337 92h1M351 92h1M355 92h1M514 92h1M518 92h1M47 93h1M72 93h1M351 93h1M374 93h1M507 93h1M512 93h1M523 93h1M58 94h2M63 94h1M377 94h1M478 94h1M345 95h2M373 95h1M491 95h1M510 95h1M517 95h1M532 95h1M47 96h1M58 96h1M349 96h1M369 96h1M375 96h1M377 96h1M502 96h1M511 96h1M515 96h1M73 97h1M369 97h1M378 97h1M477 97h1M486 97h1M492 97h1M505 97h1M522 97h1M335 98h1M346 98h1M351 98h1M366 98h1M378 98h1M491 98h1M500 98h1M502 98h1M506 98h1M512 98h1M517 98h1M344 99h1M369 99h1M372 99h1M482 99h1M501 99h1M506 99h1M509 99h1M56 100h1M343 100h1M345 100h1M51 101h1M56 101h1M58 101h1M349 101h1M360 101h1M367 101h1M379 101h1M497 101h2M502 101h1M504 101h1M509 101h1M529 101h1M58 102h1M355 102h1M366 102h1M371 102h1M377 102h1M385 102h1M497 102h1M506 102h1M50 103h1M340 103h1M350 103h1M368 103h1M370 103h1M372 103h1M519 103h1M360 104h1M480 104h1M504 104h1M509 104h1M516 104h1M521 104h1M53 105h1M357 105h1M489 105h1M493 105h1M355 106h1M366 106h1M509 106h2M41 107h1M49 107h1M52 107h1M353 107h1M363 107h2M481 107h1M488 107h1M496 107h1M522 107h1M44 108h1M47 108h1M348 108h1M351 108h1M355 108h1M357 108h1M360 108h1M374 108h1M482 108h1M493 108h1M495 108h1M497 108h1M499 108h1M501 108h1M555 108h1M41 109h1M44 109h1M347 109h1M356 109h2M368 109h1M374 109h1M489 109h1M513 109h1M361 110h1M371 110h1M483 111h1M75 150h1M48 151h1M47 152h1M52 154h1M59 154h1M44 159h1M44 160h1M50 162h1M46 163h1M48 163h1M45 164h2M44 166h1M47 166h1M58 166h1M45 167h1M45 168h1M52 168h1M78 168h1M41 170h1M63 170h1M217 171h1M46 173h1M45 174h1M56 174h1M219 174h1M53 175h1M214 176h1M219 176h1M43 177h1M45 177h1M215 177h1M221 178h1M47 179h1M60 179h1M55 180h1M217 180h1M220 180h1M65 182h1M223 183h1M46 184h1M217 185h1M220 185h2M44 186h1M50 186h1M395 186h1M398 186h1M45 187h1M218 187h2M46 188h1M216 189h1M220 189h1M399 189h1M403 189h1M217 191h1M43 192h1M396 192h1M47 193h2M46 194h2M401 194h1M43 195h1M397 195h1M45 196h1M209 196h1M398 196h1M46 197h1M200 197h1M399 197h1M210 198h1M397 198h1M50 199h1M216 199h1M58 200h1M46 201h1M215 201h1M373 201h1M51 203h1M389 203h1M45 204h2M48 204h1M44 205h1M47 205h1M201 205h1M380 205h1M400 206h1M203 207h1M377 207h1M385 207h1M393 207h1M36 208h1M381 208h1M389 208h1M414 208h1M43 209h4M209 209h1M387 209h1M47 210h1M206 210h1M396 210h1M44 211h1M204 211h1M222 211h1M380 211h1M43 212h1M370 212h1M393 212h2M46 213h1M391 213h1M372 214h1M47 215h1M376 215h1M397 215h1M47 216h1M221 216h1M375 216h1M394 216h1M213 217h2M398 217h1M45 218h1M212 218h1M201 219h1M44 220h2M47 220h1M394 220h1M400 220h1M45 221h1M74 221h1M395 221h1M60 222h1M75 222h1M380 222h1M527 222h1M219 223h1M376 223h1M402 223h1M73 224h1M406 224h1M54 225h1M63 225h1M68 225h1M70 225h1M72 225h1M201 225h1M209 225h1M228 225h1M532 225h1M63 226h1M70 226h1M76 226h1M190 226h1M194 226h1M203 226h1M205 226h2M210 226h1M216 226h1M220 226h2M223 226h2M226 226h1M398 226h1M402 226h2M57 227h1M212 227h1M376 227h1M401 227h1M405 227h1M533 227h1M50 228h1M64 228h2M72 228h1M74 228h1M83 228h1M382 228h1M403 228h1M532 228h1M534 228h1M541 228h1M66 229h1M68 229h1M70 229h1M72 229h1M90 229h1M377 229h1M380 229h1M400 229h1M403 229h1M410 229h1M416 229h1M529 229h1M546 229h1M60 230h1M63 230h1M390 230h1M61 231h1M393 231h1M409 231h1M523 231h1M531 231h1M534 231h2M539 231h1M53 232h1M59 232h2M66 232h1M68 232h1M75 232h1M389 232h1M400 232h1M543 232h1M51 233h1M54 233h1M56 233h1M104 233h1M384 233h1M388 233h1M400 233h1M406 233h1M541 233h1M543 233h1M571 233h1M75 234h1M375 234h1M386 234h1M522 234h1M534 234h1M55 235h1M59 235h2M68 235h1M70 235h1M387 235h1M394 235h1M402 235h1M406 235h1M529 235h1M532 235h1M544 235h1M52 236h1M76 236h1M78 236h1M391 236h1M396 236h1M509 236h1M514 236h1M529 236h1M54 237h1M70 237h1M73 237h1M371 237h1M525 237h1M527 237h2M546 237h1M55 238h1M67 238h1M74 238h1M77 238h1M52 239h1M379 239h1M382 239h1M526 239h1M531 239h1M548 239h2M53 240h1M75 240h2M373 240h1M528 240h1M530 240h1M46 241h2M51 241h1M55 241h1M68 241h1M72 241h1M96 241h1M395 241h1M507 241h1M527 241h1M546 241h1M48 242h1M74 242h1M384 242h1M526 242h1M529 242h1M544 242h1M549 242h1M55 243h1M526 243h1M528 243h1M553 243h1M45 244h1M48 244h1M50 244h1M52 244h1M67 244h1M74 244h1M556 244h1M563 244h1M48 245h1M50 245h2M378 245h1M546 245h1M548 245h2M43 246h1M46 246h1M48 246h1M59 246h1M64 246h1M67 246h1M517 246h1M524 246h1M527 246h2M530 246h1M545 246h1M551 246h1M553 246h1M565 246h1M61 247h1M67 247h1M71 247h1M514 247h2M519 247h1M522 247h1M524 247h1M555 247h1M565 247h1M578 247h1M49 248h1M60 248h1M64 248h1M67 248h1M69 248h1M506 248h1M510 248h1M520 248h1M538 248h1M41 249h1M44 249h1M66 249h1M492 249h1M500 249h1M506 249h1M508 249h1M513 249h1M526 249h1M528 249h1M543 249h1M575 249h1M64 250h1M489 250h1M494 250h1M501 250h1M508 250h1M511 250h1M517 250h1M524 250h1M531 250h1M536 250h1M550 250h1M568 250h1M575 250h2M578 250h2M47 251h1M489 251h1M492 251h1M507 251h1M509 251h1M528 251h1M534 251h1M537 251h2M540 251h1M546 251h1M568 251h1M577 251h1M47 252h1M508 252h1M526 252h1M541 252h1M575 252h1M578 252h1M65 253h1M399 253h1M500 253h1M513 253h1M528 253h1M530 253h2M554 253h1M570 253h1M573 253h1M55 254h1M488 254h2M495 254h2M499 254h1M501 254h1M503 254h1M508 254h2M512 254h1M529 254h1M537 254h1M544 254h1M547 254h1M575 254h1M59 255h1M62 255h2M487 255h2M500 255h1M509 255h1M514 255h1M525 255h1M531 255h1M541 255h1M547 255h1M576 255h1M43 256h2M51 256h1M499 256h1M501 256h1M503 256h1M505 256h1M508 256h1M516 256h1M520 256h1M524 256h1M42 257h1M50 257h1M495 257h1M509 257h1M526 257h1M529 257h1M42 258h1M49 258h1M60 258h1M519 258h2M524 258h1M536 258h1M508 259h1M515 260h1M43 261h1M45 297h1M50 300h1M76 302h1M67 304h1M46 305h1M45 308h1M44 310h1M39 311h1M44 311h1M51 312h1M66 313h1M68 313h1M46 315h1M72 315h1M45 316h1M47 316h1M49 316h1M42 318h1M44 318h1M43 319h1M213 320h1M76 321h1M211 321h1M57 322h1M44 324h1M63 324h1M211 324h1M211 325h1M42 328h1M546 328h1M52 329h1M47 330h1M541 330h1M53 331h1M533 331h1M491 332h1M513 332h1M523 332h1M555 332h1M44 333h1M47 333h2M210 333h1M39 334h1M45 334h1M343 334h1M546 334h1M40 335h1M74 335h1M507 335h1M513 335h1M532 335h1M392 336h1M502 336h1M520 336h1M206 337h1M211 337h1M506 337h1M512 337h1M203 338h2M499 338h1M204 339h1M385 339h1M392 339h1M482 339h1M390 340h1M49 341h1M65 341h1M201 341h1M211 341h1M391 341h1M514 341h1M202 342h1M204 342h1M383 342h1M385 342h2M391 342h1M397 342h1M45 343h2M199 343h2M201 344h1M384 344h1M395 344h1M204 345h1M206 345h1M399 345h1M198 346h1M204 346h1M206 346h1M380 346h1M385 346h1M396 346h1M398 346h1M199 347h1M41 348h1M205 348h1M65 349h1M75 349h1M385 349h2M394 349h1M200 350h1M202 350h1M341 350h1M379 350h1M384 350h1M48 351h1M53 351h1M201 351h1M362 351h1M372 351h1M375 351h1M388 351h2M678 351h1M51 352h1M201 352h1M203 352h2M383 352h2M60 353h1M361 353h1M368 353h1M379 353h1M384 353h1M388 353h1M398 353h1M48 354h1M201 354h1M211 354h1M373 354h1M669 354h1M199 355h1M522 355h1M205 356h1M364 356h1M378 356h1M395 356h1M507 356h1M511 356h2M526 356h1M45 357h1M47 357h1M51 357h1M63 357h1M379 357h1M493 357h1M500 357h1M507 357h2M510 357h1M512 357h1M521 357h1M524 357h2M82 358h1M369 358h1M383 358h2M390 358h1M495 358h1M502 358h1M507 358h1M516 358h2M525 358h1M533 358h1M536 358h1M551 358h1M43 359h2M209 359h1M369 359h1M493 359h1M497 359h1M501 359h1M504 359h1M508 359h4M525 359h2M547 359h1M48 360h1M66 360h1M72 360h1M199 360h2M204 360h1M357 360h1M361 360h1M364 360h1M366 360h1M496 360h1M506 360h1M546 360h1M557 360h1M77 361h1M400 361h1M486 361h1M490 361h1M497 361h1M500 361h1M507 361h1M531 361h1M535 361h2M548 361h1M42 362h1M200 362h1M368 362h1M382 362h1M491 362h1M499 362h1M543 362h1M547 362h1M70 363h1M72 363h1M347 363h1M383 363h1M391 363h1M482 363h2M487 363h1M495 363h1M531 363h1M535 363h1M537 363h2M547 363h5M38 364h1M56 364h1M60 364h3M205 364h1M357 364h1M365 364h1M398 364h1M479 364h1M489 364h1M493 364h1M533 364h1M537 364h1M543 364h1M549 364h1M57 365h1M60 365h1M73 365h1M206 365h1M212 365h1M361 365h1M363 365h1M390 365h1M392 365h1M485 365h1M498 365h2M538 365h1M541 365h1M544 365h1M546 365h1M44 366h1M48 366h1M59 366h1M65 366h3M70 366h1M342 366h1M388 366h1M395 366h2M484 366h1M494 366h2M497 366h1M542 366h1M556 366h1M566 366h1M43 367h1M54 367h1M189 367h1M201 367h1M206 367h2M366 367h1M386 367h3M390 367h1M483 367h1M485 367h1M496 367h1M498 367h1M501 367h2M531 367h1M544 367h1M549 367h1M57 368h1M60 368h4M201 368h2M206 368h2M368 368h1M397 368h1M488 368h2M494 368h1M497 368h1M508 368h1M529 368h1M535 368h1M537 368h2M543 368h1M563 368h1M55 369h3M59 369h1M63 369h1M389 369h2M485 369h1M492 369h1M495 369h2M533 369h2M542 369h2M548 369h1M557 369h1M54 370h1M80 370h1M362 370h1M387 370h1M389 370h1M406 370h1M484 370h1M488 370h1M490 370h1M492 370h2M496 370h1M499 370h1M523 370h1M544 370h2M561 370h1M63 371h1M364 371h1M366 371h1M383 371h1M395 371h2M495 371h1M497 371h2M504 371h1M521 371h1M54 372h1M62 372h1M79 372h1M357 372h1M362 372h1M367 372h1M396 372h1M503 372h1M505 372h1M514 372h1M530 372h1M542 372h1M546 372h1M551 372h1M54 373h1M63 373h2M364 373h1M370 373h1M377 373h1M382 373h1M391 373h1M398 373h1M510 373h1M525 373h1M541 373h1M545 373h1M53 374h1M64 374h1M366 374h1M371 374h1M384 374h1M393 374h2M399 374h1M486 374h1M492 374h1M513 374h1M517 374h1M522 374h1M54 375h1M56 375h2M63 375h1M66 375h1M370 375h1M377 375h1M513 375h1M521 375h1M523 375h2M56 376h1M363 376h1M365 376h1M369 376h1M377 376h1M379 376h1M381 376h1M383 376h1M506 376h1M511 376h1M517 376h1M522 376h1M527 376h1M564 376h1M675 376h1M677 376h2M54 377h1M56 377h2M66 377h1M79 377h1M365 377h1M381 377h1M385 377h1M392 377h1M483 377h1M523 377h1M527 377h1M673 377h1M677 377h2M52 378h1M61 378h1M63 378h1M80 378h1M365 378h2M373 378h2M380 378h1M382 378h2M389 378h1M403 378h1M505 378h1M513 378h1M517 378h1M529 378h1M541 378h1M547 378h1M670 378h1M678 378h1M51 379h2M58 379h1M62 379h1M82 379h1M370 379h2M376 379h1M380 379h1M389 379h1M542 379h1M676 379h1M679 379h1M60 380h1M65 380h1M90 380h1M365 380h1M370 380h1M493 380h1M512 380h1M521 380h1M523 380h1M526 380h1M531 380h1M538 380h1M545 380h1M551 380h1M674 380h1M55 381h2M58 381h1M64 381h1M66 381h1M384 381h1M510 381h1M516 381h1M541 381h1M544 381h1M551 381h1M666 381h1M669 381h1M678 381h1M52 382h1M54 382h2M57 382h1M65 382h1M371 382h1M498 382h1M530 382h1M547 382h1M679 382h1M48 383h2M55 383h2M59 383h1M65 383h1M371 383h1M379 383h1M383 383h1M500 383h1M541 383h1M666 383h1M671 383h3M45 384h1M49 384h2M53 384h1M380 384h2M383 384h1M481 384h1M486 384h1M515 384h1M524 384h1M546 384h1M669 384h1M673 384h1M676 384h1M50 385h1M53 385h1M55 385h1M59 385h1M373 385h1M377 385h1M489 385h1M495 385h1M675 385h1M43 386h1M49 386h1M65 386h1M356 386h1M359 386h1M382 386h1M392 386h2M403 386h1M505 386h1M510 386h1M541 386h1M662 386h2M672 386h1M678 386h1M59 387h1M61 387h1M78 387h1M379 387h1M485 387h1M518 387h1M663 387h1M673 387h1M675 387h1M40 388h1M43 388h1M63 388h1M364 388h1M377 388h2M382 388h1M493 388h1M673 388h1M677 388h1M43 389h1M59 389h1M63 389h1M346 389h1M401 389h1M489 389h1M501 389h1M547 389h1M657 389h1M661 389h2M57 390h2M369 390h1M388 390h1M513 390h1M539 390h1M659 390h1M675 390h1M496 391h1M539 391h1M663 391h1M53 392h1M380 392h1M383 392h1M489 392h1M501 392h1M661 392h1M672 392h1M54 393h1M359 393h1M373 393h1M494 393h1M524 393h1M541 393h1M660 393h1M663 393h1M670 393h1M672 393h1M58 394h1M379 394h1M487 394h1M498 394h1M506 394h1M528 394h1M534 394h1M538 394h1M540 394h1M549 394h1M669 394h1M52 395h3M373 395h1M490 395h1M516 395h1M520 395h1M546 395h1M637 395h1M645 395h1M652 395h1M666 395h1M669 395h1M676 395h1M49 396h1M512 396h1M529 396h1M635 396h1M638 396h1M646 396h1M654 396h1M659 396h1M661 396h1M663 396h2M669 396h1M47 397h1M49 397h1M484 397h1M500 397h1M508 397h1M510 397h1M514 397h2M635 397h1M645 397h1M647 397h1M655 397h1M658 397h1M660 397h1M670 397h1M523 398h1M536 398h1M543 398h1M635 398h1M643 398h1M648 398h1M650 398h1M656 398h1M671 398h1M676 398h1M480 399h1M485 399h1M502 399h1M519 399h1M542 399h2M636 399h2M646 399h1M649 399h1M652 399h1M658 399h1M669 399h1M641 400h1M643 400h1M658 400h1M665 400h1M674 400h1M71 401h1M634 401h1M639 401h1M648 401h1M652 401h2M659 401h1M662 401h1M668 401h1M644 402h2M654 402h2M665 402h1M669 402h1M650 403h1M660 403h2M672 403h1M662 405h1M42 444h1M47 444h1M43 445h1M63 445h1M67 445h1M40 446h1M43 446h1M66 446h1M49 447h1M64 448h1M46 449h1M39 451h1M43 451h1M44 452h1M46 452h1M40 453h3M57 453h1M46 454h1M60 454h1M44 455h1M66 455h1M39 456h1M43 456h1M43 457h1M40 458h1M43 458h2M50 458h1M41 461h1M64 461h1M42 463h1M61 465h1M47 466h1M503 466h1M38 467h1M43 467h1M46 467h1M211 467h1M522 467h1M46 468h1M48 468h1M57 468h1M61 468h1M64 468h1M66 468h1M500 468h1M56 469h1M504 469h1M38 470h1M41 470h1M500 470h1M503 470h1M512 470h1M523 470h1M525 470h2M536 470h1M497 471h1M506 471h2M513 471h1M517 471h1M544 471h1M40 472h1M490 472h1M503 472h1M507 472h1M510 472h1M45 473h1M206 473h1M524 473h1M211 474h1M505 474h1M511 474h1M515 474h1M528 474h1M67 475h1M393 475h1M399 475h1M402 475h1M494 475h1M504 475h1M42 476h2M51 476h1M523 476h1M213 477h1M403 477h1M529 477h1M66 478h1M43 479h1M67 479h1M389 479h1M519 479h1M47 480h1M203 480h1M391 480h1M529 480h1M44 481h1M502 481h1M538 481h1M43 482h1M199 482h1M521 482h1M52 483h1M519 483h1M536 483h1M200 484h1M389 484h1M543 484h1M44 485h1M205 485h1M208 485h1M212 485h1M542 485h1M44 486h1M53 486h1M205 486h1M404 486h1M41 487h1M44 487h1M203 487h1M209 487h1M391 487h2M509 487h1M202 488h1M205 488h1M386 488h1M389 488h1M516 488h1M41 489h1M200 489h1M205 489h1M403 489h1M545 489h1M200 490h2M404 490h1M504 490h1M532 490h1M41 491h1M48 491h1M200 491h1M388 491h1M395 491h1M201 492h1M41 493h1M58 493h1M200 493h1M204 493h3M213 493h1M376 493h1M389 493h1M396 493h1M523 493h1M525 493h1M38 494h1M374 494h1M376 494h1M382 494h1M387 494h1M392 494h1M394 494h1M508 494h1M201 495h1M204 495h2M365 495h2M390 495h1M523 495h1M38 496h1M366 496h1M373 496h1M401 496h1M41 497h1M46 497h1M61 497h1M204 497h1M361 497h1M371 497h1M393 497h1M395 497h1M494 497h1M44 498h1M47 498h1M66 498h1M74 498h1M360 498h1M390 498h1M41 499h1M365 499h1M391 499h1M397 499h1M542 499h1M554 499h1M43 500h1M54 500h1M203 500h1M358 500h1M361 500h1M390 500h1M397 500h1M503 500h2M537 500h1M40 501h1M354 501h1M365 501h1M389 501h1M599 501h1M46 502h1M51 502h1M66 502h1M365 502h1M390 502h1M401 502h1M513 502h1M515 502h1M43 503h1M48 503h1M201 503h1M352 503h1M361 503h1M372 503h1M396 503h1M498 503h2M506 503h1M509 503h1M524 503h1M567 503h1M398 504h1M502 504h2M521 504h2M527 504h1M558 504h1M43 505h1M56 505h1M207 505h1M352 505h1M356 505h1M397 505h1M500 505h3M507 505h1M509 505h1M511 505h1M531 505h1M546 505h1M551 505h1M41 506h1M47 506h1M199 506h1M365 506h2M404 506h1M493 506h1M512 506h1M514 506h1M522 506h1M525 506h1M535 506h1M548 506h1M559 506h1M36 507h1M355 507h1M494 507h1M505 507h1M518 507h1M522 507h1M530 507h1M534 507h1M545 507h1M555 507h1M206 508h1M362 508h1M408 508h2M491 508h1M496 508h1M511 508h1M513 508h2M524 508h1M547 508h1M551 508h1M556 508h1M559 508h1M561 508h2M389 509h1M393 509h1M499 509h1M503 509h1M506 509h1M508 509h1M514 509h2M522 509h1M530 509h1M536 509h1M545 509h1M550 509h1M562 509h1M43 510h1M58 510h1M492 510h1M501 510h1M507 510h2M513 510h1M524 510h1M529 510h2M541 510h2M548 510h3M563 510h1M41 511h1M63 511h1M199 511h1M201 511h1M207 511h1M362 511h1M409 511h1M499 511h2M513 511h1M517 511h1M521 511h1M530 511h1M542 511h1M544 511h2M549 511h3M561 511h1M51 512h3M195 512h1M198 512h1M200 512h2M203 512h5M211 512h1M364 512h1M491 512h1M497 512h2M504 512h1M522 512h2M533 512h1M543 512h1M47 513h1M49 513h1M57 513h1M60 513h1M64 513h1M199 513h1M204 513h1M212 513h1M506 513h1M512 513h1M518 513h1M525 513h2M551 513h1M554 513h1M564 513h2M40 514h1M51 514h1M55 514h2M61 514h1M65 514h1M73 514h1M368 514h1M503 514h1M513 514h1M519 514h1M536 514h1M541 514h2M551 514h1M555 514h1M562 514h1M564 514h1M576 514h1M43 515h1M45 515h1M57 515h1M380 515h1M500 515h1M515 515h1M518 515h1M523 515h1M525 515h1M529 515h1M531 515h1M539 515h2M548 515h1M552 515h1M555 515h1M564 515h1M46 516h1M63 516h1M405 516h1M407 516h1M509 516h1M522 516h1M528 516h1M530 516h1M532 516h1M542 516h1M558 516h1M562 516h1M564 516h2M597 516h1M42 517h1M48 517h1M58 517h1M63 517h1M383 517h1M385 517h1M492 517h1M521 517h1M525 517h1M536 517h1M538 517h1M542 517h1M545 517h2M565 517h1M45 518h1M47 518h1M50 518h1M52 518h1M57 518h1M356 518h1M405 518h1M515 518h1M530 518h1M544 518h1M547 518h1M550 518h1M553 518h1M40 519h1M50 519h1M59 519h1M361 519h1M397 519h1M403 519h1M406 519h1M494 519h1M498 519h1M508 519h1M517 519h1M520 519h1M525 519h1M555 519h1M562 519h1M45 520h1M47 520h1M63 520h1M355 520h1M361 520h1M394 520h1M400 520h1M494 520h1M498 520h1M529 520h1M531 520h1M536 520h1M540 520h1M45 521h1M57 521h1M60 521h2M68 521h1M362 521h1M380 521h1M383 521h2M389 521h1M397 521h1M399 521h1M496 521h1M508 521h1M511 521h2M525 521h2M528 521h1M534 521h1M555 521h2M59 522h1M355 522h1M360 522h1M383 522h1M390 522h1M495 522h1M499 522h1M501 522h1M504 522h1M509 522h2M517 522h1M519 522h1M522 522h1M527 522h1M535 522h2M543 522h2M550 522h1M554 522h1M40 523h1M45 523h1M61 523h1M364 523h1M391 523h1M394 523h1M398 523h1M511 523h1M516 523h1M518 523h2M530 523h1M536 523h1M539 523h1M541 523h1M547 523h1M550 523h1M554 523h1M556 523h1M559 523h1M60 524h1M369 524h1M381 524h1M493 524h1M498 524h1M536 524h1M551 524h1M559 524h1M563 524h1M58 525h2M358 525h1M363 525h1M386 525h1M394 525h1M409 525h1M492 525h1M499 525h1M505 525h1M522 525h1M524 525h1M534 525h1M548 525h2M551 525h2M61 526h1M384 526h1M386 526h1M389 526h2M393 526h1M397 526h1M496 526h1M501 526h3M515 526h1M529 526h1M534 526h2M540 526h1M542 526h1M40 527h1M42 527h1M56 527h1M371 527h1M382 527h1M385 527h1M392 527h1M491 527h1M496 527h1M500 527h1M502 527h1M505 527h1M517 527h1M522 527h1M524 527h1M530 527h1M534 527h1M536 527h3M543 527h1M545 527h1M547 527h1M550 527h1M555 527h1M557 527h1M591 527h1M59 528h1M360 528h1M378 528h1M496 528h1M516 528h1M539 528h1M541 528h1M551 528h1M553 528h2M355 529h1M359 529h1M365 529h1M370 529h1M387 529h1M390 529h1M409 529h1M515 529h1M520 529h2M525 529h1M531 529h1M536 529h1M539 529h3M555 529h1M40 530h1M56 530h1M355 530h1M367 530h1M391 530h1M405 530h1M408 530h1M498 530h1M502 530h2M509 530h1M522 530h1M526 530h1M530 530h1M538 530h2M543 530h1M550 530h1M561 530h1M575 530h1M579 530h1M41 531h1M357 531h1M360 531h1M363 531h1M373 531h1M388 531h1M405 531h1M493 531h1M495 531h1M498 531h1M501 531h1M518 531h1M527 531h1M531 531h1M540 531h1M548 531h1M578 531h1M592 531h1M53 532h1M403 532h1M495 532h1M497 532h1M499 532h1M510 532h1M513 532h1M517 532h1M520 532h1M524 532h1M526 532h1M531 532h1M538 532h2M555 532h1M557 532h1M577 532h1M41 533h1M54 533h1M362 533h1M386 533h1M491 533h1M504 533h1M508 533h1M515 533h1M522 533h1M531 533h1M538 533h1M562 533h1M49 534h1M51 534h1M360 534h1M501 534h2M523 534h1M526 534h4M531 534h1M533 534h2M538 534h1M542 534h1M552 534h1M569 534h1M50 535h1M58 535h1M375 535h1M378 535h1M505 535h1M507 535h2M514 535h2M522 535h1M537 535h1M556 535h1M38 536h1M373 536h1M496 536h1M499 536h1M501 536h2M511 536h2M515 536h1M517 536h2M527 536h1M529 536h1M532 536h1M537 536h1M548 536h1M559 536h1M568 536h1M497 537h2M521 537h2M524 537h1M529 537h1M531 537h2M535 537h2M544 537h1M47 538h1M49 538h1M384 538h1M495 538h1M501 538h1M503 538h1M520 538h2M524 538h3M531 538h1M536 538h1M543 538h1M49 539h1M350 539h1M355 539h1M500 539h1M508 539h1M511 539h1M516 539h1M523 539h1M531 539h1M536 539h1M561 539h1M565 539h1M497 540h1M499 540h1M504 540h1M515 540h1M522 540h1M525 540h1M527 540h1M530 540h1M532 540h2M537 540h1M544 540h1M566 540h1M578 540h1M49 541h1M492 541h2M497 541h1M501 541h1M515 541h1M517 541h1M524 541h1M527 541h1M531 541h1M539 541h1M552 541h1M562 541h1M564 541h1M492 542h1M496 542h1M503 542h1M507 542h1M512 542h2M518 542h2M527 542h1M541 542h3M563 542h1M53 543h1M492 543h1M496 543h1M510 543h1M512 543h1M520 543h1M527 543h2M531 543h1M536 543h1M39 544h2M496 544h2M503 544h1M509 544h1M514 544h2M525 544h1M538 544h1M561 544h1M571 544h1M40 546h1M36 547h1" stroke="rgb(155, 155, 180)" stroke-width="1" transform="translate(0,0.5)"/><path d="M46 6h1M49 11h1M46 17h1M214 22h1M217 23h1M214 24h1M361 24h1M219 27h1M220 29h1M45 32h1M57 33h1M211 35h1M363 35h1M48 37h1M47 38h1M52 41h1M58 42h1M45 43h1M49 45h1M212 45h1M62 47h1M96 50h1M216 51h1M533 51h1M362 52h1M205 53h1M206 54h1M494 54h1M523 54h1M369 55h1M504 55h1M204 56h1M361 56h1M504 56h1M203 57h1M352 59h1M210 60h1M485 60h1M201 62h1M498 62h1M48 63h1M70 63h1M370 64h1M503 65h1M363 66h1M72 68h1M59 69h1M357 69h1M361 69h1M370 69h1M67 70h1M503 70h1M45 71h1M495 71h1M358 72h1M508 72h1M47 73h1M488 73h2M557 73h1M45 74h1M63 74h1M65 74h1M191 75h1M485 75h1M489 75h1M489 76h1M523 76h1M520 77h1M52 78h1M65 78h1M51 79h1M73 79h1M336 79h1M355 79h1M498 79h1M54 80h1M351 80h1M192 81h1M219 81h1M491 81h1M352 82h1M49 84h1M50 85h1M64 85h2M66 86h1M73 86h1M350 86h1M352 86h1M60 87h1M66 88h1M505 89h1M515 89h1M61 90h1M370 90h1M513 90h1M350 91h1M489 91h1M506 91h1M519 91h1M59 92h1M485 92h1M62 93h1M510 94h1M58 95h1M72 95h1M555 95h1M54 96h1M346 96h1M510 96h1M512 96h1M46 97h1M346 97h1M481 97h1M493 97h1M503 97h1M479 98h1M346 99h1M515 101h1M350 102h1M43 103h1M376 103h1M510 103h1M348 104h1M373 104h1M353 105h1M497 105h2M526 105h1M486 106h1M346 107h1M376 110h1M43 161h1M45 170h1M44 175h1M46 177h1M51 180h1M214 183h1M218 184h1M220 184h1M214 187h1M45 189h1M48 190h1M217 190h1M214 191h1M396 191h1M45 194h1M401 196h1M42 199h1M49 204h1M46 205h1M54 206h1M359 208h1M57 209h1M207 209h1M389 210h1M375 211h1M397 214h1M67 223h1M355 224h1M44 225h1M205 225h2M209 226h1M217 226h2M62 227h1M209 227h1M63 228h1M77 228h1M400 228h1M402 228h1M77 229h1M408 229h1M540 229h1M68 230h1M380 230h1M391 230h2M535 230h1M52 231h1M57 231h1M83 231h1M72 232h1M535 232h1M547 232h1M58 233h1M405 233h1M540 233h1M87 234h1M378 234h1M74 235h1M412 235h1M395 236h1M397 236h1M524 236h1M567 236h1M50 237h1M59 237h1M392 237h1M529 237h1M394 238h1M526 238h1M574 239h1M55 240h1M70 240h2M70 242h1M73 242h1M75 242h1M47 244h1M502 246h1M50 247h1M521 248h1M61 249h1M67 249h1M515 249h1M47 250h2M521 250h1M48 251h1M63 251h1M46 252h1M58 252h1M498 252h1M528 252h1M574 252h1M576 252h1M58 253h1M493 253h1M497 253h1M535 254h1M552 254h1M392 255h1M524 255h1M500 257h1M534 257h1M43 258h1M65 316h1M57 317h1M44 321h1M42 326h1M47 326h1M41 327h1M46 327h1M44 332h1M208 335h1M42 336h1M42 339h1M203 339h1M396 339h1M202 340h1M204 340h1M203 341h1M203 342h1M39 344h1M57 344h1M199 344h1M208 345h1M397 346h1M50 348h1M393 348h1M395 348h1M75 350h1M201 350h1M364 350h1M381 350h1M385 350h1M204 351h1M398 352h1M521 354h1M49 355h1M515 355h1M368 356h1M366 357h1M381 357h1M518 357h1M378 358h1M501 358h1M518 358h1M366 359h1M70 360h1M525 360h1M532 360h1M46 361h1M71 361h1M482 361h1M504 361h1M529 361h1M65 362h1M502 362h1M532 362h1M207 363h1M540 363h1M542 363h1M483 365h1M501 365h1M547 365h1M398 366h1M481 366h1M487 366h1M537 366h1M46 367h1M63 367h1M198 367h1M555 367h1M44 368h1M198 368h1M384 368h1M544 368h1M486 369h1M563 369h1M63 370h1M67 370h1M504 370h1M61 371h1M64 371h1M388 371h1M536 371h1M366 372h1M381 372h1M390 372h1M521 372h1M532 372h1M530 373h1M538 373h1M55 374h1M389 374h1M527 374h1M379 375h1M389 375h1M63 376h1M76 376h1M391 376h1M368 377h1M502 377h1M390 378h1M678 379h1M59 380h1M66 380h1M386 380h1M673 380h1M371 381h1M536 381h1M675 381h1M63 382h1M397 382h1M481 382h1M61 383h1M482 385h1M529 385h1M43 387h1M381 387h1M388 387h1M517 387h1M652 387h1M669 387h1M58 389h1M486 389h1M528 389h1M42 391h1M487 391h1M513 392h1M517 392h1M538 392h1M671 394h1M515 395h1M52 396h1M517 396h1M650 401h1M646 402h1M66 448h1M44 451h1M88 454h1M39 458h1M47 461h1M505 465h1M492 468h2M44 470h1M59 472h1M46 476h1M404 476h1M394 477h1M205 479h1M83 480h1M42 482h1M200 482h1M202 482h1M205 482h1M47 483h1M212 484h1M199 485h2M210 485h1M40 486h1M200 487h1M206 489h1M212 489h1M381 490h1M61 491h1M391 491h1M39 493h1M384 493h1M508 493h1M391 494h1M376 497h1M411 497h1M42 500h1M362 500h1M46 501h1M205 502h1M41 503h1M364 503h1M525 503h1M403 504h1M512 504h1M201 505h1M498 505h1M534 505h1M496 506h1M517 506h1M530 506h1M558 506h1M197 507h1M406 507h1M500 507h1M508 507h2M44 508h1M502 508h1M48 509h1M61 509h1M520 509h1M537 509h1M531 510h1M557 510h1M62 511h1M206 511h1M208 511h1M354 511h1M497 511h1M501 511h1M543 511h1M65 512h1M202 512h1M210 512h1M505 512h1M551 512h1M198 513h1M491 513h1M555 513h1M46 514h1M59 514h1M517 514h1M535 514h1M513 515h1M544 515h1M59 516h1M61 516h1M43 517h1M540 517h1M65 518h1M361 518h1M522 518h1M557 518h1M65 519h1M358 519h1M394 519h1M542 519h1M547 519h1M556 519h1M56 520h1M58 520h1M393 520h1M402 520h1M541 520h1M562 520h1M493 521h1M58 522h1M357 523h1M392 523h1M402 523h1M500 523h1M523 523h1M57 524h1M376 524h1M60 525h1M372 525h1M508 526h2M57 527h1M358 527h1M548 527h1M400 528h1M364 529h1M379 529h1M549 529h1M40 531h1M55 531h1M507 531h1M49 533h1M526 533h1M536 533h1M400 534h1M498 534h1M525 535h1M559 535h1M514 536h1M541 536h1M53 537h1M491 537h1M519 537h1M493 538h1M540 538h1M576 538h1M393 539h1M509 539h2M540 539h1M48 540h1M508 540h1M534 540h1M568 541h1M505 542h1M535 542h1M493 543h1M502 543h1M556 543h1M541 544h1" stroke="rgb(70, 70, 125)" stroke-width="1" transform="translate(0,0.5)"/></g>
<rect x="35" y="0" width="110.5" height="111.8" fill="none" stroke="#bdbdbd" stroke-width="1"/>
<path d="M35 0.3H145.5" stroke="#98a0c4" stroke-width="1.1"/>
<path d="M35.8 111.8v3.6M56.2 111.8v3.6M76.7 111.8v3.6M97.1 111.8v3.6M117.6 111.8v3.6M138 111.8v3.6M35 111.2h-3.6M35 90.4h-3.6M35 69.5h-3.6M35 48.7h-3.6M35 27.8h-3.6M35 7h-3.6" stroke="#111" stroke-width="1.05" fill="none"/>
<path d="M39.9 111.8v1.6M44 111.8v1.6M48.1 111.8v1.6M52.2 111.8v1.6M60.3 111.8v1.6M64.4 111.8v1.6M68.5 111.8v1.6M72.6 111.8v1.6M80.8 111.8v1.6M84.9 111.8v1.6M88.9 111.8v1.6M93 111.8v1.6M101.2 111.8v1.6M105.3 111.8v1.6M109.4 111.8v1.6M113.5 111.8v1.6M121.6 111.8v1.6M125.7 111.8v1.6M129.8 111.8v1.6M133.9 111.8v1.6M142.1 111.8v1.6M35 107h-1.6M35 102.9h-1.6M35 98.7h-1.6M35 94.5h-1.6M35 86.2h-1.6M35 82h-1.6M35 77.9h-1.6M35 73.7h-1.6M35 65.4h-1.6M35 61.2h-1.6M35 57h-1.6M35 52.8h-1.6M35 44.5h-1.6M35 40.3h-1.6M35 36.2h-1.6M35 32h-1.6M35 23.7h-1.6M35 19.5h-1.6M35 15.3h-1.6M35 11.2h-1.6M35 2.8h-1.6" stroke="#333" stroke-width="0.6" fill="none"/>
<path d="M35 0V111.8H145.5" stroke="#b0b0b0" stroke-width="1" fill="none"/>














<rect x="183.8" y="1.5" width="111.2" height="110.5" fill="none" stroke="#bdbdbd" stroke-width="1"/>
<path d="M185 112v3.6M205.8 112v3.6M226.6 112v3.6M247.4 112v3.6M268.2 112v3.6M289 112v3.6M183.8 111.4h-3.6M183.8 90.6h-3.6M183.8 69.8h-3.6M183.8 49.1h-3.6M183.8 28.3h-3.6M183.8 7.5h-3.6" stroke="#111" stroke-width="1.05" fill="none"/>
<path d="M189.2 112v1.6M193.3 112v1.6M197.5 112v1.6M201.6 112v1.6M210 112v1.6M214.1 112v1.6M218.3 112v1.6M222.4 112v1.6M230.8 112v1.6M234.9 112v1.6M239.1 112v1.6M243.2 112v1.6M251.6 112v1.6M255.7 112v1.6M259.9 112v1.6M264 112v1.6M272.4 112v1.6M276.5 112v1.6M280.7 112v1.6M284.8 112v1.6M293.2 112v1.6M183.8 107.2h-1.6M183.8 103.1h-1.6M183.8 98.9h-1.6M183.8 94.8h-1.6M183.8 86.5h-1.6M183.8 82.3h-1.6M183.8 78.2h-1.6M183.8 74h-1.6M183.8 65.7h-1.6M183.8 61.5h-1.6M183.8 57.4h-1.6M183.8 53.2h-1.6M183.8 44.9h-1.6M183.8 40.7h-1.6M183.8 36.6h-1.6M183.8 32.4h-1.6M183.8 24.1h-1.6M183.8 20h-1.6M183.8 15.8h-1.6M183.8 11.7h-1.6M183.8 3.3h-1.6" stroke="#333" stroke-width="0.6" fill="none"/>
<path d="M183.8 1.5V112H295" stroke="#b0b0b0" stroke-width="1" fill="none"/>














<rect x="327" y="0.5" width="111.4" height="111" fill="none" stroke="#bdbdbd" stroke-width="1"/>
<path d="M333 111.5v3M353 111.5v3.6M379 111.5v3.6M403.7 111.5v3.6M428 111.5v3.6M327 105.4h-3M327 85h-3.6M327 60h-3.6M327 35.2h-3.6M327 10.3h-3.6" stroke="#111" stroke-width="1.05" fill="none"/>
<path d="M360.5 111.5v1.5M364.9 111.5v1.5M368.1 111.5v1.5M370.5 111.5v1.5M372.5 111.5v1.5M374.1 111.5v1.5M375.6 111.5v1.5M376.9 111.5v1.5M339.9 111.5v1.5M343.1 111.5v1.5M345.5 111.5v1.5M347.5 111.5v1.5M349.1 111.5v1.5M350.6 111.5v1.5M351.9 111.5v1.5M386.5 111.5v1.5M390.9 111.5v1.5M394.1 111.5v1.5M396.5 111.5v1.5M398.5 111.5v1.5M400.1 111.5v1.5M401.6 111.5v1.5M402.9 111.5v1.5M361.5 111.5v1.5M365.9 111.5v1.5M369.1 111.5v1.5M371.5 111.5v1.5M373.5 111.5v1.5M375.1 111.5v1.5M376.6 111.5v1.5M377.9 111.5v1.5M411.2 111.5v1.5M415.6 111.5v1.5M418.8 111.5v1.5M421.2 111.5v1.5M423.2 111.5v1.5M424.8 111.5v1.5M426.3 111.5v1.5M427.6 111.5v1.5M386.2 111.5v1.5M390.6 111.5v1.5M393.8 111.5v1.5M396.2 111.5v1.5M398.2 111.5v1.5M399.8 111.5v1.5M401.3 111.5v1.5M402.6 111.5v1.5M435.5 111.5v1.5M410.5 111.5v1.5M414.9 111.5v1.5M418.1 111.5v1.5M420.5 111.5v1.5M422.5 111.5v1.5M424.1 111.5v1.5M425.6 111.5v1.5M426.9 111.5v1.5M327 77.5h-1.5M327 73.1h-1.5M327 70h-1.5M327 67.6h-1.5M327 65.6h-1.5M327 64h-1.5M327 62.5h-1.5M327 61.2h-1.5M327 98h-1.5M327 94.9h-1.5M327 92.5h-1.5M327 90.5h-1.5M327 88.9h-1.5M327 87.4h-1.5M327 86.1h-1.5M327 52.5h-1.5M327 48.1h-1.5M327 45h-1.5M327 42.6h-1.5M327 40.6h-1.5M327 39h-1.5M327 37.5h-1.5M327 36.2h-1.5M327 77.4h-1.5M327 73h-1.5M327 69.9h-1.5M327 67.5h-1.5M327 65.5h-1.5M327 63.9h-1.5M327 62.4h-1.5M327 61.1h-1.5M327 27.7h-1.5M327 23.3h-1.5M327 20.2h-1.5M327 17.8h-1.5M327 15.8h-1.5M327 14.2h-1.5M327 12.7h-1.5M327 11.4h-1.5M327 52.6h-1.5M327 48.2h-1.5M327 45.1h-1.5M327 42.7h-1.5M327 40.7h-1.5M327 39.1h-1.5M327 37.6h-1.5M327 36.3h-1.5M327 2.8h-1.5M327 27.7h-1.5M327 23.3h-1.5M327 20.2h-1.5M327 17.8h-1.5M327 15.8h-1.5M327 14.2h-1.5M327 12.7h-1.5M327 11.4h-1.5" stroke="#333" stroke-width="0.6" fill="none"/>
<path d="M329.2 111.5v3.4M330.5 111.5v3.4M331.8 111.5v3.4M333 111.5v3.4M334.2 111.5v3.4M335.5 111.5v3.4M336.8 111.5v3.4M327 101.4h-3.3M327 102.6h-3.3M327 103.8h-3.3M327 105h-3.3M327 106.2h-3.3M327 107.4h-3.3M327 108.6h-3.3" stroke="#000" stroke-width="1.05" fill="none"/>
<path d="M327 0.5V111.5H438.4" stroke="#b0b0b0" stroke-width="1" fill="none"/>




















<rect x="475.4" y="1" width="111.3" height="111" fill="none" stroke="#bdbdbd" stroke-width="1"/>
<path d="M481.5 112v3M502 112v3.6M528.3 112v3.6M553 112v3.6M578.3 112v3.6M475.4 106h-3M475.4 86h-3.6M475.4 60h-3.6M475.4 36h-3.6M475.4 11h-3.6" stroke="#111" stroke-width="1.05" fill="none"/>
<path d="M509.7 112v1.5M514.1 112v1.5M517.3 112v1.5M519.8 112v1.5M521.8 112v1.5M523.5 112v1.5M525 112v1.5M526.3 112v1.5M488.7 112v1.5M491.9 112v1.5M494.3 112v1.5M496.4 112v1.5M498.1 112v1.5M499.5 112v1.5M500.8 112v1.5M536 112v1.5M540.4 112v1.5M543.6 112v1.5M546.1 112v1.5M548.1 112v1.5M549.8 112v1.5M551.3 112v1.5M552.6 112v1.5M510.5 112v1.5M515 112v1.5M518.2 112v1.5M520.6 112v1.5M522.7 112v1.5M524.4 112v1.5M525.8 112v1.5M527.1 112v1.5M560.7 112v1.5M565.1 112v1.5M568.3 112v1.5M570.8 112v1.5M572.8 112v1.5M574.5 112v1.5M576 112v1.5M577.3 112v1.5M535.2 112v1.5M539.7 112v1.5M542.9 112v1.5M545.3 112v1.5M547.4 112v1.5M549.1 112v1.5M550.5 112v1.5M551.8 112v1.5M586 112v1.5M560.5 112v1.5M565 112v1.5M568.2 112v1.5M570.6 112v1.5M572.7 112v1.5M574.4 112v1.5M575.8 112v1.5M577.1 112v1.5M475.4 78.5h-1.5M475.4 74.1h-1.5M475.4 70.9h-1.5M475.4 68.5h-1.5M475.4 66.5h-1.5M475.4 64.9h-1.5M475.4 63.4h-1.5M475.4 62.1h-1.5M475.4 99.1h-1.5M475.4 95.9h-1.5M475.4 93.5h-1.5M475.4 91.5h-1.5M475.4 89.9h-1.5M475.4 88.4h-1.5M475.4 87.1h-1.5M475.4 52.5h-1.5M475.4 48.1h-1.5M475.4 44.9h-1.5M475.4 42.5h-1.5M475.4 40.5h-1.5M475.4 38.9h-1.5M475.4 37.4h-1.5M475.4 36.1h-1.5M475.4 77.5h-1.5M475.4 73.1h-1.5M475.4 69.9h-1.5M475.4 67.5h-1.5M475.4 65.5h-1.5M475.4 63.9h-1.5M475.4 62.4h-1.5M475.4 61.1h-1.5M475.4 28.5h-1.5M475.4 24.1h-1.5M475.4 20.9h-1.5M475.4 18.5h-1.5M475.4 16.5h-1.5M475.4 14.9h-1.5M475.4 13.4h-1.5M475.4 12.1h-1.5M475.4 53.5h-1.5M475.4 49.1h-1.5M475.4 45.9h-1.5M475.4 43.5h-1.5M475.4 41.5h-1.5M475.4 39.9h-1.5M475.4 38.4h-1.5M475.4 37.1h-1.5M475.4 3.5h-1.5M475.4 28.5h-1.5M475.4 24.1h-1.5M475.4 20.9h-1.5M475.4 18.5h-1.5M475.4 16.5h-1.5M475.4 14.9h-1.5M475.4 13.4h-1.5M475.4 12.1h-1.5" stroke="#333" stroke-width="0.6" fill="none"/>
<path d="M477.8 112v3.4M479 112v3.4M480.2 112v3.4M481.5 112v3.4M482.8 112v3.4M484 112v3.4M485.2 112v3.4M475.4 102h-3.3M475.4 103.2h-3.3M475.4 104.4h-3.3M475.4 105.6h-3.3M475.4 106.8h-3.3M475.4 108h-3.3M475.4 109.2h-3.3" stroke="#000" stroke-width="1.05" fill="none"/>
<path d="M475.4 1V112H586.7" stroke="#b0b0b0" stroke-width="1" fill="none"/>




















<rect x="34.3" y="147.4" width="112.1" height="117.4" fill="none" stroke="#bdbdbd" stroke-width="1"/>
<path d="M34.3 147.7H146.4" stroke="#98a0c4" stroke-width="1.1"/>
<path d="M35 264.8v3.6M56 264.8v3.6M76.9 264.8v3.6M97.9 264.8v3.6M118.8 264.8v3.6M139.8 264.8v3.6M34.3 264.2h-3.6M34.3 242.1h-3.6M34.3 220h-3.6M34.3 198h-3.6M34.3 175.9h-3.6M34.3 153.8h-3.6" stroke="#111" stroke-width="1.05" fill="none"/>
<path d="M39.2 264.8v1.6M43.4 264.8v1.6M47.6 264.8v1.6M51.8 264.8v1.6M60.2 264.8v1.6M64.3 264.8v1.6M68.5 264.8v1.6M72.7 264.8v1.6M81.1 264.8v1.6M85.3 264.8v1.6M89.5 264.8v1.6M93.7 264.8v1.6M102.1 264.8v1.6M106.3 264.8v1.6M110.5 264.8v1.6M114.6 264.8v1.6M123 264.8v1.6M127.2 264.8v1.6M131.4 264.8v1.6M135.6 264.8v1.6M144 264.8v1.6M34.3 259.8h-1.6M34.3 255.4h-1.6M34.3 251h-1.6M34.3 246.5h-1.6M34.3 237.7h-1.6M34.3 233.3h-1.6M34.3 228.9h-1.6M34.3 224.5h-1.6M34.3 215.6h-1.6M34.3 211.2h-1.6M34.3 206.8h-1.6M34.3 202.4h-1.6M34.3 193.5h-1.6M34.3 189.1h-1.6M34.3 184.7h-1.6M34.3 180.3h-1.6M34.3 171.5h-1.6M34.3 167h-1.6M34.3 162.6h-1.6M34.3 158.2h-1.6M34.3 149.4h-1.6" stroke="#333" stroke-width="0.6" fill="none"/>
<path d="M34.3 147.4V264.8H146.4" stroke="#b0b0b0" stroke-width="1" fill="none"/>














<rect x="185.4" y="147.4" width="112.4" height="117.9" fill="none" stroke="#bdbdbd" stroke-width="1"/>
<path d="M186.7 265.3v3.6M207.3 265.3v3.6M228 265.3v3.6M248.6 265.3v3.6M269.3 265.3v3.6M289.9 265.3v3.6M185.4 264.7h-3.6M185.4 242.5h-3.6M185.4 220.3h-3.6M185.4 198.2h-3.6M185.4 176h-3.6M185.4 153.8h-3.6" stroke="#111" stroke-width="1.05" fill="none"/>
<path d="M190.8 265.3v1.6M195 265.3v1.6M199.1 265.3v1.6M203.2 265.3v1.6M211.5 265.3v1.6M215.6 265.3v1.6M219.7 265.3v1.6M223.9 265.3v1.6M232.1 265.3v1.6M236.2 265.3v1.6M240.4 265.3v1.6M244.5 265.3v1.6M252.7 265.3v1.6M256.9 265.3v1.6M261 265.3v1.6M265.1 265.3v1.6M273.4 265.3v1.6M277.5 265.3v1.6M281.6 265.3v1.6M285.8 265.3v1.6M294 265.3v1.6M185.4 260.3h-1.6M185.4 255.8h-1.6M185.4 251.4h-1.6M185.4 247h-1.6M185.4 238.1h-1.6M185.4 233.6h-1.6M185.4 229.2h-1.6M185.4 224.8h-1.6M185.4 215.9h-1.6M185.4 211.5h-1.6M185.4 207h-1.6M185.4 202.6h-1.6M185.4 193.7h-1.6M185.4 189.3h-1.6M185.4 184.9h-1.6M185.4 180.4h-1.6M185.4 171.5h-1.6M185.4 167.1h-1.6M185.4 162.7h-1.6M185.4 158.2h-1.6M185.4 149.4h-1.6" stroke="#333" stroke-width="0.6" fill="none"/>
<path d="M185.4 147.4V265.3H297.8" stroke="#b0b0b0" stroke-width="1" fill="none"/>














<rect x="330.3" y="148.4" width="112.2" height="117.6" fill="none" stroke="#bdbdbd" stroke-width="1"/>
<path d="M337 266v3M357.6 266v3.6M382.6 266v3.6M408.5 266v3.6M432.2 266v3.6M330.3 259.5h-3M330.3 238h-3.6M330.3 211.2h-3.6M330.3 185.4h-3.6M330.3 159.8h-3.6" stroke="#111" stroke-width="1.05" fill="none"/>
<path d="M365.1 266v1.5M369.5 266v1.5M372.6 266v1.5M375 266v1.5M377 266v1.5M378.6 266v1.5M380.1 266v1.5M381.3 266v1.5M344.6 266v1.5M347.7 266v1.5M350.1 266v1.5M352.1 266v1.5M353.7 266v1.5M355.2 266v1.5M356.5 266v1.5M390.1 266v1.5M394.5 266v1.5M397.6 266v1.5M400 266v1.5M402 266v1.5M403.6 266v1.5M405.1 266v1.5M406.3 266v1.5M365.2 266v1.5M369.6 266v1.5M372.7 266v1.5M375.1 266v1.5M377.1 266v1.5M378.7 266v1.5M380.2 266v1.5M381.5 266v1.5M416 266v1.5M420.4 266v1.5M423.5 266v1.5M425.9 266v1.5M427.9 266v1.5M429.5 266v1.5M431 266v1.5M432.2 266v1.5M391.1 266v1.5M395.5 266v1.5M398.6 266v1.5M401 266v1.5M403 266v1.5M404.6 266v1.5M406.1 266v1.5M407.4 266v1.5M439.7 266v1.5M414.8 266v1.5M419.2 266v1.5M422.3 266v1.5M424.7 266v1.5M426.7 266v1.5M428.3 266v1.5M429.8 266v1.5M431.1 266v1.5M330.3 230.2h-1.5M330.3 225.6h-1.5M330.3 222.3h-1.5M330.3 219.8h-1.5M330.3 217.7h-1.5M330.3 216h-1.5M330.3 214.5h-1.5M330.3 213.1h-1.5M330.3 251.6h-1.5M330.3 248.4h-1.5M330.3 245.8h-1.5M330.3 243.8h-1.5M330.3 242h-1.5M330.3 240.5h-1.5M330.3 239.2h-1.5M330.3 203.4h-1.5M330.3 198.8h-1.5M330.3 195.5h-1.5M330.3 193h-1.5M330.3 190.9h-1.5M330.3 189.2h-1.5M330.3 187.7h-1.5M330.3 186.3h-1.5M330.3 229.4h-1.5M330.3 224.8h-1.5M330.3 221.6h-1.5M330.3 219h-1.5M330.3 217h-1.5M330.3 215.2h-1.5M330.3 213.7h-1.5M330.3 212.4h-1.5M330.3 177.6h-1.5M330.3 173h-1.5M330.3 169.7h-1.5M330.3 167.2h-1.5M330.3 165.1h-1.5M330.3 163.4h-1.5M330.3 161.9h-1.5M330.3 160.5h-1.5M330.3 203.6h-1.5M330.3 199h-1.5M330.3 195.8h-1.5M330.3 193.2h-1.5M330.3 191.2h-1.5M330.3 189.4h-1.5M330.3 187.9h-1.5M330.3 186.6h-1.5M330.3 152h-1.5M330.3 178h-1.5M330.3 173.4h-1.5M330.3 170.2h-1.5M330.3 167.6h-1.5M330.3 165.6h-1.5M330.3 163.8h-1.5M330.3 162.3h-1.5M330.3 161h-1.5" stroke="#333" stroke-width="0.6" fill="none"/>
<path d="M333.2 266v3.4M334.5 266v3.4M335.8 266v3.4M337 266v3.4M338.2 266v3.4M339.5 266v3.4M340.8 266v3.4M330.3 255.5h-3.3M330.3 256.7h-3.3M330.3 257.9h-3.3M330.3 259.1h-3.3M330.3 260.3h-3.3M330.3 261.5h-3.3M330.3 262.7h-3.3" stroke="#000" stroke-width="1.05" fill="none"/>
<path d="M330.3 148.4V266H442.5" stroke="#b0b0b0" stroke-width="1" fill="none"/>




















<rect x="487" y="147.4" width="112.6" height="117.6" fill="none" stroke="#bdbdbd" stroke-width="1"/>
<path d="M493 265v3M514.4 265v3.6M539.5 265v3.6M564.3 265v3.6M589.6 265v3.6M487 264.4h-3.6M487 242.3h-3.6M487 220.2h-3.6M487 198h-3.6M487 175.9h-3.6M487 153.8h-3.6" stroke="#111" stroke-width="1.05" fill="none"/>
<path d="M521.9 265v1.5M526.4 265v1.5M529.5 265v1.5M531.9 265v1.5M533.9 265v1.5M535.6 265v1.5M537 265v1.5M538.3 265v1.5M501.3 265v1.5M504.4 265v1.5M506.9 265v1.5M508.8 265v1.5M510.5 265v1.5M512 265v1.5M513.3 265v1.5M547 265v1.5M551.5 265v1.5M554.6 265v1.5M557 265v1.5M559 265v1.5M560.7 265v1.5M562.1 265v1.5M563.4 265v1.5M522 265v1.5M526.4 265v1.5M529.5 265v1.5M532 265v1.5M533.9 265v1.5M535.6 265v1.5M537.1 265v1.5M538.4 265v1.5M571.8 265v1.5M576.3 265v1.5M579.4 265v1.5M581.8 265v1.5M583.8 265v1.5M585.5 265v1.5M586.9 265v1.5M588.2 265v1.5M546.8 265v1.5M551.2 265v1.5M554.3 265v1.5M556.8 265v1.5M558.7 265v1.5M560.4 265v1.5M561.9 265v1.5M563.2 265v1.5M597.1 265v1.5M572.1 265v1.5M576.5 265v1.5M579.6 265v1.5M582.1 265v1.5M584 265v1.5M585.7 265v1.5M587.2 265v1.5M588.5 265v1.5M487 260h-1.6M487 255.6h-1.6M487 251.1h-1.6M487 246.7h-1.6M487 237.9h-1.6M487 233.4h-1.6M487 229h-1.6M487 224.6h-1.6M487 215.7h-1.6M487 211.3h-1.6M487 206.9h-1.6M487 202.5h-1.6M487 193.6h-1.6M487 189.2h-1.6M487 184.8h-1.6M487 180.3h-1.6M487 171.5h-1.6M487 167.1h-1.6M487 162.6h-1.6M487 158.2h-1.6M487 149.4h-1.6" stroke="#333" stroke-width="0.6" fill="none"/>
<path d="M489.2 265v3.4M490.5 265v3.4M491.8 265v3.4M493 265v3.4M494.2 265v3.4M495.5 265v3.4M496.8 265v3.4" stroke="#000" stroke-width="1.05" fill="none"/>
<path d="M487 147.4V265H599.6" stroke="#b0b0b0" stroke-width="1" fill="none"/>

















<rect x="32.2" y="295" width="110.3" height="107" fill="none" stroke="#bdbdbd" stroke-width="1"/>
<path d="M32.2 295.3H142.5" stroke="#98a0c4" stroke-width="1.1"/>
<path d="M33 402v3.6M53.3 402v3.6M73.6 402v3.6M94 402v3.6M114.3 402v3.6M134.6 402v3.6M32.2 401.4h-3.6M32.2 381h-3.6M32.2 360.7h-3.6M32.2 340.3h-3.6M32.2 320h-3.6M32.2 299.6h-3.6" stroke="#111" stroke-width="1.05" fill="none"/>
<path d="M37.1 402v1.6M41.1 402v1.6M45.2 402v1.6M49.3 402v1.6M57.4 402v1.6M61.4 402v1.6M65.5 402v1.6M69.6 402v1.6M77.7 402v1.6M81.8 402v1.6M85.8 402v1.6M89.9 402v1.6M98 402v1.6M102.1 402v1.6M106.2 402v1.6M110.2 402v1.6M118.3 402v1.6M122.4 402v1.6M126.5 402v1.6M130.5 402v1.6M138.7 402v1.6M32.2 397.3h-1.6M32.2 393.3h-1.6M32.2 389.2h-1.6M32.2 385.1h-1.6M32.2 377h-1.6M32.2 372.9h-1.6M32.2 368.8h-1.6M32.2 364.8h-1.6M32.2 356.6h-1.6M32.2 352.5h-1.6M32.2 348.5h-1.6M32.2 344.4h-1.6M32.2 336.2h-1.6M32.2 332.2h-1.6M32.2 328.1h-1.6M32.2 324h-1.6M32.2 315.9h-1.6M32.2 311.8h-1.6M32.2 307.7h-1.6M32.2 303.7h-1.6M32.2 295.5h-1.6" stroke="#333" stroke-width="0.6" fill="none"/>
<path d="M32.2 295V402H142.5" stroke="#b0b0b0" stroke-width="1" fill="none"/>














<rect x="180.1" y="296.9" width="110.3" height="106.1" fill="none" stroke="#bdbdbd" stroke-width="1"/>
<path d="M180.9 403v3.6M201.2 403v3.6M221.5 403v3.6M241.9 403v3.6M262.2 403v3.6M282.5 403v3.6M180.1 402.4h-3.6M180.1 382.3h-3.6M180.1 362.2h-3.6M180.1 342h-3.6M180.1 321.9h-3.6M180.1 301.8h-3.6" stroke="#111" stroke-width="1.05" fill="none"/>
<path d="M185 403v1.6M189 403v1.6M193.1 403v1.6M197.2 403v1.6M205.3 403v1.6M209.3 403v1.6M213.4 403v1.6M217.5 403v1.6M225.6 403v1.6M229.7 403v1.6M233.7 403v1.6M237.8 403v1.6M245.9 403v1.6M250 403v1.6M254.1 403v1.6M258.1 403v1.6M266.2 403v1.6M270.3 403v1.6M274.4 403v1.6M278.4 403v1.6M286.6 403v1.6M180.1 398.4h-1.6M180.1 394.4h-1.6M180.1 390.3h-1.6M180.1 386.3h-1.6M180.1 378.3h-1.6M180.1 374.2h-1.6M180.1 370.2h-1.6M180.1 366.2h-1.6M180.1 358.1h-1.6M180.1 354.1h-1.6M180.1 350.1h-1.6M180.1 346.1h-1.6M180.1 338h-1.6M180.1 334h-1.6M180.1 330h-1.6M180.1 325.9h-1.6M180.1 317.9h-1.6M180.1 313.9h-1.6M180.1 309.8h-1.6M180.1 305.8h-1.6M180.1 297.8h-1.6" stroke="#333" stroke-width="0.6" fill="none"/>
<path d="M180.1 296.9V403H290.4" stroke="#b0b0b0" stroke-width="1" fill="none"/>














<rect x="327.7" y="300" width="110.8" height="106.9" fill="none" stroke="#bdbdbd" stroke-width="1"/>
<path d="M333.8 406.9v3M354.4 406.9v3.6M380.8 406.9v3.6M404.5 406.9v3.6M427.5 406.9v3.6M327.7 400.3h-3M327.7 381.8h-3.6M327.7 358h-3.6M327.7 333.8h-3.6M327.7 310.6h-3.6" stroke="#111" stroke-width="1.05" fill="none"/>
<path d="M361.7 406.9v1.5M366 406.9v1.5M369.1 406.9v1.5M371.4 406.9v1.5M373.4 406.9v1.5M375 406.9v1.5M376.4 406.9v1.5M377.7 406.9v1.5M341.7 406.9v1.5M344.7 406.9v1.5M347.1 406.9v1.5M349 406.9v1.5M350.6 406.9v1.5M352 406.9v1.5M353.3 406.9v1.5M388.1 406.9v1.5M392.4 406.9v1.5M395.5 406.9v1.5M397.8 406.9v1.5M399.8 406.9v1.5M401.4 406.9v1.5M402.8 406.9v1.5M404.1 406.9v1.5M363.8 406.9v1.5M368.1 406.9v1.5M371.1 406.9v1.5M373.5 406.9v1.5M375.4 406.9v1.5M377 406.9v1.5M378.4 406.9v1.5M379.7 406.9v1.5M411.8 406.9v1.5M416.1 406.9v1.5M419.2 406.9v1.5M421.5 406.9v1.5M423.5 406.9v1.5M425.1 406.9v1.5M426.5 406.9v1.5M427.8 406.9v1.5M387.5 406.9v1.5M391.8 406.9v1.5M394.8 406.9v1.5M397.2 406.9v1.5M399.1 406.9v1.5M400.7 406.9v1.5M402.1 406.9v1.5M403.4 406.9v1.5M434.8 406.9v1.5M410.5 406.9v1.5M414.8 406.9v1.5M417.8 406.9v1.5M420.2 406.9v1.5M422.1 406.9v1.5M423.7 406.9v1.5M425.1 406.9v1.5M426.4 406.9v1.5M327.7 374.7h-1.5M327.7 370.5h-1.5M327.7 367.5h-1.5M327.7 365.2h-1.5M327.7 363.3h-1.5M327.7 361.7h-1.5M327.7 360.4h-1.5M327.7 359.2h-1.5M327.7 394.2h-1.5M327.7 391.2h-1.5M327.7 388.9h-1.5M327.7 387.1h-1.5M327.7 385.5h-1.5M327.7 384.1h-1.5M327.7 382.9h-1.5M327.7 350.9h-1.5M327.7 346.7h-1.5M327.7 343.7h-1.5M327.7 341.4h-1.5M327.7 339.5h-1.5M327.7 337.9h-1.5M327.7 336.6h-1.5M327.7 335.4h-1.5M327.7 374.6h-1.5M327.7 370.4h-1.5M327.7 367.4h-1.5M327.7 365.1h-1.5M327.7 363.3h-1.5M327.7 361.7h-1.5M327.7 360.3h-1.5M327.7 359.1h-1.5M327.7 326.7h-1.5M327.7 322.5h-1.5M327.7 319.5h-1.5M327.7 317.2h-1.5M327.7 315.3h-1.5M327.7 313.7h-1.5M327.7 312.4h-1.5M327.7 311.2h-1.5M327.7 350.4h-1.5M327.7 346.2h-1.5M327.7 343.2h-1.5M327.7 340.9h-1.5M327.7 339.1h-1.5M327.7 337.5h-1.5M327.7 336.1h-1.5M327.7 334.9h-1.5M327.7 303.5h-1.5M327.7 327.2h-1.5M327.7 323h-1.5M327.7 320h-1.5M327.7 317.7h-1.5M327.7 315.9h-1.5M327.7 314.3h-1.5M327.7 312.9h-1.5M327.7 311.7h-1.5" stroke="#333" stroke-width="0.6" fill="none"/>
<path d="M330.1 406.9v3.4M331.3 406.9v3.4M332.6 406.9v3.4M333.8 406.9v3.4M335.1 406.9v3.4M336.3 406.9v3.4M337.6 406.9v3.4M327.7 396.3h-3.3M327.7 397.5h-3.3M327.7 398.7h-3.3M327.7 399.9h-3.3M327.7 401.1h-3.3M327.7 402.3h-3.3M327.7 403.5h-3.3" stroke="#000" stroke-width="1.05" fill="none"/>
<path d="M327.7 300V406.9H438.5" stroke="#b0b0b0" stroke-width="1" fill="none"/>




















<rect x="478.5" y="300" width="110.8" height="106.9" fill="none" stroke="#bdbdbd" stroke-width="1"/>
<path d="M485.1 406.9v3M506.5 406.9v3.6M532.1 406.9v3.6M556.4 406.9v3.6M580.1 406.9v3.6M478.5 400.3h-3M478.5 381.8h-3.6M478.5 356.2h-3.6M478.5 333.8h-3.6M478.5 310.6h-3.6" stroke="#111" stroke-width="1.05" fill="none"/>
<path d="M513.9 406.9v1.5M518.2 406.9v1.5M521.3 406.9v1.5M523.6 406.9v1.5M525.6 406.9v1.5M527.2 406.9v1.5M528.7 406.9v1.5M529.9 406.9v1.5M489.4 406.9v1.5M493.7 406.9v1.5M496.7 406.9v1.5M499.1 406.9v1.5M501.1 406.9v1.5M502.7 406.9v1.5M504.1 406.9v1.5M505.4 406.9v1.5M539.5 406.9v1.5M543.8 406.9v1.5M546.9 406.9v1.5M549.2 406.9v1.5M551.2 406.9v1.5M552.8 406.9v1.5M554.3 406.9v1.5M555.5 406.9v1.5M515 406.9v1.5M519.3 406.9v1.5M522.3 406.9v1.5M524.7 406.9v1.5M526.7 406.9v1.5M528.3 406.9v1.5M529.7 406.9v1.5M531 406.9v1.5M563.8 406.9v1.5M568.1 406.9v1.5M571.2 406.9v1.5M573.5 406.9v1.5M575.5 406.9v1.5M577.1 406.9v1.5M578.6 406.9v1.5M579.8 406.9v1.5M539.3 406.9v1.5M543.6 406.9v1.5M546.6 406.9v1.5M549 406.9v1.5M551 406.9v1.5M552.6 406.9v1.5M554 406.9v1.5M555.3 406.9v1.5M587.5 406.9v1.5M563 406.9v1.5M567.3 406.9v1.5M570.3 406.9v1.5M572.7 406.9v1.5M574.7 406.9v1.5M576.3 406.9v1.5M577.7 406.9v1.5M579 406.9v1.5M478.5 374.7h-1.5M478.5 370.5h-1.5M478.5 367.5h-1.5M478.5 365.2h-1.5M478.5 363.3h-1.5M478.5 361.7h-1.5M478.5 360.4h-1.5M478.5 359.2h-1.5M478.5 394.2h-1.5M478.5 391.2h-1.5M478.5 388.9h-1.5M478.5 387.1h-1.5M478.5 385.5h-1.5M478.5 384.1h-1.5M478.5 382.9h-1.5M478.5 349.1h-1.5M478.5 344.9h-1.5M478.5 341.9h-1.5M478.5 339.6h-1.5M478.5 337.7h-1.5M478.5 336.1h-1.5M478.5 334.8h-1.5M478.5 333.6h-1.5M478.5 372.8h-1.5M478.5 368.6h-1.5M478.5 365.6h-1.5M478.5 363.3h-1.5M478.5 361.5h-1.5M478.5 359.9h-1.5M478.5 358.5h-1.5M478.5 357.3h-1.5M478.5 326.7h-1.5M478.5 322.5h-1.5M478.5 319.5h-1.5M478.5 317.2h-1.5M478.5 315.3h-1.5M478.5 313.7h-1.5M478.5 312.4h-1.5M478.5 311.2h-1.5M478.5 350.4h-1.5M478.5 346.2h-1.5M478.5 343.2h-1.5M478.5 340.9h-1.5M478.5 339.1h-1.5M478.5 337.5h-1.5M478.5 336.1h-1.5M478.5 334.9h-1.5M478.5 303.5h-1.5M478.5 327.2h-1.5M478.5 323h-1.5M478.5 320h-1.5M478.5 317.7h-1.5M478.5 315.9h-1.5M478.5 314.3h-1.5M478.5 312.9h-1.5M478.5 311.7h-1.5" stroke="#333" stroke-width="0.6" fill="none"/>
<path d="M481.4 406.9v3.4M482.6 406.9v3.4M483.9 406.9v3.4M485.1 406.9v3.4M486.4 406.9v3.4M487.6 406.9v3.4M488.9 406.9v3.4M478.5 396.3h-3.3M478.5 397.5h-3.3M478.5 398.7h-3.3M478.5 399.9h-3.3M478.5 401.1h-3.3M478.5 402.3h-3.3M478.5 403.5h-3.3" stroke="#000" stroke-width="1.05" fill="none"/>
<path d="M478.5 300V406.9H589.3" stroke="#b0b0b0" stroke-width="1" fill="none"/>




















<rect x="631.7" y="302.2" width="110" height="106.3" fill="none" stroke="#bdbdbd" stroke-width="1"/>
<path d="M638 408.5v3M659 408.5v3.6M684 408.5v3.6M708.5 408.5v3.6M731.5 408.5v3.6M631.7 407.9h-3.6M631.7 387.7h-3.6M631.7 367.5h-3.6M631.7 347.4h-3.6M631.7 327.2h-3.6M631.7 307h-3.6" stroke="#111" stroke-width="1.05" fill="none"/>
<path d="M666.3 408.5v1.5M670.5 408.5v1.5M673.5 408.5v1.5M675.9 408.5v1.5M677.8 408.5v1.5M679.4 408.5v1.5M680.8 408.5v1.5M682.1 408.5v1.5M642.1 408.5v1.5M646.4 408.5v1.5M649.4 408.5v1.5M651.7 408.5v1.5M653.6 408.5v1.5M655.3 408.5v1.5M656.7 408.5v1.5M657.9 408.5v1.5M691.3 408.5v1.5M695.5 408.5v1.5M698.5 408.5v1.5M700.9 408.5v1.5M702.8 408.5v1.5M704.4 408.5v1.5M705.8 408.5v1.5M707.1 408.5v1.5M667.1 408.5v1.5M671.4 408.5v1.5M674.4 408.5v1.5M676.7 408.5v1.5M678.6 408.5v1.5M680.3 408.5v1.5M681.7 408.5v1.5M682.9 408.5v1.5M715.8 408.5v1.5M720 408.5v1.5M723 408.5v1.5M725.4 408.5v1.5M727.3 408.5v1.5M728.9 408.5v1.5M730.3 408.5v1.5M731.6 408.5v1.5M691.6 408.5v1.5M695.9 408.5v1.5M698.9 408.5v1.5M701.2 408.5v1.5M703.1 408.5v1.5M704.8 408.5v1.5M706.2 408.5v1.5M707.4 408.5v1.5M738.8 408.5v1.5M714.6 408.5v1.5M718.9 408.5v1.5M721.9 408.5v1.5M724.2 408.5v1.5M726.1 408.5v1.5M727.8 408.5v1.5M729.2 408.5v1.5M730.4 408.5v1.5M631.7 403.9h-1.6M631.7 399.8h-1.6M631.7 395.8h-1.6M631.7 391.8h-1.6M631.7 383.7h-1.6M631.7 379.6h-1.6M631.7 375.6h-1.6M631.7 371.6h-1.6M631.7 363.5h-1.6M631.7 359.5h-1.6M631.7 355.4h-1.6M631.7 351.4h-1.6M631.7 343.3h-1.6M631.7 339.3h-1.6M631.7 335.3h-1.6M631.7 331.2h-1.6M631.7 323.1h-1.6M631.7 319.1h-1.6M631.7 315.1h-1.6M631.7 311h-1.6M631.7 303h-1.6" stroke="#333" stroke-width="0.6" fill="none"/>
<path d="M634.2 408.5v3.4M635.5 408.5v3.4M636.8 408.5v3.4M638 408.5v3.4M639.2 408.5v3.4M640.5 408.5v3.4M641.8 408.5v3.4" stroke="#000" stroke-width="1.05" fill="none"/>
<path d="M631.7 302.2V408.5H741.7" stroke="#b0b0b0" stroke-width="1" fill="none"/>

















<rect x="30.4" y="442.7" width="111.4" height="105.1" fill="none" stroke="#bdbdbd" stroke-width="1"/>
<path d="M30.4 443H141.8" stroke="#98a0c4" stroke-width="1.1"/>
<path d="M30.9 547.8v3.6M51.8 547.8v3.6M72.7 547.8v3.6M93.6 547.8v3.6M114.5 547.8v3.6M135.4 547.8v3.6M30.4 547.2h-3.6M30.4 527.1h-3.6M30.4 507h-3.6M30.4 486.8h-3.6M30.4 466.7h-3.6M30.4 446.6h-3.6" stroke="#111" stroke-width="1.05" fill="none"/>
<path d="M35.1 547.8v1.6M39.3 547.8v1.6M43.4 547.8v1.6M47.6 547.8v1.6M56 547.8v1.6M60.2 547.8v1.6M64.3 547.8v1.6M68.5 547.8v1.6M76.9 547.8v1.6M81.1 547.8v1.6M85.2 547.8v1.6M89.4 547.8v1.6M97.8 547.8v1.6M102 547.8v1.6M106.1 547.8v1.6M110.3 547.8v1.6M118.7 547.8v1.6M122.9 547.8v1.6M127 547.8v1.6M131.2 547.8v1.6M139.6 547.8v1.6M30.4 543.2h-1.6M30.4 539.2h-1.6M30.4 535.1h-1.6M30.4 531.1h-1.6M30.4 523.1h-1.6M30.4 519h-1.6M30.4 515h-1.6M30.4 511h-1.6M30.4 502.9h-1.6M30.4 498.9h-1.6M30.4 494.9h-1.6M30.4 490.9h-1.6M30.4 482.8h-1.6M30.4 478.8h-1.6M30.4 474.8h-1.6M30.4 470.7h-1.6M30.4 462.7h-1.6M30.4 458.7h-1.6M30.4 454.6h-1.6M30.4 450.6h-1.6" stroke="#333" stroke-width="0.6" fill="none"/>
<path d="M30.4 442.7V547.8H141.8" stroke="#b0b0b0" stroke-width="1" fill="none"/>














<rect x="181.8" y="442.2" width="112.6" height="104.8" fill="none" stroke="#bdbdbd" stroke-width="1"/>
<path d="M183 547v3.6M204 547v3.6M225 547v3.6M246.1 547v3.6M267.1 547v3.6M288.1 547v3.6M181.8 546.4h-3.6M181.8 526.5h-3.6M181.8 506.7h-3.6M181.8 486.8h-3.6M181.8 467h-3.6M181.8 447.1h-3.6" stroke="#111" stroke-width="1.05" fill="none"/>
<path d="M187.2 547v1.6M191.4 547v1.6M195.6 547v1.6M199.8 547v1.6M208.2 547v1.6M212.4 547v1.6M216.6 547v1.6M220.8 547v1.6M229.2 547v1.6M233.4 547v1.6M237.7 547v1.6M241.9 547v1.6M250.3 547v1.6M254.5 547v1.6M258.7 547v1.6M262.9 547v1.6M271.3 547v1.6M275.5 547v1.6M279.7 547v1.6M283.9 547v1.6M292.3 547v1.6M181.8 542.4h-1.6M181.8 538.5h-1.6M181.8 534.5h-1.6M181.8 530.5h-1.6M181.8 522.6h-1.6M181.8 518.6h-1.6M181.8 514.6h-1.6M181.8 510.7h-1.6M181.8 502.7h-1.6M181.8 498.7h-1.6M181.8 494.8h-1.6M181.8 490.8h-1.6M181.8 482.8h-1.6M181.8 478.9h-1.6M181.8 474.9h-1.6M181.8 470.9h-1.6M181.8 463h-1.6M181.8 459h-1.6M181.8 455h-1.6M181.8 451.1h-1.6M181.8 443.1h-1.6" stroke="#333" stroke-width="0.6" fill="none"/>
<path d="M181.8 442.2V547H294.4" stroke="#b0b0b0" stroke-width="1" fill="none"/>














<rect x="330.4" y="439.4" width="111.9" height="104.1" fill="none" stroke="#bdbdbd" stroke-width="1"/>
<path d="M337.5 543.5v3M357.2 543.5v3.6M383.3 543.5v3.6M407.4 543.5v3.6M432 543.5v3.6M330.4 538.2h-3M330.4 518.7h-3.6M330.4 495.4h-3.6M330.4 471.8h-3.6M330.4 449h-3.6" stroke="#111" stroke-width="1.05" fill="none"/>
<path d="M364.7 543.5v1.5M369.1 543.5v1.5M372.2 543.5v1.5M374.6 543.5v1.5M376.6 543.5v1.5M378.3 543.5v1.5M379.7 543.5v1.5M381 543.5v1.5M344.2 543.5v1.5M347.3 543.5v1.5M349.7 543.5v1.5M351.7 543.5v1.5M353.3 543.5v1.5M354.8 543.5v1.5M356.1 543.5v1.5M390.8 543.5v1.5M395.2 543.5v1.5M398.3 543.5v1.5M400.7 543.5v1.5M402.7 543.5v1.5M404.4 543.5v1.5M405.8 543.5v1.5M407.1 543.5v1.5M365.9 543.5v1.5M370.3 543.5v1.5M373.4 543.5v1.5M375.8 543.5v1.5M377.8 543.5v1.5M379.4 543.5v1.5M380.9 543.5v1.5M382.2 543.5v1.5M414.9 543.5v1.5M419.3 543.5v1.5M422.4 543.5v1.5M424.8 543.5v1.5M426.8 543.5v1.5M428.5 543.5v1.5M429.9 543.5v1.5M431.2 543.5v1.5M390 543.5v1.5M394.4 543.5v1.5M397.5 543.5v1.5M399.9 543.5v1.5M401.9 543.5v1.5M403.5 543.5v1.5M405 543.5v1.5M406.3 543.5v1.5M439.5 543.5v1.5M414.6 543.5v1.5M419 543.5v1.5M422.1 543.5v1.5M424.5 543.5v1.5M426.5 543.5v1.5M428.1 543.5v1.5M429.6 543.5v1.5M430.9 543.5v1.5M330.4 511.7h-1.5M330.4 507.6h-1.5M330.4 504.7h-1.5M330.4 502.5h-1.5M330.4 500.6h-1.5M330.4 499.1h-1.5M330.4 497.7h-1.5M330.4 496.5h-1.5M330.4 530.8h-1.5M330.4 527.9h-1.5M330.4 525.7h-1.5M330.4 523.9h-1.5M330.4 522.3h-1.5M330.4 521h-1.5M330.4 519.8h-1.5M330.4 488.4h-1.5M330.4 484.3h-1.5M330.4 481.4h-1.5M330.4 479.2h-1.5M330.4 477.3h-1.5M330.4 475.8h-1.5M330.4 474.4h-1.5M330.4 473.2h-1.5M330.4 511.6h-1.5M330.4 507.5h-1.5M330.4 504.6h-1.5M330.4 502.4h-1.5M330.4 500.6h-1.5M330.4 499h-1.5M330.4 497.7h-1.5M330.4 496.5h-1.5M330.4 464.8h-1.5M330.4 460.7h-1.5M330.4 457.8h-1.5M330.4 455.6h-1.5M330.4 453.7h-1.5M330.4 452.2h-1.5M330.4 450.8h-1.5M330.4 449.6h-1.5M330.4 488h-1.5M330.4 483.9h-1.5M330.4 481h-1.5M330.4 478.8h-1.5M330.4 477h-1.5M330.4 475.4h-1.5M330.4 474.1h-1.5M330.4 472.9h-1.5M330.4 442h-1.5M330.4 465.2h-1.5M330.4 461.1h-1.5M330.4 458.2h-1.5M330.4 456h-1.5M330.4 454.2h-1.5M330.4 452.6h-1.5M330.4 451.3h-1.5M330.4 450.1h-1.5" stroke="#333" stroke-width="0.6" fill="none"/>
<path d="M333.8 543.5v3.4M335 543.5v3.4M336.2 543.5v3.4M337.5 543.5v3.4M338.8 543.5v3.4M340 543.5v3.4M341.2 543.5v3.4M330.4 534.2h-3.3M330.4 535.4h-3.3M330.4 536.6h-3.3M330.4 537.8h-3.3M330.4 539h-3.3M330.4 540.2h-3.3M330.4 541.4h-3.3" stroke="#000" stroke-width="1.05" fill="none"/>
<path d="M330.4 439.4V543.5H442.3" stroke="#b0b0b0" stroke-width="1" fill="none"/>




















<rect x="489.2" y="440.7" width="112.7" height="104.6" fill="none" stroke="#bdbdbd" stroke-width="1"/>
<path d="M495.6 545.3v3M516.8 545.3v3.6M542 545.3v3.6M567.5 545.3v3.6M592 545.3v3.6M489.2 539.4h-3M489.2 520.7h-3.6M489.2 497h-3.6M489.2 473.6h-3.6M489.2 450.3h-3.6" stroke="#111" stroke-width="1.05" fill="none"/>
<path d="M524.3 545.3v1.5M528.8 545.3v1.5M531.9 545.3v1.5M534.3 545.3v1.5M536.3 545.3v1.5M538 545.3v1.5M539.4 545.3v1.5M540.7 545.3v1.5M503.7 545.3v1.5M506.8 545.3v1.5M509.3 545.3v1.5M511.2 545.3v1.5M512.9 545.3v1.5M514.4 545.3v1.5M515.7 545.3v1.5M549.5 545.3v1.5M554 545.3v1.5M557.1 545.3v1.5M559.5 545.3v1.5M561.5 545.3v1.5M563.2 545.3v1.5M564.6 545.3v1.5M565.9 545.3v1.5M524.5 545.3v1.5M528.9 545.3v1.5M532 545.3v1.5M534.5 545.3v1.5M536.4 545.3v1.5M538.1 545.3v1.5M539.6 545.3v1.5M540.9 545.3v1.5M575 545.3v1.5M579.5 545.3v1.5M582.6 545.3v1.5M585 545.3v1.5M587 545.3v1.5M588.7 545.3v1.5M590.1 545.3v1.5M591.4 545.3v1.5M550 545.3v1.5M554.4 545.3v1.5M557.5 545.3v1.5M560 545.3v1.5M561.9 545.3v1.5M563.6 545.3v1.5M565.1 545.3v1.5M566.4 545.3v1.5M599.5 545.3v1.5M574.5 545.3v1.5M578.9 545.3v1.5M582 545.3v1.5M584.5 545.3v1.5M586.4 545.3v1.5M588.1 545.3v1.5M589.6 545.3v1.5M590.9 545.3v1.5M489.2 513.6h-1.5M489.2 509.5h-1.5M489.2 506.6h-1.5M489.2 504.3h-1.5M489.2 502.4h-1.5M489.2 500.9h-1.5M489.2 499.5h-1.5M489.2 498.3h-1.5M489.2 533h-1.5M489.2 530h-1.5M489.2 527.8h-1.5M489.2 525.9h-1.5M489.2 524.3h-1.5M489.2 523h-1.5M489.2 521.8h-1.5M489.2 489.9h-1.5M489.2 485.8h-1.5M489.2 482.9h-1.5M489.2 480.6h-1.5M489.2 478.7h-1.5M489.2 477.2h-1.5M489.2 475.8h-1.5M489.2 474.6h-1.5M489.2 513.4h-1.5M489.2 509.3h-1.5M489.2 506.3h-1.5M489.2 504.1h-1.5M489.2 502.2h-1.5M489.2 500.6h-1.5M489.2 499.3h-1.5M489.2 498.1h-1.5M489.2 466.5h-1.5M489.2 462.4h-1.5M489.2 459.5h-1.5M489.2 457.2h-1.5M489.2 455.3h-1.5M489.2 453.8h-1.5M489.2 452.4h-1.5M489.2 451.2h-1.5M489.2 490h-1.5M489.2 485.9h-1.5M489.2 482.9h-1.5M489.2 480.7h-1.5M489.2 478.8h-1.5M489.2 477.2h-1.5M489.2 475.9h-1.5M489.2 474.7h-1.5M489.2 443.2h-1.5M489.2 466.7h-1.5M489.2 462.6h-1.5M489.2 459.6h-1.5M489.2 457.4h-1.5M489.2 455.5h-1.5M489.2 453.9h-1.5M489.2 452.6h-1.5M489.2 451.4h-1.5" stroke="#333" stroke-width="0.6" fill="none"/>
<path d="M491.9 545.3v3.4M493.1 545.3v3.4M494.4 545.3v3.4M495.6 545.3v3.4M496.9 545.3v3.4M498.1 545.3v3.4M499.4 545.3v3.4M489.2 535.4h-3.3M489.2 536.6h-3.3M489.2 537.8h-3.3M489.2 539h-3.3M489.2 540.2h-3.3M489.2 541.4h-3.3M489.2 542.6h-3.3" stroke="#000" stroke-width="1.05" fill="none"/>
<path d="M489.2 440.7V545.3H601.9" stroke="#b0b0b0" stroke-width="1" fill="none"/>




















<g fill="none" stroke="#000" stroke-width="1.1">
<polygon points="46,94 57,66.5 67.5,66 75.5,76.5 70,98 58,106 48,105 46,103"/>


<rect x="191.7" y="75.9" width="35.7" height="4.9" stroke-width="0.8" stroke="#222"/>


<ellipse cx="366" cy="79.5" rx="12" ry="8" transform="rotate(-30 366 79.5)"/>


<ellipse cx="517" cy="67" rx="9.1" ry="18.7" transform="rotate(12 517 67)"/>


<polygon points="47.5,248.2 62,228.4 73.9,227.1 77,231 71.2,248.2 59.4,260 47.5,256.1"/>


<rect x="196.2" y="227" width="30.8" height="4" stroke-width="0.8" stroke="#222"/>


<ellipse cx="389.6" cy="223.7" rx="17" ry="12.5" transform="rotate(45 389.6 223.7)"/>


<ellipse cx="536.5" cy="241.6" rx="11.3" ry="11.9" transform="rotate(0 536.5 241.6)"/>


<polygon points="42.2,393.2 43.5,386.6 52.8,376 54.1,364.2 64.6,363.6 69.1,369.4 67.3,384 63.3,390.5 55.4,398.5 46.2,397.1"/>


<rect x="189.6" y="368.9" width="25.6" height="3.7" stroke-width="0.8" stroke="#222"/>


<polygon points="362.8,379.5 362,369.4 367.3,354.9 387.1,335.7 394.2,335.7 400.8,347.8 397.1,358.4 402.9,374.2 392.3,378.7"/>


<polygon points="502.8,356.8 520.7,355.7 530.5,356.8 533.1,365.5 531.3,376 514.6,379.5 502.2,376 500.7,366.8"/>


<ellipse cx="671.3" cy="384.9" rx="8.5" ry="12.5" transform="rotate(35 671.3 384.9)"/>


<polygon points="41.8,542.7 41.3,533.9 46.8,525 55.7,510.6 60.8,513.6 63.3,526.3 54.4,540.2 46.8,541.5"/>


<rect x="192.4" y="513.1" width="21.5" height="3.5" stroke-width="0.8" stroke="#222"/>


<polygon points="362,514.9 362,508.5 367.8,497.2 383.5,490.3 389.1,485.8 394.9,475.6 402.5,473.9 407.6,478.2 403.8,490.8 398.2,498.4 410.6,506.5 405.8,517.4 396.2,520.7 373.4,522.5 363.3,518.7"/>


<polygon points="492.5,504.7 498.1,503 525.4,502.2 532.3,509.8 529.7,513.6 518.4,516.1 501.9,523.7 493,518.7 491.3,512.3"/>
<polygon points="542.4,506 560.1,505.5 566.5,515.6 565.2,523.7 550,529.6 544.9,527.5 539.9,513.6"/>




</g>




</g><defs><filter id="id0" filterUnits="userSpaceOnUse" x="0" y="0" width="743" height="569"><feOffset dx="0" dy="0"/></filter></defs><g filter="url(#id0)"><text transform="translate(36.4,124.8) scale(0.88,1)" font-size="4.8" text-anchor="middle">0</text><text transform="translate(54.5,124.8) scale(0.88,1)" font-size="4.8" text-anchor="middle">50K</text><text transform="translate(75,124.8) scale(0.88,1)" font-size="4.8" text-anchor="middle">100K</text><text transform="translate(95.4,124.8) scale(0.88,1)" font-size="4.8" text-anchor="middle">150K</text><text transform="translate(115.9,124.8) scale(0.88,1)" font-size="4.8" text-anchor="middle">200K</text><text transform="translate(136.3,124.8) scale(0.88,1)" font-size="4.8" text-anchor="middle">250K</text><text transform="translate(29,111.3) scale(0.88,1)" font-size="4.8" text-anchor="end">0</text><text transform="translate(29,92.7) scale(0.88,1)" font-size="4.8" text-anchor="end">50K</text><text transform="translate(29,71.8) scale(0.88,1)" font-size="4.8" text-anchor="end">100K</text><text transform="translate(29,51) scale(0.88,1)" font-size="4.8" text-anchor="end">150K</text><text transform="translate(29,30.1) scale(0.88,1)" font-size="4.8" text-anchor="end">200K</text><text transform="translate(29,9.3) scale(0.88,1)" font-size="4.8" text-anchor="end">250K</text><text x="90" y="133.6" font-size="5.2" text-anchor="middle">FSC-A</text><text transform="translate(16.7,55.5) rotate(-90)" font-size="5.2" text-anchor="middle">SSC-A</text><text transform="translate(185.6,125) scale(0.88,1)" font-size="4.8" text-anchor="middle">0</text><text transform="translate(204.1,125) scale(0.88,1)" font-size="4.8" text-anchor="middle">50K</text><text transform="translate(224.9,125) scale(0.88,1)" font-size="4.8" text-anchor="middle">100K</text><text transform="translate(245.7,125) scale(0.88,1)" font-size="4.8" text-anchor="middle">150K</text><text transform="translate(266.5,125) scale(0.88,1)" font-size="4.8" text-anchor="middle">200K</text><text transform="translate(287.3,125) scale(0.88,1)" font-size="4.8" text-anchor="middle">250K</text><text transform="translate(177.8,111.5) scale(0.88,1)" font-size="4.8" text-anchor="end">0</text><text transform="translate(177.8,92.9) scale(0.88,1)" font-size="4.8" text-anchor="end">50K</text><text transform="translate(177.8,72.1) scale(0.88,1)" font-size="4.8" text-anchor="end">100K</text><text transform="translate(177.8,51.4) scale(0.88,1)" font-size="4.8" text-anchor="end">150K</text><text transform="translate(177.8,30.6) scale(0.88,1)" font-size="4.8" text-anchor="end">200K</text><text transform="translate(177.8,9.8) scale(0.88,1)" font-size="4.8" text-anchor="end">250K</text><text x="239.8" y="134.9" font-size="5.2" text-anchor="middle">FSC-A</text><text transform="translate(165.3,57.9) rotate(-90)" font-size="5.2" text-anchor="middle">FSC-W</text><text transform="translate(333.4,124.5) scale(0.88,1)" font-size="4.8" text-anchor="middle">0</text><text transform="translate(353.6,124.5) scale(0.88,1)" font-size="4.8" text-anchor="middle">10</text><text transform="translate(357.4,120.7) scale(0.88,1)" font-size="4.4" text-anchor="middle">2</text><text transform="translate(379.6,124.5) scale(0.88,1)" font-size="4.8" text-anchor="middle">10</text><text transform="translate(383.4,120.7) scale(0.88,1)" font-size="4.4" text-anchor="middle">3</text><text transform="translate(404.3,124.5) scale(0.88,1)" font-size="4.8" text-anchor="middle">10</text><text transform="translate(408.1,120.7) scale(0.88,1)" font-size="4.4" text-anchor="middle">4</text><text transform="translate(428.6,124.5) scale(0.88,1)" font-size="4.8" text-anchor="middle">10</text><text transform="translate(432.4,120.7) scale(0.88,1)" font-size="4.4" text-anchor="middle">5</text><text transform="translate(320,106.7) scale(0.88,1)" font-size="4.8" text-anchor="end">0</text><text transform="translate(319.1,88) scale(0.88,1)" font-size="4.8" text-anchor="end">10</text><text transform="translate(322,84.3) scale(0.88,1)" font-size="4.4" text-anchor="end">2</text><text transform="translate(319.1,63) scale(0.88,1)" font-size="4.8" text-anchor="end">10</text><text transform="translate(322,59.3) scale(0.88,1)" font-size="4.4" text-anchor="end">3</text><text transform="translate(319.1,38.2) scale(0.88,1)" font-size="4.8" text-anchor="end">10</text><text transform="translate(322,34.5) scale(0.88,1)" font-size="4.4" text-anchor="end">4</text><text transform="translate(319.1,13.3) scale(0.88,1)" font-size="4.8" text-anchor="end">10</text><text transform="translate(322,9.6) scale(0.88,1)" font-size="4.4" text-anchor="end">5</text><text x="382.5" y="134.9" font-size="5.2" text-anchor="middle">Comp-Pacific Blue-A</text><text transform="translate(311.3,56.6) rotate(-90)" font-size="5.2" text-anchor="middle">Comp-PerCP-Cy5-5-A</text><text transform="translate(481.9,125) scale(0.88,1)" font-size="4.8" text-anchor="middle">0</text><text transform="translate(502.6,125) scale(0.88,1)" font-size="4.8" text-anchor="middle">10</text><text transform="translate(506.4,121.2) scale(0.88,1)" font-size="4.4" text-anchor="middle">2</text><text transform="translate(528.9,125) scale(0.88,1)" font-size="4.8" text-anchor="middle">10</text><text transform="translate(532.7,121.2) scale(0.88,1)" font-size="4.4" text-anchor="middle">3</text><text transform="translate(553.6,125) scale(0.88,1)" font-size="4.8" text-anchor="middle">10</text><text transform="translate(557.4,121.2) scale(0.88,1)" font-size="4.4" text-anchor="middle">4</text><text transform="translate(578.9,125) scale(0.88,1)" font-size="4.8" text-anchor="middle">10</text><text transform="translate(582.7,121.2) scale(0.88,1)" font-size="4.4" text-anchor="middle">5</text><text transform="translate(468.4,107.3) scale(0.88,1)" font-size="4.8" text-anchor="end">0</text><text transform="translate(467.5,89) scale(0.88,1)" font-size="4.8" text-anchor="end">10</text><text transform="translate(470.4,85.3) scale(0.88,1)" font-size="4.4" text-anchor="end">2</text><text transform="translate(467.5,63) scale(0.88,1)" font-size="4.8" text-anchor="end">10</text><text transform="translate(470.4,59.3) scale(0.88,1)" font-size="4.4" text-anchor="end">3</text><text transform="translate(467.5,39) scale(0.88,1)" font-size="4.8" text-anchor="end">10</text><text transform="translate(470.4,35.3) scale(0.88,1)" font-size="4.4" text-anchor="end">4</text><text transform="translate(467.5,14) scale(0.88,1)" font-size="4.8" text-anchor="end">10</text><text transform="translate(470.4,10.3) scale(0.88,1)" font-size="4.4" text-anchor="end">5</text><text x="527.6" y="134.9" font-size="5.2" text-anchor="middle">Comp-PE-A</text><text transform="translate(459.9,57) rotate(-90)" font-size="5.2" text-anchor="middle">Comp-APC-A</text><text transform="translate(35.6,279.1) scale(0.88,1)" font-size="4.8" text-anchor="middle">0</text><text transform="translate(54.3,279.1) scale(0.88,1)" font-size="4.8" text-anchor="middle">50K</text><text transform="translate(75.2,279.1) scale(0.88,1)" font-size="4.8" text-anchor="middle">100K</text><text transform="translate(96.2,279.1) scale(0.88,1)" font-size="4.8" text-anchor="middle">150K</text><text transform="translate(117.1,279.1) scale(0.88,1)" font-size="4.8" text-anchor="middle">200K</text><text transform="translate(138.1,279.1) scale(0.88,1)" font-size="4.8" text-anchor="middle">250K</text><text transform="translate(28.3,264.3) scale(0.88,1)" font-size="4.8" text-anchor="end">0</text><text transform="translate(28.3,245.3) scale(0.88,1)" font-size="4.8" text-anchor="end">50K</text><text transform="translate(28.3,223.2) scale(0.88,1)" font-size="4.8" text-anchor="end">100K</text><text transform="translate(28.3,201.2) scale(0.88,1)" font-size="4.8" text-anchor="end">150K</text><text transform="translate(28.3,179.1) scale(0.88,1)" font-size="4.8" text-anchor="end">200K</text><text transform="translate(28.3,157) scale(0.88,1)" font-size="4.8" text-anchor="end">250K</text><text x="90.5" y="288.9" font-size="5.2" text-anchor="middle">FSC-A</text><text transform="translate(15.6,207) rotate(-90)" font-size="5.2" text-anchor="middle">SSC-A</text><text transform="translate(187.3,279.6) scale(0.88,1)" font-size="4.8" text-anchor="middle">0</text><text transform="translate(205.6,279.6) scale(0.88,1)" font-size="4.8" text-anchor="middle">50K</text><text transform="translate(226.3,279.6) scale(0.88,1)" font-size="4.8" text-anchor="middle">100K</text><text transform="translate(246.9,279.6) scale(0.88,1)" font-size="4.8" text-anchor="middle">150K</text><text transform="translate(267.6,279.6) scale(0.88,1)" font-size="4.8" text-anchor="middle">200K</text><text transform="translate(288.2,279.6) scale(0.88,1)" font-size="4.8" text-anchor="middle">250K</text><text transform="translate(179.4,264.8) scale(0.88,1)" font-size="4.8" text-anchor="end">0</text><text transform="translate(179.4,245.7) scale(0.88,1)" font-size="4.8" text-anchor="end">50K</text><text transform="translate(179.4,223.5) scale(0.88,1)" font-size="4.8" text-anchor="end">100K</text><text transform="translate(179.4,201.4) scale(0.88,1)" font-size="4.8" text-anchor="end">150K</text><text transform="translate(179.4,179.2) scale(0.88,1)" font-size="4.8" text-anchor="end">200K</text><text transform="translate(179.4,157) scale(0.88,1)" font-size="4.8" text-anchor="end">250K</text><text x="240" y="288.9" font-size="5.2" text-anchor="middle">FSC-A</text><text transform="translate(166.9,207.3) rotate(-90)" font-size="5.2" text-anchor="middle">FSC-W</text><text transform="translate(337.4,280.3) scale(0.88,1)" font-size="4.8" text-anchor="middle">0</text><text transform="translate(358.2,280.3) scale(0.88,1)" font-size="4.8" text-anchor="middle">10</text><text transform="translate(362,276.5) scale(0.88,1)" font-size="4.4" text-anchor="middle">2</text><text transform="translate(383.2,280.3) scale(0.88,1)" font-size="4.8" text-anchor="middle">10</text><text transform="translate(387,276.5) scale(0.88,1)" font-size="4.4" text-anchor="middle">3</text><text transform="translate(409.1,280.3) scale(0.88,1)" font-size="4.8" text-anchor="middle">10</text><text transform="translate(412.9,276.5) scale(0.88,1)" font-size="4.4" text-anchor="middle">4</text><text transform="translate(432.8,280.3) scale(0.88,1)" font-size="4.8" text-anchor="middle">10</text><text transform="translate(436.6,276.5) scale(0.88,1)" font-size="4.4" text-anchor="middle">5</text><text transform="translate(323.3,260.8) scale(0.88,1)" font-size="4.8" text-anchor="end">0</text><text transform="translate(322.4,241) scale(0.88,1)" font-size="4.8" text-anchor="end">10</text><text transform="translate(325.3,237.3) scale(0.88,1)" font-size="4.4" text-anchor="end">2</text><text transform="translate(322.4,214.2) scale(0.88,1)" font-size="4.8" text-anchor="end">10</text><text transform="translate(325.3,210.5) scale(0.88,1)" font-size="4.4" text-anchor="end">3</text><text transform="translate(322.4,188.4) scale(0.88,1)" font-size="4.8" text-anchor="end">10</text><text transform="translate(325.3,184.7) scale(0.88,1)" font-size="4.4" text-anchor="end">4</text><text transform="translate(322.4,162.8) scale(0.88,1)" font-size="4.8" text-anchor="end">10</text><text transform="translate(325.3,159.1) scale(0.88,1)" font-size="4.4" text-anchor="end">5</text><text x="385.8" y="290.2" font-size="5.2" text-anchor="middle">Comp-Pacific Blue-A</text><text transform="translate(314.6,207) rotate(-90)" font-size="5.2" text-anchor="middle">Comp-FITC-A</text><text transform="translate(493.4,279.3) scale(0.88,1)" font-size="4.8" text-anchor="middle">0</text><text transform="translate(515,279.3) scale(0.88,1)" font-size="4.8" text-anchor="middle">10</text><text transform="translate(518.8,275.5) scale(0.88,1)" font-size="4.4" text-anchor="middle">2</text><text transform="translate(540.1,279.3) scale(0.88,1)" font-size="4.8" text-anchor="middle">10</text><text transform="translate(543.9,275.5) scale(0.88,1)" font-size="4.4" text-anchor="middle">3</text><text transform="translate(564.9,279.3) scale(0.88,1)" font-size="4.8" text-anchor="middle">10</text><text transform="translate(568.7,275.5) scale(0.88,1)" font-size="4.4" text-anchor="middle">4</text><text transform="translate(590.2,279.3) scale(0.88,1)" font-size="4.8" text-anchor="middle">10</text><text transform="translate(594,275.5) scale(0.88,1)" font-size="4.4" text-anchor="middle">5</text><text transform="translate(481,264.5) scale(0.88,1)" font-size="4.8" text-anchor="end">0</text><text transform="translate(481,245.5) scale(0.88,1)" font-size="4.8" text-anchor="end">50K</text><text transform="translate(481,223.4) scale(0.88,1)" font-size="4.8" text-anchor="end">100K</text><text transform="translate(481,201.2) scale(0.88,1)" font-size="4.8" text-anchor="end">150K</text><text transform="translate(481,179.1) scale(0.88,1)" font-size="4.8" text-anchor="end">200K</text><text transform="translate(481,157) scale(0.88,1)" font-size="4.8" text-anchor="end">250K</text><text x="541" y="289.1" font-size="5.2" text-anchor="middle">Comp-PerCP-Cy5-5-A</text><text transform="translate(467.7,207) rotate(-90)" font-size="5.2" text-anchor="middle">SSC-A</text><text transform="translate(33.6,414.9) scale(0.88,1)" font-size="4.8" text-anchor="middle">0</text><text transform="translate(51.6,414.9) scale(0.88,1)" font-size="4.8" text-anchor="middle">50K</text><text transform="translate(71.9,414.9) scale(0.88,1)" font-size="4.8" text-anchor="middle">100K</text><text transform="translate(92.3,414.9) scale(0.88,1)" font-size="4.8" text-anchor="middle">150K</text><text transform="translate(112.6,414.9) scale(0.88,1)" font-size="4.8" text-anchor="middle">200K</text><text transform="translate(132.9,414.9) scale(0.88,1)" font-size="4.8" text-anchor="middle">250K</text><text transform="translate(26.2,401.5) scale(0.88,1)" font-size="4.8" text-anchor="end">0</text><text transform="translate(26.2,384.7) scale(0.88,1)" font-size="4.8" text-anchor="end">50K</text><text transform="translate(26.2,364.4) scale(0.88,1)" font-size="4.8" text-anchor="end">100K</text><text transform="translate(26.2,344) scale(0.88,1)" font-size="4.8" text-anchor="end">150K</text><text transform="translate(26.2,323.7) scale(0.88,1)" font-size="4.8" text-anchor="end">200K</text><text transform="translate(26.2,303.3) scale(0.88,1)" font-size="4.8" text-anchor="end">250K</text><text x="87" y="423.6" font-size="5.2" text-anchor="middle">FSC-A</text><text transform="translate(13.8,348) rotate(-90)" font-size="5.2" text-anchor="middle">SSC-A</text><text transform="translate(181.5,415.9) scale(0.88,1)" font-size="4.8" text-anchor="middle">0</text><text transform="translate(199.5,415.9) scale(0.88,1)" font-size="4.8" text-anchor="middle">50K</text><text transform="translate(219.8,415.9) scale(0.88,1)" font-size="4.8" text-anchor="middle">100K</text><text transform="translate(240.2,415.9) scale(0.88,1)" font-size="4.8" text-anchor="middle">150K</text><text transform="translate(260.5,415.9) scale(0.88,1)" font-size="4.8" text-anchor="middle">200K</text><text transform="translate(280.8,415.9) scale(0.88,1)" font-size="4.8" text-anchor="middle">250K</text><text transform="translate(174.1,402.5) scale(0.88,1)" font-size="4.8" text-anchor="end">0</text><text transform="translate(174.1,386) scale(0.88,1)" font-size="4.8" text-anchor="end">50K</text><text transform="translate(174.1,365.9) scale(0.88,1)" font-size="4.8" text-anchor="end">100K</text><text transform="translate(174.1,345.7) scale(0.88,1)" font-size="4.8" text-anchor="end">150K</text><text transform="translate(174.1,325.6) scale(0.88,1)" font-size="4.8" text-anchor="end">200K</text><text transform="translate(174.1,305.5) scale(0.88,1)" font-size="4.8" text-anchor="end">250K</text><text x="234.5" y="424.9" font-size="5.2" text-anchor="middle">FSC-A</text><text transform="translate(162.5,349.6) rotate(-90)" font-size="5.2" text-anchor="middle">FSC-W</text><text transform="translate(334.2,419.8) scale(0.88,1)" font-size="4.8" text-anchor="middle">0</text><text transform="translate(355,419.8) scale(0.88,1)" font-size="4.8" text-anchor="middle">10</text><text transform="translate(358.8,416) scale(0.88,1)" font-size="4.4" text-anchor="middle">2</text><text transform="translate(381.4,419.8) scale(0.88,1)" font-size="4.8" text-anchor="middle">10</text><text transform="translate(385.2,416) scale(0.88,1)" font-size="4.4" text-anchor="middle">3</text><text transform="translate(405.1,419.8) scale(0.88,1)" font-size="4.8" text-anchor="middle">10</text><text transform="translate(408.9,416) scale(0.88,1)" font-size="4.4" text-anchor="middle">4</text><text transform="translate(428.1,419.8) scale(0.88,1)" font-size="4.8" text-anchor="middle">10</text><text transform="translate(431.9,416) scale(0.88,1)" font-size="4.4" text-anchor="middle">5</text><text transform="translate(320.7,401.6) scale(0.88,1)" font-size="4.8" text-anchor="end">0</text><text transform="translate(319.8,384.8) scale(0.88,1)" font-size="4.8" text-anchor="end">10</text><text transform="translate(322.7,381.1) scale(0.88,1)" font-size="4.4" text-anchor="end">2</text><text transform="translate(319.8,361) scale(0.88,1)" font-size="4.8" text-anchor="end">10</text><text transform="translate(322.7,357.3) scale(0.88,1)" font-size="4.4" text-anchor="end">3</text><text transform="translate(319.8,336.8) scale(0.88,1)" font-size="4.8" text-anchor="end">10</text><text transform="translate(322.7,333.1) scale(0.88,1)" font-size="4.4" text-anchor="end">4</text><text transform="translate(319.8,313.6) scale(0.88,1)" font-size="4.8" text-anchor="end">10</text><text transform="translate(322.7,309.9) scale(0.88,1)" font-size="4.4" text-anchor="end">5</text><text x="382.6" y="429.4" font-size="5.2" text-anchor="middle">Comp-Pacific Blue-A</text><text transform="translate(312.9,353.6) rotate(-90)" font-size="5.2" text-anchor="middle">Comp-FITC-A</text><text transform="translate(485.5,419.8) scale(0.88,1)" font-size="4.8" text-anchor="middle">0</text><text transform="translate(507.1,419.8) scale(0.88,1)" font-size="4.8" text-anchor="middle">10</text><text transform="translate(510.9,416) scale(0.88,1)" font-size="4.4" text-anchor="middle">2</text><text transform="translate(532.7,419.8) scale(0.88,1)" font-size="4.8" text-anchor="middle">10</text><text transform="translate(536.5,416) scale(0.88,1)" font-size="4.4" text-anchor="middle">3</text><text transform="translate(557,419.8) scale(0.88,1)" font-size="4.8" text-anchor="middle">10</text><text transform="translate(560.8,416) scale(0.88,1)" font-size="4.4" text-anchor="middle">4</text><text transform="translate(580.7,419.8) scale(0.88,1)" font-size="4.8" text-anchor="middle">10</text><text transform="translate(584.5,416) scale(0.88,1)" font-size="4.4" text-anchor="middle">5</text><text transform="translate(471.5,401.6) scale(0.88,1)" font-size="4.8" text-anchor="end">0</text><text transform="translate(470.6,384.8) scale(0.88,1)" font-size="4.8" text-anchor="end">10</text><text transform="translate(473.5,381.1) scale(0.88,1)" font-size="4.4" text-anchor="end">2</text><text transform="translate(470.6,359.2) scale(0.88,1)" font-size="4.8" text-anchor="end">10</text><text transform="translate(473.5,355.5) scale(0.88,1)" font-size="4.4" text-anchor="end">3</text><text transform="translate(470.6,336.8) scale(0.88,1)" font-size="4.8" text-anchor="end">10</text><text transform="translate(473.5,333.1) scale(0.88,1)" font-size="4.4" text-anchor="end">4</text><text transform="translate(470.6,313.6) scale(0.88,1)" font-size="4.8" text-anchor="end">10</text><text transform="translate(473.5,309.9) scale(0.88,1)" font-size="4.4" text-anchor="end">5</text><text x="534" y="429.4" font-size="5.2" text-anchor="middle">Comp-PE-Cy7-A</text><text transform="translate(463.8,353.6) rotate(-90)" font-size="5.2" text-anchor="middle">Comp-APC-A</text><text transform="translate(638.4,421.4) scale(0.88,1)" font-size="4.8" text-anchor="middle">0</text><text transform="translate(659.6,421.4) scale(0.88,1)" font-size="4.8" text-anchor="middle">10</text><text transform="translate(663.4,417.6) scale(0.88,1)" font-size="4.4" text-anchor="middle">2</text><text transform="translate(684.6,421.4) scale(0.88,1)" font-size="4.8" text-anchor="middle">10</text><text transform="translate(688.4,417.6) scale(0.88,1)" font-size="4.4" text-anchor="middle">3</text><text transform="translate(709.1,421.4) scale(0.88,1)" font-size="4.8" text-anchor="middle">10</text><text transform="translate(712.9,417.6) scale(0.88,1)" font-size="4.4" text-anchor="middle">4</text><text transform="translate(732.1,421.4) scale(0.88,1)" font-size="4.8" text-anchor="middle">10</text><text transform="translate(735.9,417.6) scale(0.88,1)" font-size="4.4" text-anchor="middle">5</text><text transform="translate(625.7,408) scale(0.88,1)" font-size="4.8" text-anchor="end">0</text><text transform="translate(625.7,391.4) scale(0.88,1)" font-size="4.8" text-anchor="end">50K</text><text transform="translate(625.7,371.2) scale(0.88,1)" font-size="4.8" text-anchor="end">100K</text><text transform="translate(625.7,351.1) scale(0.88,1)" font-size="4.8" text-anchor="end">150K</text><text transform="translate(625.7,330.9) scale(0.88,1)" font-size="4.8" text-anchor="end">200K</text><text transform="translate(625.7,310.7) scale(0.88,1)" font-size="4.8" text-anchor="end">250K</text><text x="686.3" y="430.2" font-size="5.2" text-anchor="middle">Comp-PE-A</text><text transform="translate(612.9,355) rotate(-90)" font-size="5.2" text-anchor="middle">SSC-A</text><text transform="translate(31.5,560) scale(0.88,1)" font-size="4.8" text-anchor="middle">0</text><text transform="translate(50.1,560) scale(0.88,1)" font-size="4.8" text-anchor="middle">50K</text><text transform="translate(71,560) scale(0.88,1)" font-size="4.8" text-anchor="middle">100K</text><text transform="translate(91.9,560) scale(0.88,1)" font-size="4.8" text-anchor="middle">150K</text><text transform="translate(112.8,560) scale(0.88,1)" font-size="4.8" text-anchor="middle">200K</text><text transform="translate(133.7,560) scale(0.88,1)" font-size="4.8" text-anchor="middle">250K</text><text transform="translate(24.4,547.3) scale(0.88,1)" font-size="4.8" text-anchor="end">0</text><text transform="translate(24.4,530.3) scale(0.88,1)" font-size="4.8" text-anchor="end">50K</text><text transform="translate(24.4,510.2) scale(0.88,1)" font-size="4.8" text-anchor="end">100K</text><text transform="translate(24.4,490) scale(0.88,1)" font-size="4.8" text-anchor="end">150K</text><text transform="translate(24.4,469.9) scale(0.88,1)" font-size="4.8" text-anchor="end">200K</text><text transform="translate(24.4,449.8) scale(0.88,1)" font-size="4.8" text-anchor="end">250K</text><text x="86" y="569.2" font-size="5.2" text-anchor="middle">FSC-A</text><text transform="translate(11.9,492.8) rotate(-90)" font-size="5.2" text-anchor="middle">SSC-A</text><text transform="translate(183.6,559.2) scale(0.88,1)" font-size="4.8" text-anchor="middle">0</text><text transform="translate(202.3,559.2) scale(0.88,1)" font-size="4.8" text-anchor="middle">50K</text><text transform="translate(223.3,559.2) scale(0.88,1)" font-size="4.8" text-anchor="middle">100K</text><text transform="translate(244.4,559.2) scale(0.88,1)" font-size="4.8" text-anchor="middle">150K</text><text transform="translate(265.4,559.2) scale(0.88,1)" font-size="4.8" text-anchor="middle">200K</text><text transform="translate(286.4,559.2) scale(0.88,1)" font-size="4.8" text-anchor="middle">250K</text><text transform="translate(175.8,546.5) scale(0.88,1)" font-size="4.8" text-anchor="end">0</text><text transform="translate(175.8,529.7) scale(0.88,1)" font-size="4.8" text-anchor="end">50K</text><text transform="translate(175.8,509.9) scale(0.88,1)" font-size="4.8" text-anchor="end">100K</text><text transform="translate(175.8,490) scale(0.88,1)" font-size="4.8" text-anchor="end">150K</text><text transform="translate(175.8,470.2) scale(0.88,1)" font-size="4.8" text-anchor="end">200K</text><text transform="translate(175.8,450.3) scale(0.88,1)" font-size="4.8" text-anchor="end">250K</text><text x="237.5" y="568.7" font-size="5.2" text-anchor="middle">FSC-A</text><text transform="translate(163.4,493.4) rotate(-90)" font-size="5.2" text-anchor="middle">FSC-W</text><text transform="translate(337.9,555.7) scale(0.88,1)" font-size="4.8" text-anchor="middle">0</text><text transform="translate(357.8,555.7) scale(0.88,1)" font-size="4.8" text-anchor="middle">10</text><text transform="translate(361.6,551.9) scale(0.88,1)" font-size="4.4" text-anchor="middle">2</text><text transform="translate(383.9,555.7) scale(0.88,1)" font-size="4.8" text-anchor="middle">10</text><text transform="translate(387.7,551.9) scale(0.88,1)" font-size="4.4" text-anchor="middle">3</text><text transform="translate(408,555.7) scale(0.88,1)" font-size="4.8" text-anchor="middle">10</text><text transform="translate(411.8,551.9) scale(0.88,1)" font-size="4.4" text-anchor="middle">4</text><text transform="translate(432.6,555.7) scale(0.88,1)" font-size="4.8" text-anchor="middle">10</text><text transform="translate(436.4,551.9) scale(0.88,1)" font-size="4.4" text-anchor="middle">5</text><text transform="translate(323.4,539.5) scale(0.88,1)" font-size="4.8" text-anchor="end">0</text><text transform="translate(322.5,521.7) scale(0.88,1)" font-size="4.8" text-anchor="end">10</text><text transform="translate(325.4,518) scale(0.88,1)" font-size="4.4" text-anchor="end">2</text><text transform="translate(322.5,498.4) scale(0.88,1)" font-size="4.8" text-anchor="end">10</text><text transform="translate(325.4,494.7) scale(0.88,1)" font-size="4.4" text-anchor="end">3</text><text transform="translate(322.5,474.8) scale(0.88,1)" font-size="4.8" text-anchor="end">10</text><text transform="translate(325.4,471.1) scale(0.88,1)" font-size="4.4" text-anchor="end">4</text><text transform="translate(322.5,452) scale(0.88,1)" font-size="4.8" text-anchor="end">10</text><text transform="translate(325.4,448.3) scale(0.88,1)" font-size="4.4" text-anchor="end">5</text><text x="386" y="565.6" font-size="5.2" text-anchor="middle">Comp-Pacific Blue-A</text><text transform="translate(314.6,491.3) rotate(-90)" font-size="5.2" text-anchor="middle">Comp-FITC-A</text><text transform="translate(496,557.5) scale(0.88,1)" font-size="4.8" text-anchor="middle">0</text><text transform="translate(517.4,557.5) scale(0.88,1)" font-size="4.8" text-anchor="middle">10</text><text transform="translate(521.2,553.7) scale(0.88,1)" font-size="4.4" text-anchor="middle">2</text><text transform="translate(542.6,557.5) scale(0.88,1)" font-size="4.8" text-anchor="middle">10</text><text transform="translate(546.4,553.7) scale(0.88,1)" font-size="4.4" text-anchor="middle">3</text><text transform="translate(568.1,557.5) scale(0.88,1)" font-size="4.8" text-anchor="middle">10</text><text transform="translate(571.9,553.7) scale(0.88,1)" font-size="4.4" text-anchor="middle">4</text><text transform="translate(592.6,557.5) scale(0.88,1)" font-size="4.8" text-anchor="middle">10</text><text transform="translate(596.4,553.7) scale(0.88,1)" font-size="4.4" text-anchor="middle">5</text><text transform="translate(482.2,540.7) scale(0.88,1)" font-size="4.8" text-anchor="end">0</text><text transform="translate(481.3,523.7) scale(0.88,1)" font-size="4.8" text-anchor="end">10</text><text transform="translate(484.2,520) scale(0.88,1)" font-size="4.4" text-anchor="end">2</text><text transform="translate(481.3,500) scale(0.88,1)" font-size="4.8" text-anchor="end">10</text><text transform="translate(484.2,496.3) scale(0.88,1)" font-size="4.4" text-anchor="end">3</text><text transform="translate(481.3,476.6) scale(0.88,1)" font-size="4.8" text-anchor="end">10</text><text transform="translate(484.2,472.9) scale(0.88,1)" font-size="4.4" text-anchor="end">4</text><text transform="translate(481.3,453.3) scale(0.88,1)" font-size="4.8" text-anchor="end">10</text><text transform="translate(484.2,449.6) scale(0.88,1)" font-size="4.4" text-anchor="end">5</text><text x="542.4" y="566.9" font-size="5.2" text-anchor="middle">Comp-PE-Cy7-A</text><text transform="translate(474.2,492) rotate(-90)" font-size="5.2" text-anchor="middle">Comp-PE-A</text><text transform="translate(94.4,62) scale(0.9,1)" font-size="5.7" text-anchor="middle" fill="#000">cells</text><text transform="translate(94.9,69.4) scale(0.9,1)" font-size="5.7" text-anchor="middle" fill="#000">54.3</text><text transform="translate(221.3,57.2) scale(0.9,1)" font-size="5.7" text-anchor="middle" fill="#000">Single Cells</text><text transform="translate(221.3,65.1) scale(0.9,1)" font-size="5.7" text-anchor="middle" fill="#000">89.6</text><text transform="translate(382.5,46.6) scale(0.9,1)" font-size="5.7" text-anchor="middle" fill="#000">CD45+,MHC2+</text><text transform="translate(383.7,54.3) scale(0.9,1)" font-size="5.7" text-anchor="middle" fill="#000">55.8</text><text transform="translate(559,51.1) scale(0.9,1)" font-size="5.7" text-anchor="middle" fill="#000">monocytes</text><text transform="translate(559.6,60.4) scale(0.9,1)" font-size="5.7" text-anchor="middle" fill="#000">56.7</text><text transform="translate(95.5,211.2) scale(0.9,1)" font-size="5.7" text-anchor="middle" fill="#000">cells</text><text transform="translate(95.8,219.6) scale(0.9,1)" font-size="5.7" text-anchor="middle" fill="#000">31.2</text><text transform="translate(219.7,202.5) scale(0.9,1)" font-size="5.7" text-anchor="middle" fill="#000">Single Cells</text><text transform="translate(219,210.8) scale(0.9,1)" font-size="5.7" text-anchor="middle" fill="#000">57.3</text><text transform="translate(423.2,194.6) scale(0.9,1)" font-size="5.7" text-anchor="middle" fill="#000">CD45+, CD3+</text><text transform="translate(423.2,202.5) scale(0.9,1)" font-size="5.7" text-anchor="middle" fill="#000">89.1</text><text transform="translate(566,217) scale(0.9,1)" font-size="5.7" text-anchor="middle" fill="#000">NK cells</text><text transform="translate(566,226.2) scale(0.9,1)" font-size="5.7" text-anchor="middle" fill="#000">59.5</text><text transform="translate(94.2,348.8) scale(0.9,1)" font-size="5.7" text-anchor="middle" fill="#000">cells</text><text transform="translate(94.5,356.2) scale(0.9,1)" font-size="5.7" text-anchor="middle" fill="#000">35.3</text><text transform="translate(238.2,346.2) scale(0.9,1)" font-size="5.7" text-anchor="middle" fill="#000">Single Cells</text><text transform="translate(238.7,353.6) scale(0.9,1)" font-size="5.7" text-anchor="middle" fill="#000">74.5</text><text transform="translate(418.7,329.5) scale(0.9,1)" font-size="5.7" text-anchor="middle" fill="#000">CD45+, CD3+</text><text transform="translate(418.7,337.7) scale(0.9,1)" font-size="5.7" text-anchor="middle" fill="#000">95.2</text><text transform="translate(568.7,337.7) scale(0.9,1)" font-size="5.7" text-anchor="middle" fill="#000">CD4+, Foxp3+</text><text transform="translate(568.2,344.8) scale(0.9,1)" font-size="5.7" text-anchor="middle" fill="#000">40.3</text><text transform="translate(708.2,354.8) scale(0.9,1)" font-size="5.7" text-anchor="middle" fill="#000">Treg Cells</text><text transform="translate(708.2,362.5) scale(0.9,1)" font-size="5.7" text-anchor="middle" fill="#000">48.2</text><text transform="translate(107.6,511.6) scale(0.9,1)" font-size="5.7" text-anchor="middle" fill="#000">cells</text><text transform="translate(108,518.7) scale(0.9,1)" font-size="5.7" text-anchor="middle" fill="#000">54.2</text><text transform="translate(247,478.7) scale(0.9,1)" font-size="5.7" text-anchor="middle" fill="#000">Single Cells</text><text transform="translate(247.6,486.3) scale(0.9,1)" font-size="5.7" text-anchor="middle" fill="#000">85.5</text><text transform="translate(365.8,463) scale(0.9,1)" font-size="5.7" text-anchor="middle" fill="#000">CD45+, CD3+</text><text transform="translate(366.3,470.3) scale(0.9,1)" font-size="5.7" text-anchor="middle" fill="#000">91.5</text><text transform="translate(507.7,485) scale(0.9,1)" font-size="5.7" text-anchor="middle" fill="#000">CD8+ T Cells</text><text transform="translate(507.7,492.1) scale(0.9,1)" font-size="5.7" text-anchor="middle" fill="#000">28.8</text><text transform="translate(582.2,505.3) scale(0.9,1)" font-size="5.7" text-anchor="middle" fill="#000">CD4+ T Cells</text><text transform="translate(583,512.4) scale(0.9,1)" font-size="5.7" text-anchor="middle" fill="#000">8.02</text><text transform="translate(-0.2,9.8) scale(0.88,1)" font-size="12" fill="#111">A</text><text transform="translate(0.4,157.5) scale(0.88,1)" font-size="12" fill="#111">B</text><text transform="translate(0.6,305.6) scale(0.88,1)" font-size="12" fill="#111">C</text><text transform="translate(0.4,452.1) scale(0.88,1)" font-size="12" fill="#111">D</text></g></svg></body></html>
